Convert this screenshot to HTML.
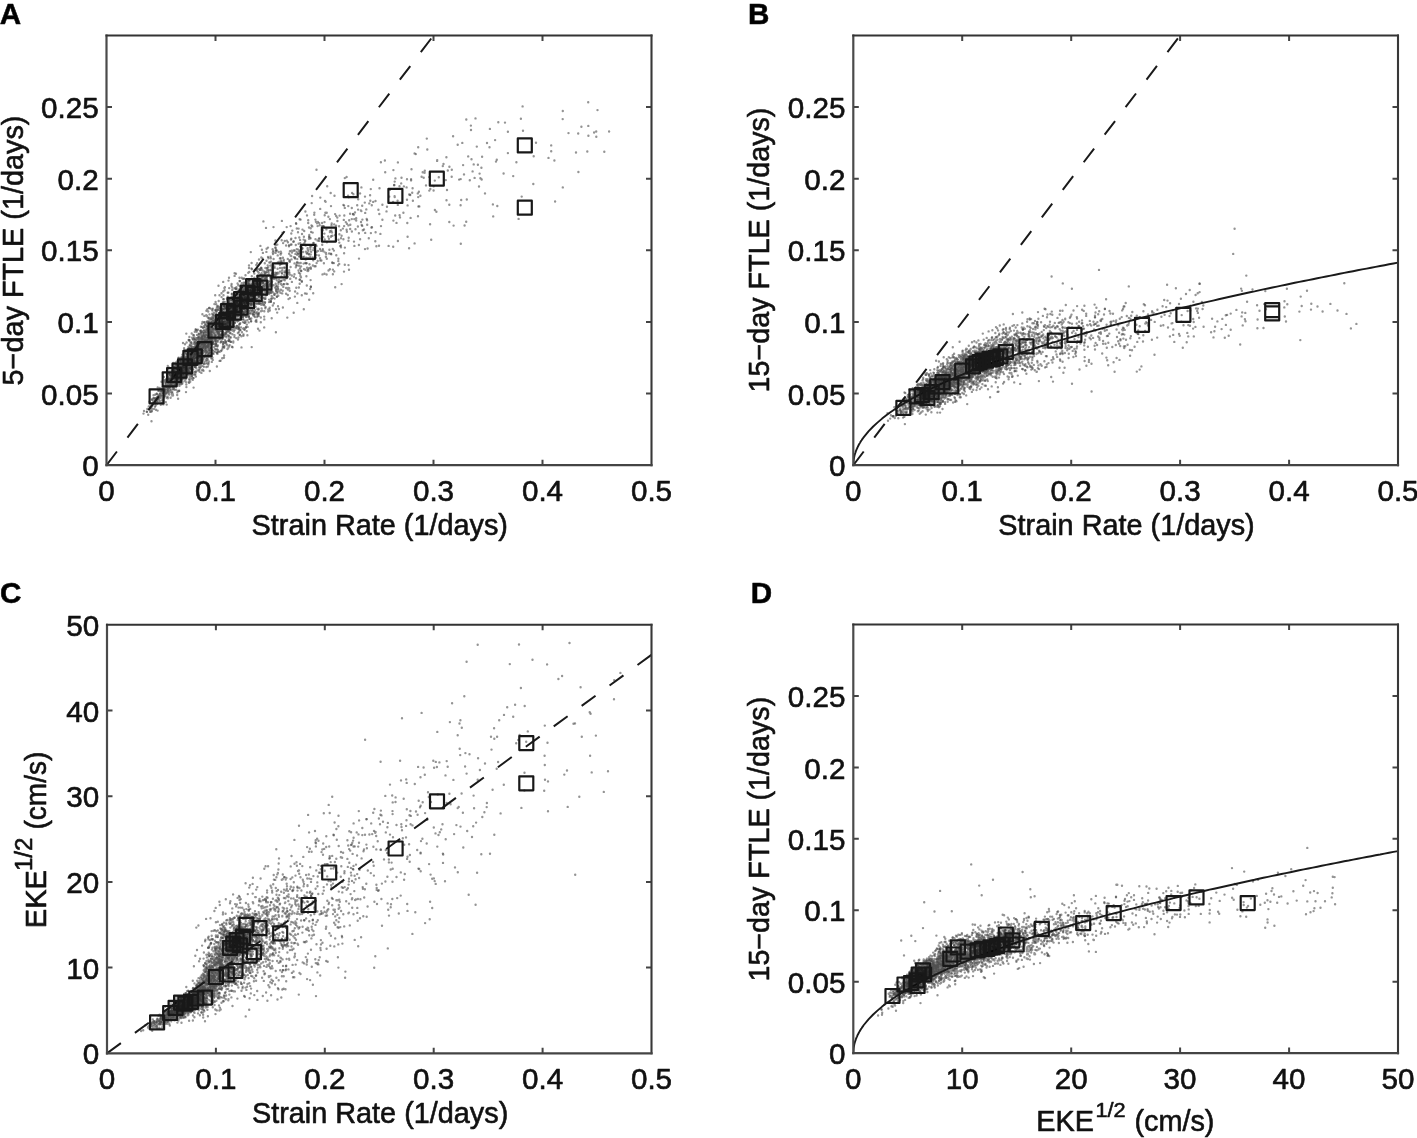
<!DOCTYPE html>
<html><head><meta charset="utf-8"><title>Figure</title>
<style>html,body{margin:0;padding:0;background:#fff;overflow:hidden;}svg{display:block;filter:blur(0.75px);}text{stroke:#111;stroke-width:0.6px;}</style>
</head><body>
<svg width="1417" height="1138" viewBox="0 0 1417 1138" font-family="'Liberation Sans', sans-serif" font-size="28.5" fill="#111">
<rect width="1417" height="1138" fill="#fff"/>
<g stroke-linejoin="round">
<clipPath id="cA"><rect x="106.5" y="35.5" width="545" height="429.7"/></clipPath>
<g clip-path="url(#cA)">
<path d="M172.3 392.1h0M204.3 315.9h0M173.6 368.4h0M161.5 395.5h0M189 359.9h0M211.1 330.8h0M236.4 303.1h0M203 351.3h0M207.7 337.6h0M210.4 351.2h0M245.6 322.2h0M177.3 369.9h0M244.4 294.6h0M223.1 323.2h0M271 261.6h0M179.8 360.9h0M215.6 329.8h0M223.9 327.1h0M238.3 290.9h0M168.4 390.7h0M210.8 327h0M216.9 366.5h0M241.5 347.4h0M173.1 371.7h0M213.6 316.4h0M206.9 315.8h0M187.4 366.1h0M190.6 361.5h0M194.5 351.6h0M272.8 252.5h0M209.4 320.6h0M257.8 279.5h0M201 353.2h0M227.2 323h0M207.8 366.6h0M163.4 386.2h0M220.9 341.8h0M310.3 257h0M228.6 324.9h0M247.7 308.5h0M187.6 366.4h0M224.8 316.8h0M214.6 327.8h0M161.1 389.4h0M291.5 244.4h0M169.8 389.1h0M262.9 298.2h0M229.3 307.1h0M269.7 307.6h0M212.3 309.4h0M221.8 323.2h0M238.8 305h0M186 368.1h0M181.8 364.8h0M210.8 324.1h0M216.2 315h0M262.9 252.9h0M253.3 282h0M229.1 308.9h0M220 335.3h0M239.2 315.1h0M159.7 387.9h0M178.5 374.1h0M207.6 346.9h0M221.8 305.6h0M241.4 306.5h0M183.4 371.4h0M189.8 355.4h0M209.5 350.7h0M224.1 306.1h0M191.6 362.6h0M177.6 372.2h0M194.9 347.1h0M215.3 341.3h0M186.6 342.5h0M266 227.9h0M186.6 362.5h0M204.4 332.5h0M320 248.9h0M216.1 335.1h0M249.6 303.6h0M354 241.6h0M187.1 362.1h0M256.5 303.9h0M234.5 319h0M233.6 311h0M354 214.6h0M162.6 388h0M181.4 377.4h0M200.4 331.1h0M268.8 286.7h0M279.3 261.6h0M240.4 310.5h0M235.2 308h0M159.3 395.6h0M241.2 290.6h0M182.1 376.3h0M187.8 366.9h0M167.6 388h0M209.8 351.6h0M220.6 324.4h0M180.4 373.6h0M191.8 374.7h0M275.9 309.2h0M166.3 382.4h0M199.4 346.8h0M186.6 356h0M227.6 334.8h0M165 391.5h0M229.9 313.8h0M248.2 290.3h0M242.5 313.6h0M185 357.7h0M315.6 266.2h0M229 317.2h0M230.3 312h0M176.4 376.4h0M227.8 304.6h0M285.8 271.7h0M187.5 361.5h0M226.5 315.7h0M244.4 322.6h0M222.4 323h0M168 382.9h0M243.9 286.8h0M255.4 279.7h0M181.9 367h0M240.9 303.6h0M195.4 345.3h0M170.5 384.4h0M236.4 293.9h0M234.6 318.3h0M329.9 219.1h0M239.6 303.8h0M197.3 357.3h0M191.8 344.1h0M155.9 409.8h0M241.2 316.3h0M198.2 344.8h0M168.3 379.5h0M268.6 292h0M176.8 361.6h0M231.4 316.2h0M212.8 359.9h0M270.8 301.9h0M252.8 293h0M284.9 276.6h0M190.3 355.1h0M222.2 328.8h0M180.8 382.3h0M268.9 274.7h0M229 277.7h0M261.7 273.3h0M209.8 319.8h0M216.3 323.4h0M167.5 376.2h0M217.7 341.7h0M181.8 377.9h0M163 400.3h0M234.6 273.3h0M204 322.4h0M251.6 293.5h0M281.1 236.1h0M270.5 256.6h0M187.3 363.2h0M226.4 323.7h0M212.5 328.5h0M328.2 236.4h0M199 370.2h0M255 317h0M219.6 307h0M209.6 350.7h0M201.5 332.1h0M207.2 340.7h0M203.3 359.4h0M262 301.4h0M222.1 319.1h0M248.6 299.6h0M157.1 398.4h0M210.9 329.3h0M207.2 326.2h0M255.9 300h0M174.2 373.9h0M249.3 293.1h0M215.3 340.2h0M310.6 280.1h0M344.1 226.1h0M236.4 287.2h0M236 300.1h0M186.9 372.5h0M175.9 380.1h0M198.9 354h0M216.8 333.6h0M298.5 270.5h0M251.9 292.2h0M172.2 377.6h0M269.2 294h0M219 323.3h0M245.1 291.7h0M188.1 358.6h0M235.7 312.7h0M225.7 307.8h0M200.6 367h0M180.9 381.3h0M271.3 298.4h0M294.8 258h0M269.5 292.2h0M178 374.1h0M212.6 328.3h0M241.7 283.2h0M162.9 401h0M264.5 272.4h0M208 339.6h0M191.5 357.2h0M199.5 367h0M146.9 411.6h0M229.4 327.7h0M236.6 288.7h0M203.5 340.2h0M183.3 370.9h0M153.5 395.2h0M245.4 288.9h0M194.7 340.3h0M212.1 357.7h0M261.7 302.2h0M251.3 318.5h0M299.9 279.6h0M214.5 328.7h0M210.7 335.2h0M241.1 327.4h0M257.6 290.9h0M211.3 331.9h0M239.4 300h0M185.8 373.4h0M233.7 328.7h0M289.4 261.1h0M150 407.9h0M211 338.9h0M192.9 357.6h0M171.1 379h0M201.9 337.4h0M257.9 283.9h0M203.3 334.7h0M187.1 368.9h0M191.9 358.9h0M244.1 294.7h0M173.6 378.3h0M234.2 312.8h0M185.4 365.5h0M261.1 278.2h0M227.7 296.7h0M211.3 340.4h0M299.9 255.5h0M224 313.8h0M275.7 283.8h0M161.5 381.8h0M208 334.9h0M261.5 287.8h0M199.5 349.2h0M204.2 347.5h0M209 338.8h0M200 352.5h0M203.8 346.5h0M195.8 364.6h0M297.1 254.8h0M206.5 338.8h0M315.6 257.4h0M308 271h0M201.5 339.9h0M203.9 357.5h0M236.2 338.1h0M223.2 328.2h0M266.4 285.8h0M243.9 302.6h0M210.8 319.5h0M229.6 307.1h0M236.5 297.8h0M266 272.3h0M232.8 310.4h0M198.4 352.8h0M208 321.4h0M411.5 169.3h0M194.9 354.8h0M242.2 308.4h0M236 328.1h0M240.9 316.2h0M189.3 360.3h0M225 312.1h0M225.2 305.4h0M231.1 312.1h0M275.2 247.6h0M185.9 364h0M206.9 339.2h0M257.2 299.2h0M258 284.3h0M237.2 294.5h0M250.4 310.4h0M208.3 330.7h0M264.7 274.1h0M210.9 347.8h0M218.8 351.9h0M225.8 334.1h0M201.5 358.5h0M298.2 253.9h0M150.7 405.9h0M219 335.6h0M194.8 355.9h0M231.6 284h0M203.3 351.2h0M211.3 334.4h0M194.5 337.6h0M229.4 304.4h0M214.1 347.2h0M176.8 384h0M209.9 339.9h0M212 318.4h0M225.6 315.5h0M196.1 347h0M278 306.2h0M215.8 329.2h0M176.2 379.2h0M189.2 363.1h0M232.8 307.5h0M173.8 387.8h0M252.1 288.1h0M240.8 303.2h0M250.8 252.1h0M148.2 414.7h0M152 399.8h0M195.2 366.8h0M210.3 335.3h0M272.2 284.9h0M221.6 297.1h0M205 335.7h0M242.8 289h0M205.7 343.6h0M220.4 336h0M275.9 250h0M223.5 336.5h0M281.3 261.9h0M218.4 336.7h0M286.7 227.1h0M211.1 318.8h0M194.3 359.1h0M289.4 272.4h0M245.9 288.1h0M205.3 339.8h0M233.6 317.6h0M188.2 360.9h0M212.9 353.3h0M261.1 303.1h0M155 406.8h0M289.9 251.2h0M249.6 292.7h0M268.5 258.2h0M257.5 315.8h0M200.4 360.5h0M251.5 268.4h0M203.3 343.9h0M208.5 344.3h0M225.8 341.4h0M256.3 320h0M365.2 232.9h0M184.1 366.7h0M191.3 358h0M184.5 376.4h0M209.8 342.6h0M173.4 388.8h0M178.4 378.3h0M277.3 244.6h0M359 258.6h0M156 398.2h0M219.1 333.2h0M239.8 305.1h0M228.6 331.5h0M272.6 249.2h0M247.6 326.9h0M248.3 293.7h0M219.1 329.7h0M218.7 334h0M181.3 371.8h0M241.7 277.8h0M282.2 293.4h0M232.6 327.9h0M247.5 279.1h0M417.8 193.4h0M247.1 287.7h0M233.9 303.2h0M209.4 307.9h0M306.7 293.8h0M183.6 358.6h0M204.8 335.6h0M185 362.6h0M256.5 283.5h0M190.2 381.7h0M266.3 275.9h0M192 347.9h0M272.3 297.3h0M184.2 373.4h0M186.8 362.4h0M196.6 359.2h0M184.5 378.3h0M243.2 289.5h0M211.3 357.6h0M197.1 343.7h0M189.6 358.5h0M155 394.8h0M273.9 303.2h0M205.3 351.2h0M188.7 364.2h0M161.4 390.9h0M326.4 229.4h0M224.6 321.4h0M283.7 261.4h0M216.7 308.3h0M251.1 320.9h0M259.2 303.7h0M221.6 321.6h0M249.5 280.5h0M179.9 376.2h0M228 330.3h0M246.7 297.4h0M207.8 322h0M220.7 310.5h0M173.8 370.2h0M167.8 366h0M296.7 252h0M223.5 318.4h0M182.4 379h0M226.8 331.8h0M202.9 354.2h0M195.1 355h0M184.4 372.1h0M208.2 322h0M181.1 377.8h0M179.8 359.6h0M195.1 373.4h0M271.8 284.8h0M195 351.7h0M208.7 341.6h0M195.4 373.9h0M407 199.7h0M218.8 323.5h0M244.6 322.9h0M305.4 211.5h0M152.2 406h0M237.4 307.3h0M189.2 382.7h0M180.2 367h0M202.1 337.6h0M239.8 302.4h0M276.6 273h0M189.4 371.6h0M202.1 335.6h0M301.2 271h0M209.3 334.1h0M168.9 379.3h0M243 316.9h0M196 350.8h0M296.2 223.8h0M187.4 361.1h0M300.2 243.3h0M336.2 216h0M224.2 347.8h0M201.2 353.4h0M261.9 281.8h0M201 341.8h0M202.4 337.5h0M233.8 314.8h0M224.2 306.3h0M221.5 334.6h0M229.3 340.1h0M187.3 364.1h0M147.3 408.9h0M229.2 288.1h0M163.9 390h0M219.4 326.9h0M159.2 398.7h0M252.9 301.8h0M210.3 333.6h0M216.8 324.5h0M277.7 255.4h0M227.5 304.9h0M208.1 334.1h0M264.3 319.4h0M212.5 357.8h0M251.2 295.5h0M216 344.1h0M187 373.7h0M219.4 313.6h0M215.2 320h0M223.1 345.5h0M227.5 324.8h0M197.7 356.5h0M201.7 353.2h0M154.1 408.9h0M249.4 299.8h0M216.8 324.5h0M260.7 278.5h0M228.2 320.8h0M175.1 384.4h0M206.1 333.8h0M208.5 346.7h0M194.8 337.6h0M195.2 349.7h0M320.3 197.6h0M174.5 372.4h0M270.7 290.6h0M229.1 321.7h0M183.1 363.9h0M167.1 387.9h0M228.2 325h0M228.4 311h0M238.6 315.2h0M181.8 369.6h0M294.7 250.5h0M247.5 307.1h0M240.5 317.7h0M203.4 347.7h0M216.8 319.5h0M229.3 341h0M270.2 284.2h0M206.3 338.9h0M234.6 329.9h0M228.5 280.6h0M191.8 349.2h0M191 354.3h0M224.7 313.3h0M176.4 383.3h0M191.2 360.1h0M232.2 287.5h0M196.8 345.3h0M227.7 292.7h0M235.9 288.9h0M227.5 321h0M197.5 344.5h0M214.9 325.4h0M183.8 353.5h0M208.8 361.4h0M190.7 356.6h0M203.3 351.7h0M207.7 339.2h0M194.4 347.4h0M159.9 394.2h0M187.4 355.2h0M270.8 286.1h0M208.5 333.5h0M193.6 387.6h0M212.6 341.5h0M238.7 326.4h0M273.5 252.4h0M232.1 310.6h0M258.3 272.3h0M226.1 315.6h0M282.1 273.5h0M208.4 356.8h0M189.5 350.3h0M206.8 316.3h0M217.9 306h0M201 352.4h0M225.8 306.5h0M200.6 358.1h0M277.8 262.4h0M230.5 305.8h0M232.2 312.8h0M217.3 352.5h0M158.5 401h0M184.7 358.1h0M186.3 384.5h0M194.4 365.6h0M348.5 265.1h0M211.7 328.8h0M264.8 273.9h0M215.7 345.7h0M252.3 293.8h0M175.3 380.9h0M239.9 310.6h0M193.2 354.1h0M303.2 252h0M328.5 270.5h0M201.7 343.7h0M165 389.1h0M195.7 353h0M201.6 338.6h0M206.2 340.3h0M236.4 303.6h0M223.9 334.8h0M174.7 385h0M196.4 352.6h0M231.7 296.9h0M228.3 340.8h0M239 331.8h0M258.4 284.7h0M218.8 323.5h0M183.5 366h0M229.6 317.4h0M263.8 286.9h0M261.3 280.2h0M169.4 385.3h0M222.5 315.2h0M224.8 342.7h0M180 377h0M201.9 349.8h0M202.1 359.5h0M173.7 389h0M207.4 329.7h0M243.7 282.8h0M209 326h0M172.7 377.1h0M168.9 367.7h0M199.4 348.9h0M257 312.2h0M196.2 344h0M206.2 315.2h0M168.2 389.5h0M262.1 296.9h0M192.4 349.5h0M308.4 270.4h0M202.3 353.7h0M204.8 346.5h0M223.1 338.6h0M210.5 327.2h0M230.5 304.6h0M196.1 345.3h0M246.9 292.1h0M236.7 299.9h0M205.3 324.9h0M190 345.8h0M226.1 313.9h0M189.2 340.1h0M266.9 288.2h0M222.6 323.1h0M229.7 329h0M259.3 303.7h0M233.3 342.6h0M313.5 243h0M215.2 310.1h0M213.7 322.5h0M208.4 328.6h0M211.3 318.6h0M223.4 347.4h0M176.8 376.2h0M202.2 351.9h0M162.9 392.9h0M228.6 335.4h0M171.1 383.8h0M181.5 368h0M153.3 398.3h0M271.7 318.3h0M194 372.3h0M287.9 242.3h0M182.7 358.9h0M213.9 324.9h0M251.2 291.3h0M190.5 364.9h0M207.8 346.9h0M258.9 301.9h0M261.3 287.4h0M220.2 308.3h0M332.2 262.5h0M179 373.9h0M239.9 335h0M165.8 402.1h0M293.7 312.7h0M177.1 365.2h0M206.8 321.8h0M228.8 308.5h0M168.3 380.7h0M204.4 344.8h0M243.7 290.6h0M235.3 304.1h0M234.7 319.7h0M196 353.1h0M171.2 384.3h0M221.1 309.7h0M218.7 301h0M255 284.2h0M236.1 292.2h0M157.8 400.9h0M260.3 287.6h0M265.2 278.3h0M198 358.1h0M224.4 346h0M255.6 293.6h0M207.4 309.2h0M188.7 352h0M233.3 341.4h0M272.8 297.7h0M217.2 319.2h0M224.3 312.7h0M191.3 345.8h0M205.3 348.3h0M201.9 340.9h0M237 310h0M226.5 313.1h0M232.2 325.2h0M205.1 338h0M171.7 376.3h0M211.7 344h0M207 340.8h0M181.9 376h0M237 326.2h0M208.4 364.6h0M232 315.5h0M306.1 263.4h0M240.3 293.3h0M264 279.4h0M231.7 306.2h0M203.9 350.7h0M182.3 367.1h0M178.9 367.7h0M220 317.7h0M194 356.6h0M216 333.3h0M281.5 276.4h0M201.9 341.2h0M193.9 342.2h0M171.1 392.2h0M286.1 293.8h0M253.8 287.5h0M208.5 339.2h0M195.8 329.9h0M172.5 386.7h0M311.5 225.5h0M192.2 350.3h0M228.8 299.5h0M213.5 322h0M177.8 368.9h0M225.4 307.4h0M222.5 326h0M217.1 346.3h0M219.6 337.9h0M207.8 359.2h0M215.7 344.5h0M309.5 264.3h0M186.4 387.1h0M231.4 328.8h0M162.4 387.3h0M252.4 310.2h0M229.7 345.1h0M199 349.1h0M242.7 306.5h0M241.7 304.4h0M265.1 302.2h0M207.2 346.3h0M242.4 299.3h0M208.9 341.3h0M206.6 341.4h0M192.5 347.3h0M270.6 262.4h0M220.1 314.4h0M220.8 314.5h0M201.9 344.2h0M203.9 366.8h0M207 353.6h0M263 276.8h0M151.1 411.8h0M185.1 363.3h0M238.9 328.1h0M258.8 272.7h0M213.2 317.9h0M193.9 355.4h0M345.8 222.1h0M186 392.1h0M241.4 336.3h0M291.3 238.6h0M172.8 377.3h0M195.2 353.4h0M239.7 297.8h0M214.7 334.5h0M301.9 281.8h0M312.1 196h0M240 309.2h0M152.3 408.6h0M208.7 353.7h0M240.5 302.7h0M232.6 328.9h0M185.1 353h0M203.3 338.7h0M249.9 292h0M235.1 308.3h0M223.8 336.5h0M199.1 367.2h0M185.5 369.9h0M242 332.2h0M239.2 328.9h0M235 305.9h0M170 386.8h0M204 341.2h0M243.1 319.6h0M172.7 383.5h0M188.6 370.5h0M227.5 307h0M219.4 318.5h0M255.3 290.1h0M224.4 323.9h0M244.8 305.1h0M189 364.2h0M218.8 330.7h0M213.7 351.3h0M260 281.9h0M276.9 296.6h0M249 265.4h0M232.8 319.9h0M169.7 390.1h0M227.2 305.1h0M154.9 402h0M169.7 389h0M178.6 370.6h0M151.4 411.7h0M218.6 327.6h0M211.5 340.8h0M257.2 276.2h0M240.2 323.3h0M215 325.4h0M336.3 255.3h0M301.1 247.4h0M191.3 352.8h0M221.3 315.4h0M266.5 276.7h0M310.7 254.4h0M240.5 330.1h0M224.6 290.3h0M195.7 340h0M209.6 356.6h0M184.6 361.7h0M182.2 383.8h0M205.1 356.7h0M202.6 354.3h0M191.5 376.3h0M253.8 314.6h0M211.7 322.9h0M176.7 380h0M179.7 371.5h0M200.5 365.9h0M191.1 354.7h0M189.8 367.7h0M180.8 357.7h0M272.8 305.5h0M220.8 325.9h0M239.1 289.4h0M179.3 368.3h0M209.3 323.7h0M239.3 312.5h0M259.5 269h0M271.2 270.3h0M189.8 361.8h0M204.2 340.5h0M200.5 347.8h0M192.2 367.3h0M233.8 313.2h0M238.1 294.4h0M167.3 390.3h0M166.1 388.8h0M190.8 359.4h0M221.8 321.9h0M268.5 270.3h0M196.7 331.8h0M180.5 376.1h0M183 364.2h0M196 349.2h0M245.5 297.7h0M264.2 327.4h0M254.7 269.9h0M177.7 361h0M189.4 351.4h0M244.4 329.5h0M207.5 341.2h0M217.8 316.4h0M222.3 316.3h0M178.3 369.5h0M218.3 323.7h0M231.8 294.3h0M178.9 384.2h0M234.4 337.1h0M276.5 291.4h0M222.7 318.4h0M199 356.2h0M280.6 281.6h0M246.9 316.5h0M230.3 307.7h0M204.3 341.7h0M261.5 297.5h0M193.5 338.8h0M191.6 371.4h0M213.1 321.1h0M320.3 260.4h0M338.3 261.1h0M231.9 300.3h0M222.8 302.6h0M207 357.9h0M210 341.2h0M190.3 355.9h0M249.2 312.6h0M168.7 380.4h0M236.1 310.4h0M248.9 317h0M244.2 287.7h0M222.8 326.9h0M211.7 337.2h0M206.2 334.8h0M198.8 337.2h0M191.2 342.2h0M189.6 354.3h0M193.1 339.2h0M209.9 342.1h0M171.2 379.9h0M238 290.9h0M207.8 337.9h0M223.8 314.4h0M205.9 339.1h0M235 312.2h0M253.2 289.2h0M219.5 295.2h0M217.7 323.6h0M252.4 298.7h0M232.3 319.4h0M205 348.9h0M218 326h0M186 370.1h0M243.5 308.7h0M184.2 371.2h0M172.5 371.4h0M196.7 352.3h0M217.3 331.5h0M171.2 381h0M169.1 373.9h0M238.5 337.4h0M198.3 345.5h0M211.3 322.1h0M215.8 329.6h0M175.6 362.8h0M175.5 372.3h0M191.8 376.4h0M214.4 304.1h0M212.7 322.9h0M196 358.2h0M165.8 393.8h0M189.9 374.8h0M183.6 358.7h0M178.5 370.2h0M204.2 357.3h0M169.3 374.2h0M158.7 390.4h0M233.9 312h0M206.7 360.4h0M193.1 374.4h0M231.1 313.5h0M195.5 349.7h0M201.7 348.2h0M225.3 333.5h0M260.1 269.9h0M174.1 373.4h0M298.9 272.7h0M186.6 360.2h0M257.9 313.8h0M221.2 311h0M212.6 339.1h0M206 353.5h0M157.8 400.2h0M203.1 357.1h0M228.2 309.5h0M210.1 333.7h0M196.6 354.5h0M194.3 361.2h0M223.2 304h0M172.5 386.2h0M228.6 326.5h0M195.4 344.2h0M222.5 325.5h0M234.5 288.4h0M188.8 360.2h0M305.1 241.4h0M225.2 316.7h0M239.9 303.4h0M221.5 315.2h0M190.2 348.3h0M240.6 291.6h0M158.6 396.9h0M159.5 397.1h0M166.1 385.5h0M213.6 343.8h0M202.8 343.5h0M186.8 360.2h0M254.2 298.7h0M186.3 359.1h0M176.6 365.7h0M195.3 352.2h0M215.8 333.2h0M294.5 263.4h0M284 267.6h0M289.1 270.3h0M239.6 281h0M197 357.8h0M188.7 364.2h0M271.7 296h0M213.5 317.5h0M223 322.5h0M223.2 299.3h0M191.1 353h0M466.2 221.8h0M505 122.6h0M370.9 233.1h0M266.9 280h0M554.4 160.5h0M259.4 293.5h0M272.1 281.6h0M287.9 276.7h0M267.1 294.7h0M326.7 212.7h0M437.1 160.9h0M316.5 254.9h0M395.4 178.4h0M293.3 241.8h0M397.9 241h0M310.2 289h0M259.2 278.1h0M403.4 212.8h0M588.2 102.3h0M346.9 231.7h0M330.9 253.8h0M248.5 290.2h0M284.3 272.1h0M503.6 173.5h0M281 264h0M365 249.1h0M309.1 254.6h0M380.4 233.9h0M308.3 251.1h0M267.1 284.4h0M507.9 153.1h0M272.3 285.6h0M296 278.2h0M376.4 246.2h0M251.8 276.2h0M324.5 222.1h0M324.5 273.8h0M533.3 184h0M588.4 135.8h0M282.7 290.7h0M239.3 328.5h0M331.3 230.7h0M344.3 215.5h0M289.7 290.7h0M489.9 128.9h0M319.7 225.2h0M279.9 258.4h0M323.3 237.1h0M276 289.2h0M410.6 217.9h0M551.2 145.4h0M309.1 236.8h0M360.9 210.5h0M290.6 226.1h0M269.2 288.3h0M275.9 332.3h0M297 265.4h0M464.6 225.5h0M263 286.2h0M317.5 240.5h0M298.6 243.8h0M337.4 221h0M261.2 274.2h0M261 268.6h0M310.7 267.4h0M475.5 118.4h0M447.8 170.5h0M305.7 259.6h0M513.2 176.1h0M320.1 258.3h0M311.7 203.1h0M332.4 235.7h0M384.9 160.5h0M316.5 169.7h0M399.6 215.2h0M308.3 257.9h0M252.2 304.4h0M445.8 180.1h0M597.5 110.1h0M496.8 159.7h0M397.9 162.4h0M251 305.3h0M353.1 213.9h0M431.2 239.7h0M481.7 179.5h0M426.8 138.6h0M268.6 284.4h0M299.7 256h0M259.7 303.4h0M267.7 282.7h0M379.3 214h0M426 185.4h0M442.8 166.1h0M477.9 164.7h0M323.4 226.2h0M353.4 194.2h0M325.4 212.8h0M438.8 177.2h0M578.4 172h0M396.5 222.9h0M262.8 286.9h0M267.4 286.4h0M460.6 205.3h0M317.9 221.9h0M317.6 226.1h0M411.1 179.3h0M489.5 147.2h0M350.2 229h0M361.4 187.4h0M307.5 270.9h0M322.2 233.6h0M487 143h0M349 269.8h0M340.8 230.2h0M317 223.3h0M334.2 271.4h0M326.8 258.8h0M311.1 232h0M401.2 183.4h0M262.9 282.6h0M336.1 225.7h0M264.8 299h0M298 232.3h0M386.5 211.4h0M299.7 251.7h0M459.1 179.6h0M322.9 249.2h0M474.6 177.9h0M397.6 200.8h0M479 186.5h0M482.1 156.7h0M240.9 306.1h0M536 142.8h0M257.7 283.3h0M254.1 312.4h0M343.4 204.9h0M279.1 279.7h0M481.4 167.7h0M449.3 204.7h0M315.9 221.7h0M407.6 205.4h0M285.4 270.6h0M246.3 301.7h0M372 227.2h0M278 288.5h0M341 238.3h0M516.4 162.2h0M314.4 212.6h0M385.2 172.2h0M245.2 320.8h0M361.4 211.1h0M476.8 146.6h0M316.5 245.9h0M369.3 203.4h0M437.2 160.1h0M296.8 249.1h0M256.3 280.7h0M268.6 272.7h0M249.8 313.1h0M245.3 298.9h0M449.4 166.8h0M252.3 303.4h0M248.5 298h0M282.5 232.6h0M348.4 225.4h0M362.4 219.6h0M284.1 284.2h0M394.1 185.2h0M307.7 270.4h0M329 238.7h0M278.4 283.8h0M419.3 206.4h0M268.8 284.9h0M337.3 217.5h0M433.6 190.5h0M346.9 223.8h0M331.7 223.4h0M327.2 186.3h0M344.8 264.7h0M507.9 131.7h0M495.1 140.1h0M335.1 235.1h0M339.1 226.2h0" fill="none" stroke="#404040" stroke-width="2.4" stroke-linecap="round" opacity="0.56"/>
<path d="M270.7 277.8h0M210.6 332.6h0M239.7 297.3h0M343.8 219.9h0M251.7 311.2h0M246.2 284.4h0M278.4 281.9h0M251.7 284h0M231 303.3h0M298.5 249.8h0M248.1 303.2h0M172.6 383.5h0M191.9 376h0M225.3 334.9h0M210 345.1h0M218.4 307.4h0M215.9 342.2h0M234.4 327.2h0M188 371.9h0M223.5 332.4h0M232 316.4h0M167.7 389.6h0M178.6 357.8h0M185 368.4h0M234.6 275.9h0M291.9 281.9h0M228.3 320.4h0M164.5 396.2h0M213.3 331.4h0M244.2 297.9h0M231.7 315.4h0M225.3 324h0M189.3 362h0M204.8 342.2h0M259.9 269.7h0M208.9 350.2h0M198.9 333.8h0M209.8 371h0M245.8 311.8h0M216.6 316.9h0M212.4 343.3h0M215.3 336.2h0M235.2 311.5h0M198.9 363.3h0M207.7 343.9h0M224.1 355.4h0M248.7 306.5h0M148.8 406.4h0M246.2 300.9h0M172.4 385h0M300.9 258.7h0M237.5 307.2h0M195.7 329.3h0M176.8 382.4h0M227.8 315.4h0M191.2 355.3h0M211.3 332.8h0M269.3 262.5h0M211.5 335.2h0M278.3 295.8h0M212.3 319.4h0M228.1 314.5h0M328.4 216.8h0M180.5 370.8h0M193.9 349.3h0M268 247.6h0M194.9 349.9h0M243.7 306.2h0M201.6 350h0M252 285h0M287.8 289.6h0M198.8 341.5h0M193.6 355.1h0M226.9 326.4h0M261 292.7h0M181.7 367.5h0M220.7 327.1h0M295.1 291.5h0M197.9 345.2h0M199.5 357.5h0M266.1 295.3h0M246.4 299.5h0M184.9 365.1h0M262.7 303.4h0M220.6 360.7h0M155.9 399.8h0M182 372h0M189.1 348.3h0M212.1 340.1h0M220.5 321.7h0M248.3 272.8h0M269.8 310.5h0M247.9 305.2h0M175.2 369h0M207.7 331.7h0M248.4 302.8h0M180.7 363.7h0M192.5 358h0M174.8 384.8h0M208.7 347.7h0M208.7 337.5h0M222.6 317.6h0M205.7 344h0M143.5 413.6h0M200.4 360.2h0M242.9 295.1h0M205.5 345.1h0M226 343.4h0M290.6 267h0M216 330.7h0M212.8 308.6h0M215.5 324.6h0M265.3 297.4h0M195.8 343.3h0M277.2 312.6h0M309.4 237.2h0M189.4 350h0M257.7 303.3h0M187.1 349.6h0M265.5 273h0M215.2 295.2h0M205.9 355.4h0M175 371.3h0M213.5 329h0M186.1 350.9h0M197.4 356.2h0M181.1 361.8h0M215.9 316.4h0M179 391h0M300 268.5h0M250 292.9h0M234.9 310.6h0M224.1 335h0M302 234h0M186.3 358.5h0M228.3 311.1h0M212.6 350.1h0M252.3 290.4h0M183.8 373.4h0M179.4 385.9h0M348.3 206.1h0M216 349.6h0M179.6 374.3h0M234 309.5h0M217.9 310h0M203.3 352.8h0M182.7 366.1h0M275.7 245.3h0M173 385.4h0M252.1 313.6h0M304.4 243.2h0M218.5 285.7h0M217.4 331.8h0M286.8 240.6h0M183 343h0M201.6 339h0M344.9 247.6h0M329.1 253.5h0M170.7 378.8h0M156.9 401.5h0M242.3 307.4h0M235.9 302.1h0M221.3 308.2h0M183.2 367.9h0M184 361.9h0M274.5 266.5h0M186.9 373h0M209.5 332.1h0M224 357.7h0M230.4 328.4h0M202.6 336.5h0M234.2 297.3h0M203.2 345h0M181.2 377.2h0M204.5 346.2h0M220.9 335.1h0M191.6 362.1h0M201.2 357.5h0M221.7 310.4h0M195.2 344.3h0M176.4 378.5h0M241.8 296h0M174.4 380.6h0M225.7 333.2h0M247.1 309.2h0M192.1 348.8h0M175.7 375.2h0M424.8 170.7h0M224.2 309.5h0M195.8 367h0M289 246.2h0M191.8 352.5h0M189.1 371.8h0M259.5 302.8h0M188.8 353h0M178.9 382.3h0M222 324.8h0M227.5 349h0M219.3 319h0M267.9 292.2h0M167.6 396.7h0M210.6 326.9h0M300.7 263h0M206.6 331.7h0M153.3 401.2h0M201.9 345.5h0M227.5 325.5h0M181.4 370.3h0M195.6 347.6h0M301.8 295.3h0M277.2 293.3h0M197.7 353.1h0M211.8 361.9h0M218.8 336.5h0M156.7 398.9h0M170.1 373.2h0M248.9 295.4h0M200.3 349.3h0M262.1 310.7h0M193.8 335.5h0M246.7 303.3h0M195.6 362h0M251.2 292.3h0M207.3 346.8h0M280 268h0M239.9 281.1h0M197.9 329.8h0M166.7 404.6h0M181.4 360.5h0M204.7 322.3h0M192.7 379.9h0M229.3 309.7h0M202 340.1h0M206.3 367h0M246.6 298.4h0M270.8 258.3h0M215.2 352h0M181.8 370.7h0M232.6 347.2h0M217.8 325.1h0M239.7 334.8h0M306.7 263.1h0M228.5 322.6h0M201.3 344.3h0M225.9 328.3h0M241.1 298h0M209.2 330h0M168.2 393.4h0M223.4 342.1h0M191.1 357.2h0M236.9 309.1h0M190.9 367.6h0M173.5 380h0M245 299.9h0M211.3 322.8h0M215.1 339h0M269.4 309.3h0M206.4 346.7h0M151.5 421.2h0M219.4 327.5h0M254.3 315.2h0M250.5 295.5h0M208.3 351.1h0M171.4 375.3h0M206.3 345h0M215.6 301.9h0M232.4 305.8h0M217.5 330h0M202.9 347.5h0M230.3 329.9h0M200.8 333.2h0M216.4 324.2h0M181.1 384.3h0M205.4 324h0M178.7 373.2h0M198.6 349.3h0M191.8 368.1h0M173.4 373.2h0M295.2 258.6h0M282.9 307.5h0M228.5 330.3h0M267.6 286.6h0M178.8 374.6h0M200.1 363.4h0M211.5 337.6h0M222.9 309.2h0M158.5 390.9h0M323.6 251.4h0M171.7 378.2h0M230.7 311.6h0M185.3 364.8h0M178.6 379.4h0M172.3 374.1h0M215.5 339.1h0M233.9 331.4h0M253.2 310.8h0M237 316.3h0M238.3 296.7h0M268.3 292.6h0M189.3 379h0M207.4 337.8h0M227.8 348.5h0M282 270.7h0M194.8 331.7h0M199.2 350.5h0M257.4 309h0M192.1 351.1h0M209 338.9h0M216.6 314.2h0M208.3 354.6h0M283.1 243.1h0M276.6 285.7h0M257.3 270.7h0M199.9 344.1h0M309 238.7h0M223 312.3h0M174.2 371.3h0M235.7 312.9h0M238 327.5h0M168.1 368.4h0M289.2 288.3h0M237.3 300.4h0M196.6 350h0M157.1 404.1h0M200.6 349.1h0M239.2 324.4h0M216.4 337.4h0M270.8 278.2h0M219.9 326h0M150.6 408.2h0M247.6 302.9h0M293.8 241.4h0M192.5 359.1h0M178.1 398.7h0M149.4 401.8h0M174.2 369h0M236.6 301.6h0M204.1 330.1h0M247.6 310h0M235.6 310.2h0M179.4 375.1h0M193.9 356.3h0M196.9 347.3h0M216.9 331.3h0M206 331.4h0M208.5 327.7h0M198.8 346.7h0M176.2 385.5h0M195.1 342.1h0M203.4 345.5h0M189.8 344.9h0M186 378.2h0M221.7 319.9h0M200.4 341.8h0M247.2 308.5h0M206 351h0M210.7 332.9h0M251.6 289.7h0M268.3 309.4h0M179.8 370.6h0M220.7 314.9h0M198.8 364.8h0M210.8 337.5h0M251.2 302.3h0M189.1 362.2h0M331.3 254.2h0M212.9 314.6h0M203.5 339h0M302.5 229.6h0M270.4 270h0M221.1 326.5h0M216.5 340.9h0M305.2 240.4h0M247.8 292.6h0M231 307.2h0M260.3 291.7h0M264.8 263.3h0M249.2 284.8h0M235.6 310.3h0M195.4 343.5h0M208.9 337.2h0M247.7 283.4h0M200.2 354.1h0M191.4 346.5h0M217.3 326.9h0M239.2 329.5h0M195.8 345.9h0M189.5 358.8h0M220.2 323.8h0M212.9 342.3h0M176.8 375.2h0M243.3 319.2h0M229.3 322.8h0M215 316.3h0M278.1 286.5h0M170.1 386.1h0M236 292.9h0M209.1 352.5h0M179.7 372.2h0M243.8 299.5h0M257.8 288.8h0M209.5 314.4h0M191.4 374.2h0M244.3 290.4h0M304 269.1h0M170.8 381.3h0M222.2 349.2h0M235.3 292.1h0M244.2 315.7h0M240.8 315.1h0M198 351.1h0M200.1 349.5h0M228.2 310.8h0M212.8 323.9h0M215.9 315.6h0M191.2 343h0M208.6 356.1h0M222.1 327h0M395.2 215.5h0M207.1 350.7h0M210.3 323.4h0M311.2 246.4h0M325.4 252.6h0M170.8 380.6h0M204.6 336.5h0M358.1 209.6h0M192.4 354.4h0M222.4 332.4h0M170.4 385.1h0M238 339.5h0M237.1 302.2h0M219.8 339.3h0M231.8 307.8h0M293.7 250.5h0M222.8 321.6h0M258.7 300.7h0M186.9 373.2h0M195.8 357.3h0M224 346.9h0M269.5 285.6h0M260.8 282.9h0M186.8 361.9h0M173.2 377.2h0M172.7 375h0M194.9 366.7h0M210.8 334.1h0M296 223.3h0M241.7 298.6h0M197.8 360.8h0M236 320.6h0M246.4 292.6h0M228.4 292.6h0M223.5 295.3h0M187.5 375.2h0M170.5 377.9h0M235.7 308.1h0M196.1 353.1h0M254.6 311.2h0M182.7 361.1h0M228.8 303h0M190.8 360.7h0M216.6 328.6h0M222.2 333.9h0M262.6 290.4h0M229.9 319.6h0M221.3 328h0M225.6 309.4h0M235.4 288.1h0M189.7 377.2h0M218 332.3h0M249.6 295.5h0M183.4 365.3h0M172 389.5h0M211.4 323.6h0M169.7 383.5h0M185.7 375.9h0M266.2 277.7h0M189.4 340h0M260.4 280.2h0M206.4 310.8h0M301.7 281h0M180.6 380.1h0M194.8 353h0M195.8 367.8h0M173.2 376.8h0M212.8 342.2h0M243.5 334.4h0M175.4 376.8h0M186.1 362.2h0M245.5 275.2h0M202.5 339.2h0M167 384.6h0M314.5 258.3h0M208.2 311.5h0M272.2 273.6h0M274 274.5h0M216.2 337.5h0M216.6 322.4h0M222.9 324.4h0M204 326.3h0M224.8 313.2h0M166.8 385.6h0M213.9 338h0M200.7 345.8h0M324.7 239.5h0M194.1 343.9h0M150.6 410.2h0M218.7 318.4h0M210.5 339h0M199.6 371.8h0M183.3 378.4h0M153.2 402.2h0M247.1 302.4h0M176.1 389.8h0M197.2 357.2h0M215.9 310h0M232.9 306.9h0M155.3 398.5h0M188.8 352.6h0M202.4 352.6h0M230.6 308.4h0M180.6 363.6h0M285.8 278.4h0M199.2 355h0M172.4 383.9h0M278.9 309h0M197 334.9h0M248.9 280.1h0M254.8 295.7h0M202.6 338.8h0M214.5 331.4h0M163.8 387.9h0M172 385.3h0M174.3 367.3h0M195 339.1h0M200.7 346.6h0M211 336.9h0M323.7 226.5h0M268.2 267.4h0M319 255.4h0M177.3 392.4h0M204 345.1h0M220.3 310.8h0M154.6 399.5h0M242.6 298.6h0M253 281.6h0M226.5 316h0M170.9 379.6h0M208.6 346.1h0M166.5 379.3h0M180.4 371.1h0M231 337.4h0M219.7 335.1h0M216.6 311h0M163.9 390.1h0M158.2 395.1h0M237.2 294h0M183.2 367.2h0M247.5 298.1h0M205.8 340.9h0M192.5 353.4h0M185.8 367.2h0M243.2 298.1h0M300.4 275.9h0M207.3 339.3h0M203.6 351.3h0M225.7 336.1h0M184.1 351.8h0M201.6 339.1h0M192.6 352h0M191 358.2h0M277 296.7h0M266.8 268.3h0M253.4 287h0M243.3 311.7h0M276 251h0M164.3 390.5h0M189.5 365.1h0M213.1 330.2h0M173 377h0M193.7 378.1h0M170.7 377.3h0M243.7 303h0M228.7 347.2h0M222.8 328.7h0M206.3 330.6h0M219.6 326.8h0M211.7 335.4h0M210.3 339.1h0M229.6 328.8h0M184.2 364.4h0M213.6 339.6h0M231.4 285.8h0M221.4 307h0M242.7 317.2h0M177.1 368.5h0M248.4 303.1h0M223.7 317.5h0M257.5 309.2h0M164.9 380.5h0M205 351.8h0M221.2 315.5h0M203.4 333.3h0M193.3 362h0M180.2 374.2h0M219 321.5h0M262.6 275.9h0M188.1 365.2h0M155 398.4h0M183.5 363.8h0M250.2 290.5h0M248.9 297.1h0M230.7 300.1h0M228.9 308.7h0M225.5 313.5h0M485 193.4h0M155.7 405.5h0M290.3 278.8h0M187.4 361h0M202.1 338.2h0M241.6 305.6h0M206 348.3h0M208.7 344.8h0M243.5 312.5h0M173.3 363h0M206 341h0M294.5 274.2h0M227.7 329.7h0M208.1 326.9h0M188.7 382.2h0M157.3 396.4h0M229 313.8h0M196.9 349.2h0M264.2 289.6h0M172 381h0M214.8 337.8h0M254 297.4h0M155.4 402.1h0M293.9 276.8h0M198.5 348.4h0M196.3 368.2h0M217.4 353.9h0M170.5 386.2h0M253.2 315.2h0M209 322.2h0M174.7 382.7h0M211 337.5h0M191.3 358.9h0M152 410.8h0M255 310.2h0M293.9 257.1h0M251.6 263h0M200.8 349.3h0M182.2 359.2h0M216.5 322.3h0M160.8 404.8h0M206.6 327.5h0M194 361.2h0M227.7 319.7h0M268.8 270.5h0M201 352.5h0M213 339.4h0M210.1 339.5h0M243.9 298.5h0M211.5 358.6h0M217.4 353.3h0M330 231.1h0M226.4 330.3h0M208.6 318.4h0M237 312.6h0M247.2 281.8h0M216.3 344.4h0M295.4 253.9h0M230.2 316.3h0M242.1 311.8h0M188.9 362.8h0M268.5 281.7h0M164.1 391.4h0M180.3 381.9h0M249.2 271.9h0M213.7 332.6h0M164.7 390.1h0M187.7 374.4h0M183.6 368.2h0M201.4 372.9h0M199 355h0M242.3 308.2h0M301.1 266.4h0M194.6 353.7h0M208.6 344.9h0M155.9 399.4h0M199 357h0M206.1 356.1h0M210.1 348h0M202.8 341.1h0M242.4 304.6h0M242.9 322.1h0M198 353.3h0M300.1 253.3h0M207.8 327.7h0M272.8 273h0M189.5 372.2h0M303 257.2h0M255.7 306.7h0M166.4 393h0M176.2 384.5h0M201.8 331h0M205.9 339.8h0M317.7 261h0M190.8 359.1h0M190.4 358.8h0M264.5 271.5h0M188.8 372h0M196 371.6h0M258.9 296.6h0M199.3 340.1h0M341 247.3h0M318.9 238.6h0M230.7 307.3h0M203.4 344.3h0M165.3 389.6h0M208.3 351h0M234.8 322.5h0M247.6 283.1h0M212.4 310.6h0M206.1 352.2h0M230.6 333.3h0M273 292.4h0M212.9 329.1h0M199.4 344.6h0M243.3 301.4h0M192.7 369.3h0M172 379.1h0M175.4 376.7h0M175 368.6h0M243.6 300.1h0M226.9 298.7h0M188.2 375h0M215.5 321.4h0M184.7 359.8h0M201.6 338.6h0M223.4 302.1h0M193.8 353h0M211.2 344.9h0M210.6 341.8h0M188.8 362.3h0M182.6 363.1h0M268.3 281.9h0M215.3 326.4h0M229.7 300.2h0M329.9 269.2h0M180.5 363.9h0M236.9 325.9h0M171.8 382.1h0M196.9 338.2h0M191 363.1h0M193.1 348.4h0M252.3 312.6h0M239.8 308.7h0M260.9 294h0M274.3 294.5h0M250.2 313.5h0M203.7 340.6h0M254.3 273.6h0M197.7 361.9h0M266.3 277.3h0M150 411.8h0M200.9 361.6h0M203.5 370.7h0M176.3 374.9h0M216.2 304.3h0M355.5 229.2h0M201.2 341.2h0M157.3 399.1h0M231.3 320.3h0M225.6 309.4h0M193.8 358.9h0M202.2 326.9h0M258.5 308.8h0M201.1 330.7h0M185.8 350.5h0M242.5 301.5h0M256.3 300.7h0M203.1 339.1h0M270.7 301.8h0M160.4 391.4h0M197.9 337.7h0M244.1 303h0M297.2 262.1h0M229 346.5h0M261.6 281.5h0M200.7 339.9h0M188.6 368.4h0M214.6 320.7h0M164.5 390.4h0M217 324h0M301 277.3h0M247.3 299.9h0M223 343.9h0M190.6 378.4h0M225.2 324.5h0M208.4 318h0M203.8 363.5h0M222.5 331.9h0M209.4 343.4h0M218.2 333.7h0M202.9 336.3h0M218 327.6h0M172.9 382.5h0M210.2 336h0M313.2 260.3h0M286.1 245.5h0M309.1 268.2h0M211 325.6h0M188.9 365.3h0M244.1 278.6h0M283.5 279.6h0M301.8 248.4h0M196.4 343.6h0M188.1 359.9h0M236.2 320h0M237.2 308.4h0M177.6 376.7h0M165.3 382.5h0M221 311.3h0M198.2 351h0M321.9 229.7h0M207.1 340.7h0M188.5 359.4h0M158 397.6h0M171.5 383.2h0M182.6 377.9h0M303.6 263.6h0M206.9 363.1h0M210.8 331.6h0M187.2 360.6h0M196.7 360.9h0M266.5 260.7h0M184.5 350h0M202.1 337.4h0M341.6 284.1h0M209.6 347.7h0M365 196.6h0M203.1 333h0M209 330.1h0M265.6 307h0M172.8 379h0M323 230.2h0M204.8 339.7h0M228.7 340.7h0M157.6 410.6h0M162.2 403.2h0M225 340.3h0M200.5 338.3h0M265.4 268h0M281.8 273h0M224.2 305.7h0M183.1 375h0M229.4 316.6h0M263.8 297.6h0M170 382h0M226.1 313.7h0M206.9 351.7h0M227.1 304.1h0M267.2 272h0M162.5 390.6h0M198 346.3h0M309.3 235h0M188.8 360.8h0M201.2 338.9h0M170.8 390h0M181.4 378.5h0M236.3 320.6h0M175.8 382.2h0M232.9 312.6h0M257.7 290.1h0M249.3 295.8h0M254.6 279.2h0M310.9 286.7h0M221.7 321h0M237.6 283.4h0M221.5 350.4h0M212.5 339.7h0M220.9 312.6h0M267.3 288.8h0M247.6 291h0M190.6 349.3h0M167.4 392.4h0M237.4 305.5h0M177.5 382.5h0M193.9 346.9h0M258.9 314h0M187.2 354.2h0M234.6 326.5h0M212.7 331.6h0M210.3 334.5h0M260.8 283.4h0M195.1 355.1h0M268.7 286.1h0M166.1 384.5h0M239.2 299.7h0M190.5 343.1h0M182.6 364.1h0M203.4 343.6h0M237.4 321.5h0M246 327h0M196.9 348h0M293.1 250.8h0M280.7 258.3h0M231 341.9h0M219 314.9h0M193 349.8h0M300.1 239.9h0M275.6 275.1h0M191 369.1h0M180.2 376.3h0M169.4 367.9h0M203.9 340.1h0M232.4 306.3h0M146.9 411.9h0M236 310.6h0M229.6 311.3h0M254.4 277.7h0M295.8 245h0M255.6 321.3h0M194.6 352.1h0M275.2 275.9h0M220.1 331.2h0M169.5 378.8h0M282.4 270.3h0M322.5 274.4h0M218 350.2h0M211.8 342.6h0M201.1 345.5h0M172.4 370.1h0M170.4 380.8h0M156.8 393.8h0M211.2 343.2h0M261 282.9h0M258.8 315.9h0M167.5 385.3h0M168.8 386.8h0M187.5 357.1h0M235.8 327.2h0M224.2 328.6h0M219.2 332.2h0M210.8 355.1h0M248.6 316.4h0M194.5 347.9h0M203.3 338.6h0M270.7 301.2h0M196 372.1h0M207.1 323.3h0M182.8 362.3h0M178.6 367.4h0M210.1 326.2h0M210.3 333h0M249.1 317.5h0M252.9 295.8h0M243.9 308.8h0M217.1 319.7h0M261.9 291.3h0M197.1 349.5h0M255.3 300.3h0M227.1 328.9h0M199.3 354.9h0M170.4 381.1h0M277.6 268.7h0M203.9 343.5h0M218.2 351h0M274.9 287.6h0M275.8 248.1h0M182.2 357.1h0M166.2 386.7h0M210.2 345.6h0M187.7 362.2h0M204 327.1h0M198.4 339.1h0M204.5 339.3h0M228.4 336.1h0M199.8 347.1h0M227.5 327.5h0M250.6 287.3h0M282.1 268h0M171.3 390.4h0M312.7 232.6h0M194.8 375h0M204.1 343.5h0M163.9 376.9h0M216.6 323.7h0M264.3 305.3h0M199.9 348.3h0M240.1 330h0M207.5 363.5h0M183.2 358.5h0M320.7 250.8h0M243.2 315.6h0M263 283.2h0M198.8 351.1h0M186.3 333.6h0M446.4 157.3h0M339.4 234.2h0M326.9 242.3h0M309.6 238.2h0M492.9 204.4h0M551.2 151.2h0M367.2 224.7h0M281 280.9h0M241 311.6h0M281.2 253.1h0M306.4 276.3h0M351.8 219.1h0M497.3 206h0M469.8 180.2h0M451.7 176.8h0M303.6 239.6h0M259 296.5h0M261.8 278.8h0M267 283.6h0M340.9 245.5h0M305.3 269.7h0M400 217.4h0M271.3 292.3h0M253.8 316.1h0M299.6 219.3h0M466.8 199.5h0M394.7 197h0M434.9 210h0M295.1 257.5h0M370.8 189.1h0M326.6 274.5h0M289.1 253.8h0M446.5 200.2h0M291.5 259.4h0M256.8 282.5h0M348.7 197.2h0M299.6 279.7h0M332 232.4h0M239.5 277.8h0M329.9 232.1h0M262.1 280.6h0M256.3 265h0M407.6 236.8h0M562.7 119.1h0M265.5 298.7h0M291.8 275.5h0M344.1 205.6h0M422.7 172.3h0M324.4 233.6h0M267.1 270h0M263.4 289.7h0M410.2 195h0M271 292.7h0M282.2 263.2h0M323.9 263.2h0M468.2 156.4h0M411.1 180.4h0M312.8 257.5h0M548.5 157.9h0M266.6 290.1h0M268 256.9h0M291 239.6h0M281.1 262.6h0M269.7 282.1h0M453.6 225.6h0M330.7 193h0M470.9 125.6h0M332.6 263h0M397.8 204.9h0M260.4 245.9h0M414.6 243.4h0M418 216.3h0M348.1 195.7h0M415.8 154.1h0M322.3 250.8h0M248.7 307.5h0M403.9 186.4h0M520.9 118.8h0M287.3 263.2h0M308.2 223h0M394.7 181.6h0M393.2 246.8h0M351.9 231.5h0M412.2 192.8h0M253.1 280.1h0M367.1 220.3h0M261 311.2h0M312.3 226.4h0M264.3 311.2h0M240.1 306.7h0M462.3 142.9h0M351.8 208h0M430.3 189h0M329.4 249.8h0M358.9 245h0M334.5 195.8h0M555.1 201.5h0M436.4 211.8h0M361.7 224.9h0M464 174.4h0M302.2 248.8h0M447 190h0M301.1 246.7h0M315.5 239.2h0M576 152.5h0M406.6 187.4h0M238.1 304.2h0M473.7 164.4h0M309.2 299.7h0M279.9 264.7h0M288.2 287.9h0M518.6 218.9h0M241.6 315.3h0M521.7 196.6h0M394.6 196.2h0M424.6 172.7h0M331 206.1h0M382.4 219.7h0M313.2 250.1h0M387 206.7h0M346.6 229.7h0M284.7 241h0M522.6 106.4h0M338.4 258.8h0M252.9 283.3h0M375.6 232.3h0M290.2 278.9h0M303.6 244.3h0M429.3 190.6h0M271.8 267.8h0M355.2 196.9h0M326.2 254.1h0M275.2 272.8h0M258.1 287.9h0M307.3 253.5h0M271.6 279.4h0M394.3 184.9h0M245.4 316h0M381 226.1h0M299 250.8h0M596.2 131.5h0M361 222h0M271.5 299h0M379 245.7h0M273 254.1h0M609.1 131.5h0M291.6 250.8h0M261.1 267.6h0M319 240.9h0M287.1 278.1h0M298.6 228.6h0M412.6 188.3h0M258 328.7h0M292 252.6h0M259.5 330.6h0M382.4 204.7h0M287.8 284.1h0M300.7 246.7h0M375.5 201h0M287.8 258.9h0M256.2 313.4h0M362.8 230.3h0M356.2 218.2h0M303.8 309.3h0M280.8 251.7h0M407 179.2h0M472.6 171.4h0M313.2 293.2h0M260.3 274.9h0M271.9 270.6h0M366.3 209.4h0M316 244.7h0M389.9 189.9h0M249.3 318.9h0M287.3 317.6h0M259.1 300h0M297.3 302.9h0M463.1 165.1h0M251.1 321.6h0M243.8 290.7h0M409.1 248.2h0M326 252.9h0M393.4 170.1h0" fill="none" stroke="#404040" stroke-width="2.4" stroke-linecap="round" opacity="0.56"/>
<path d="M185.9 357.2h0M189.5 350.7h0M227.3 345.2h0M255 289.3h0M197.6 370.5h0M176.2 379.5h0M274 279h0M168 391.2h0M174.1 378.4h0M366.7 219h0M183.6 369.8h0M234.9 311.1h0M176.8 367.7h0M208.7 336.7h0M210.9 342.4h0M275.4 240.5h0M230.3 330.1h0M234.7 306.5h0M224.8 301.9h0M176.1 386.3h0M199.3 348.9h0M186.3 361.5h0M239.8 303.4h0M180.1 364h0M180.8 378.8h0M202.4 343.4h0M205.5 363.6h0M247.6 303.1h0M180.9 370.8h0M255.6 282.8h0M251.1 294.9h0M211.1 319.3h0M183.4 368.1h0M160.7 396.1h0M203.8 348.1h0M246 292.6h0M306.7 253.2h0M247.4 335.3h0M281.6 280.6h0M192 361.4h0M264.9 302.9h0M223.1 328.5h0M179.4 366h0M178.8 379.1h0M204.5 336h0M192.9 378h0M188.6 340h0M191.5 349.3h0M219.9 327.5h0M173.8 389h0M157.6 397.4h0M254.1 304.3h0M215 338.3h0M185.6 379.6h0M212.4 316.5h0M190.1 365.9h0M210.4 308.6h0M271.2 265.5h0M224.4 287.9h0M224.5 315.3h0M276.8 273.4h0M244.6 312.2h0M208 343.9h0M250.5 290.2h0M221.9 310.5h0M221.5 293.3h0M155.4 400.5h0M231.6 322.7h0M289.6 260.1h0M228.7 321.5h0M176.6 368.9h0M189.9 351.5h0M255.9 295.1h0M168.8 380.8h0M177.4 371.5h0M224.8 324.5h0M185.2 381.2h0M200.5 352.7h0M178.1 374.8h0M300.6 250.3h0M238.9 328.1h0M234.5 335.3h0M220.2 311.1h0M184 368h0M179.5 363h0M223.3 334.7h0M214 312.8h0M244.6 322.8h0M201.2 354.2h0M232.4 330.6h0M194.7 358.1h0M169.4 387.8h0M254.9 294.9h0M204 363.9h0M319.4 238.5h0M196.2 357.6h0M217.9 345.5h0M264.1 276.3h0M196.3 347.3h0M172.9 394.3h0M227 344.8h0M221.6 334.9h0M194.9 349.2h0M171.8 382.2h0M191.3 350.5h0M167.8 385.8h0M177.5 378.5h0M190.4 359.8h0M231.9 320.8h0M213.1 341.9h0M192.7 366.3h0M188.6 369h0M238.9 327.7h0M189.5 380h0M237.3 300.5h0M189.5 341.1h0M202.4 339h0M229.1 301.9h0M310.7 228.3h0M184.2 361.3h0M233.9 323.7h0M210.9 337.2h0M189.8 349.7h0M333.9 250.6h0M190.5 359h0M168.3 384.1h0M182 379.9h0M170.9 378.6h0M177.3 380.1h0M202.7 369.8h0M200.2 367.8h0M221.7 310.6h0M205.3 348.8h0M256.3 298.9h0M184.3 364.7h0M248.9 283.2h0M179.9 383.6h0M188.5 363.9h0M228.5 304.5h0M191.1 368.8h0M214 322.1h0M186 362.7h0M200.7 349.2h0M210.6 341.7h0M164.2 394.2h0M191.6 373.5h0M216 343.6h0M200.9 334.6h0M280.5 254.3h0M262.5 258.4h0M178.2 375.8h0M229.7 318.9h0M187.4 358.2h0M178 375.1h0M262.2 269.7h0M208.9 338.1h0M287.8 295h0M177.7 367.7h0M221 350.9h0M230.4 313.3h0M200.2 346h0M178.2 376.9h0M243.4 301.1h0M210.3 341.9h0M223.4 343.2h0M277.6 291.7h0M423.7 177.7h0M184.4 372.3h0M263.4 221.4h0M204.7 361.6h0M215.9 317.9h0M162.8 395.6h0M179.2 390.8h0M191.7 333.5h0M194.4 357.4h0M225.7 321.4h0M185.6 367.3h0M165 390.3h0M189.6 353.7h0M199.5 357.4h0M212.6 335.5h0M165.6 392.2h0M204.7 348.9h0M165.3 381.2h0M198.2 337.8h0M265.6 283.6h0M202.2 356.5h0M164.7 385.5h0M199 346.5h0M202.9 361h0M179.8 382.9h0M199.3 353.5h0M205.1 341.3h0M203.4 350h0M221.8 341.4h0M186.1 382.1h0M235.2 314.3h0M229.7 298.7h0M184.7 380.8h0M279.1 282h0M289 245.2h0M214 314.9h0M295.8 267.2h0M224.9 287.2h0M253.1 295.3h0M211.5 327h0M174.1 366.5h0M172.1 393.2h0M214.3 328.8h0M220.9 314h0M208.6 363.1h0M224.3 329.3h0M270.6 291.9h0M221 327.5h0M226.1 326.4h0M197.3 351.9h0M247.3 320.3h0M267.2 284.8h0M156.1 400.7h0M212.7 317.4h0M255.4 293.6h0M280.9 289.7h0M210.7 332h0M212 342.2h0M279.3 291.1h0M230.4 312h0M192.2 353.3h0M204.5 327.4h0M193.8 339.3h0M215.5 320.5h0M178.5 358.2h0M163.8 397.4h0M198.8 334.2h0M254.1 305.5h0M200.4 350.1h0M212.2 313.7h0M378.4 209.8h0M296.8 262.9h0M244.8 296.4h0M266.5 287.2h0M212.3 336.8h0M179.9 373.2h0M192.6 366.9h0M203.8 357.2h0M247 302.6h0M266.7 284.4h0M220.4 337.9h0M309 227.5h0M243.8 313.5h0M195.3 371.6h0M252.2 292.5h0M174.4 389.7h0M242.1 311.3h0M254.4 312.4h0M228.9 338.4h0M185 344.2h0M217.4 323.8h0M229.1 318.2h0M190.4 353.2h0M213.6 324.5h0M238.9 297.9h0M161 397.7h0M273.3 251h0M220.3 351.5h0M210.1 325.4h0M273.5 227.1h0M210 348.7h0M216.3 318.9h0M223 309h0M217.3 330.2h0M206.8 342.3h0M217.6 346.2h0M162 393.4h0M276.4 274.4h0M332.9 269.6h0M189.7 365.8h0M229.1 323.4h0M201.6 353.9h0M253.7 285.6h0M201.5 350.9h0M180.4 372.8h0M222 339.1h0M228.1 331.1h0M206.8 359h0M163.5 390.7h0M243.8 295.6h0M176.6 364.4h0M344.8 207.9h0M202 347.3h0M217 352.7h0M157.7 387.5h0M335.1 214.1h0M238.5 315.5h0M220.7 334.6h0M190.8 357.2h0M226.7 323.2h0M205.2 340.8h0M195.1 360.9h0M160.1 401h0M192.7 356.7h0M236 273.8h0M188.4 358.7h0M152.5 404.9h0M266.1 279h0M249.1 311h0M185.9 357.2h0M233.5 309.1h0M204.2 336.4h0M183.9 368.4h0M195.4 347.6h0M193.2 366.4h0M243.9 328.3h0M172.3 382.2h0M205.6 337.3h0M296.2 265.2h0M185 365.8h0M278.5 273.4h0M175 379.3h0M314.5 266.3h0M188.3 370.5h0M192.9 360.5h0M223.5 342.1h0M160.7 395.7h0M271.6 282.7h0M238.6 320.7h0M234.5 301.8h0M156.7 393.9h0M237.4 302.5h0M185.8 352.9h0M245.4 303h0M261.3 257.5h0M224.5 316.2h0M234.5 302.3h0M267.4 275.2h0M163.2 397h0M269.1 299.6h0M254.1 283h0M239.3 304.4h0M236.4 310.3h0M197.7 341.9h0M226.4 337.3h0M167.6 379.2h0M213.9 333.4h0M182.4 382.6h0M234.7 307.2h0M232 303.7h0M206.1 329.4h0M185.3 357.1h0M266.3 293.3h0M219.5 334.2h0M259.2 284.3h0M284.8 267.8h0M199.8 335.1h0M289.9 298.1h0M187.6 353.4h0M206.6 325.9h0M235.2 316.7h0M453.1 136.2h0M193.4 334.9h0M271.5 277.9h0M211.5 338.7h0M231.9 346.7h0M195 363.3h0M218.7 320.1h0M217.4 338.9h0M209.3 332.7h0M165.6 383h0M215.4 314.1h0M234.9 322.9h0M208.3 341.3h0M164.2 394.2h0M254.5 286.5h0M205.7 331.9h0M183.8 357.4h0M266.2 279.1h0M191.3 348.7h0M217.7 322.5h0M270.8 300.9h0M223.8 326.6h0M204.3 342.7h0M244.9 282.6h0M211.9 328h0M248.5 314.2h0M192.6 362.7h0M226.5 321.8h0M220.6 330.9h0M209.7 334.9h0M214.9 325.6h0M166.6 397.7h0M238.6 305.6h0M217.1 326.8h0M186.6 364h0M245.6 315h0M226.4 318.9h0M268.1 288.9h0M254.3 301.4h0M233.3 312.8h0M204 336.5h0M239.7 311.1h0M202.5 357.1h0M252.7 296.1h0M215.2 349h0M201.1 336.8h0M254 292.7h0M232.2 311.8h0M198.4 356.5h0M237.9 333h0M167.3 392h0M158.5 398.7h0M217.2 349.3h0M215.9 310.9h0M186.3 377.4h0M238.3 285.3h0M174.7 373.4h0M257.5 291.3h0M247.7 299.7h0M256.5 321.8h0M210 333.3h0M224.1 318.9h0M195.9 376.5h0M364 229.5h0M192.1 337.8h0M168.1 388.2h0M289.9 261.8h0M208.9 336.1h0M209.2 353.9h0M172.6 368h0M399.5 186.3h0M191.9 354.1h0M190.7 369.1h0M263.5 294.4h0M148.9 409.3h0M214.3 329.2h0M204.6 347.3h0M222.6 314.6h0M299.7 283.8h0M211.7 338.2h0M190.9 360.1h0M222.9 324.3h0M339.3 242.6h0M225.3 329.6h0M202.8 345.9h0M207.3 352.2h0M219.6 338.5h0M186.3 363.9h0M168.7 391.5h0M237.4 320.2h0M198.7 346.8h0M223.9 318.9h0M331 236.8h0M192.7 360.4h0M259 259.5h0M155 403.9h0M183.2 370.7h0M209 337.1h0M258.5 289.9h0M191.3 360.7h0M200.1 355.6h0M228.3 322.5h0M191.1 359.7h0M167.8 398.3h0M202.4 365.9h0M284.3 275h0M216.5 326.1h0M243.4 335.8h0M205 345h0M197.4 354.1h0M237.4 328.8h0M172.1 379.5h0M200.7 362h0M206.6 360.5h0M206 359.4h0M230.7 341.7h0M246 317.1h0M222.7 319h0M280.6 254.6h0M180.2 371.3h0M271.9 273.2h0M208.2 354.9h0M393.4 220.6h0M207.3 341h0M196.8 363.1h0M199.8 342.8h0M288.5 299.1h0M298.9 287.5h0M208.1 342.4h0M196.5 340.1h0M308.9 253.8h0M190.8 357h0M202 323.6h0M273.7 285.3h0M284.8 280.3h0M194.1 352.1h0M173.4 373.6h0M243.7 284.6h0M228.7 327.2h0M221.9 323.4h0M182.5 382h0M229.8 327.5h0M212.5 337h0M225.4 325.2h0M276.9 250.4h0M203.8 332.2h0M180.6 361.3h0M268.2 311.5h0M163.3 404.4h0M263 304.8h0M229.5 319.2h0M245.2 310h0M209.4 354.6h0M232 313.9h0M254.2 298.6h0M212.3 325.6h0M207 340.6h0M267.7 265.5h0M199.5 353.1h0M314.2 214.7h0M216.9 329.4h0M219.8 314.4h0M287 265.3h0M220.6 342.6h0M269.6 284.1h0M281.9 220.9h0M225.5 322.4h0M203.4 343h0M299.3 237.5h0M175.6 364.2h0M305.3 262.9h0M209.3 333.4h0M189.9 352.5h0M268 287.2h0M183.7 360.7h0M190.2 350.9h0M250.1 319h0M212.7 331.1h0M203 328.1h0M190.2 357h0M180.7 382.6h0M257.2 317.1h0M302.4 248.2h0M239.9 286h0M188.4 346.9h0M252.5 299.1h0M255.8 302.7h0M218.2 331.7h0M204.5 344.8h0M245 305.9h0M218 317.2h0M183.3 360.1h0M197.9 344.6h0M230.5 314.5h0M167.6 391.3h0M233.9 326.6h0M269.6 280.8h0M189.4 356.3h0M283.8 259.8h0M222.7 314.3h0M202 346.5h0M207.3 345.9h0M274.6 298.6h0M177 364.7h0M200.2 354.3h0M223.3 312.2h0M180 368.7h0M219.9 318.8h0M236.4 314.3h0M242.5 291h0M312.9 265.5h0M189.7 363.4h0M159.4 396.2h0M229.4 341h0M243.1 328.6h0M250 303.6h0M169.5 383.2h0M226.1 341.9h0M192.5 364.2h0M208.1 328.7h0M192.7 339.3h0M227.5 329.3h0M287.4 273.1h0M200.4 330.6h0M180 380.6h0M262.1 270.3h0M231.3 313.6h0M194.7 352.8h0M215.6 345.5h0M191 353h0M195.3 366.9h0M191.1 354.3h0M185.8 361.4h0M243.8 278.6h0M251.7 347.1h0M164.3 395.4h0M247.5 313.1h0M227.4 326.3h0M186.6 362h0M210.8 323h0M199.6 368.7h0M208.7 317.7h0M195.6 361.9h0M189.9 354.1h0M200.9 332.5h0M192.4 378.4h0M214.3 335.9h0M214.2 318.6h0M316.6 263.1h0M229.3 331.6h0M163.5 387.4h0M179.6 359.8h0M212.4 331.9h0M251 287.5h0M223.2 291.4h0M204.6 342.7h0M180.3 373h0M300.6 219.6h0M173 395.4h0M186.4 370.1h0M182.3 361.9h0M174.4 383h0M216.7 320.4h0M276.1 290.7h0M213.6 344h0M183 366.7h0M182 371.7h0M237.6 301.2h0M212.4 334.3h0M198.6 357.2h0M261.6 308.4h0M257.2 263.3h0M176.9 376.5h0M175.7 382.7h0M298.1 253.5h0M276.5 289.4h0M259.4 276.6h0M181.4 358.3h0M164.1 388.4h0M228.4 328.2h0M215.4 339.5h0M213.3 336.7h0M208.8 322.7h0M185.8 371.8h0M201.1 344.7h0M187.7 362.5h0M264.7 289.3h0M231 323h0M264.4 285.2h0M191.4 368.7h0M246.7 331.1h0M169.2 392h0M266.9 278.1h0M198.7 346.6h0M204.1 330.9h0M199.7 359.9h0M165.5 386.5h0M202.3 347h0M185.4 360.7h0M190.8 365.5h0M242.8 278.9h0M256.3 270h0M185.8 370h0M205.9 334.8h0M219.2 309h0M232.4 334.3h0M215.2 337.3h0M211.9 330.1h0M231.3 306.8h0M182 357.5h0M175.8 382.1h0M186.3 365.3h0M216.5 321.1h0M200.9 326.8h0M211.2 336.1h0M223.5 308.9h0M150.6 406.9h0M275.6 252.9h0M308.2 220.2h0M202.5 322h0M229.3 308.6h0M170.1 375.3h0M192.1 355h0M159.8 393.6h0M213.5 353.9h0M243.8 312.7h0M233 296.1h0M291.3 233.5h0M208.6 335.7h0M182.4 354.8h0M313.5 243.3h0M179.3 376.2h0M209.1 307.9h0M201.5 355.1h0M171.2 383.7h0M177.9 372.3h0M216.3 312.3h0M208.7 344.8h0M248.7 322.4h0M261.4 288.2h0M210.7 343.8h0M263.8 304.6h0M172 394h0M165.2 395.5h0M201.5 337.4h0M225 325h0M156.2 399.6h0M189.4 336.9h0M165 393.5h0M252.5 300.4h0M295.5 238h0M185 363.8h0M221.8 308.8h0M280.4 292.7h0M227.5 328.9h0M220.3 324.9h0M194.9 354.6h0M225 307.9h0M317.9 250.9h0M192.1 350.6h0M209.5 350h0M205.1 340.5h0M230.5 313.2h0M228.8 316.8h0M229.3 338.9h0M236.5 303.3h0M226.3 323.3h0M172.7 375.3h0M200.6 337.5h0M222.7 322.7h0M213.9 320.3h0M183.8 367.7h0M186.1 354.1h0M236.7 306.8h0M201.4 348.9h0M245.6 306.9h0M281.8 285h0M206.3 350.2h0M173.2 387h0M260.2 290.8h0M205.2 354.7h0M242.5 316.2h0M208.2 345.7h0M184.1 348.3h0M162.1 400.2h0M170.6 397.8h0M225.3 315.2h0M163.9 394.4h0M212.4 335.4h0M175.6 382.2h0M191 355.4h0M193.2 369.5h0M352.1 192.9h0M193.2 357.2h0M199.5 349.5h0M274.6 268h0M212.9 320.6h0M249 268h0M190.7 363.1h0M248.7 315.9h0M241.4 297.4h0M211.3 343.2h0M228 320.1h0M286.1 288h0M217 306.4h0M194.4 357.7h0M182.4 369.3h0M277.5 273h0M162.6 389.4h0M371.4 227.5h0M216.7 328.4h0M217.4 331.2h0M307 215.4h0M210.4 327.7h0M217.2 323.7h0M228.4 330.6h0M233.5 304.3h0M218.5 335.6h0M209.5 355.2h0M283.3 286.9h0M255.4 281.4h0M286.7 283.8h0M316.7 251.7h0M325 200.9h0M256.3 280.8h0M178.8 371.5h0M338.5 239.8h0M201.9 370.2h0M208 336.3h0M163 398.1h0M281.7 240.2h0M177.6 372.5h0M264.6 278.2h0M221.1 342h0M208.6 336.7h0M188.2 361.9h0M236.1 313h0M212.1 337h0M181.8 381.1h0M208.5 339.3h0M215.2 335.3h0M198.7 336.2h0M161.5 391.7h0M211.5 340.8h0M264.2 316.6h0M176.4 384.5h0M258.2 285.4h0M222.7 347.1h0M225.8 333.2h0M191.8 355.5h0M200.2 345.5h0M226.1 312.5h0M179.5 379.3h0M258.5 280.8h0M310.9 268.7h0M222.2 358.3h0M200.9 345.7h0M210.6 332.6h0M207.3 321.6h0M181.2 375.8h0M217.9 340.3h0M180.2 366.8h0M236.3 311h0M206.8 325.9h0M198.6 340.5h0M165.5 379.8h0M193.1 337.7h0M310.4 249.2h0M197.9 358.6h0M188.4 363.2h0M354.4 245.9h0M270.2 265.6h0M264.3 274.6h0M175.9 373.6h0M169.3 394.5h0M260.5 289.4h0M216.2 320.4h0M300.4 246.4h0M210.2 332.3h0M196.7 330.3h0M189.8 352.4h0M182.8 370.2h0M247.2 311.7h0M144 411h0M203.7 334.6h0M154 398.2h0M211.5 322.1h0M244.6 329.6h0M160.9 398h0M185.9 367.8h0M189.8 359.1h0M282.9 257.7h0M245.5 288.1h0M172.2 373.5h0M201.9 360.7h0M207.8 348.5h0M177.2 395h0M219.6 360.9h0M212.8 342.3h0M219 313.8h0M177.9 390.9h0M224.7 307.1h0M188.6 349.5h0M183.1 370.3h0M188.9 361.7h0M212 329.8h0M198.1 339.4h0M151.9 399.4h0M190.3 368.4h0M195.1 366.9h0M272 291.3h0M196.1 362.3h0M205.2 348.1h0M177 374.1h0M354.3 219.1h0M252.9 314.1h0M202.6 357.7h0M291.2 256h0M262.6 270.6h0M203.3 336.2h0M167.3 374h0M198 358h0M184.2 355.5h0M261.4 279.3h0M195.4 348.9h0M254.1 298h0M187.1 362.4h0M209.5 339.6h0M189.6 354.6h0M202.4 314.2h0M307.6 248.2h0M183 366.7h0M260.8 322.3h0M198.9 338.9h0M230.1 329.2h0M182.9 373.5h0M180.7 375.9h0M195.4 350.3h0M229.3 336.8h0M206.7 336.2h0M177.8 381.2h0M281.2 260.6h0M226.4 312.8h0M261.2 304.8h0M200.2 338.5h0M221.5 330.9h0M201.7 346.5h0M197.4 338h0M207.7 328.9h0M196.8 347.6h0M220 327.1h0M190.2 362.9h0M210.6 334.8h0M283.5 284.1h0M223.2 281.9h0M245.6 307.5h0M249.4 299.4h0M215.4 340.8h0M168.1 377.8h0M174.6 374.5h0M214 321.2h0M208.2 339.7h0M266.4 251.9h0M210.5 353.2h0M208.6 341.2h0M171.1 384.2h0M185.9 360.8h0M210.9 318h0M208.8 345.6h0M222.2 320.8h0M224.4 322h0M236.5 313h0M176.3 376.6h0M172.2 395.6h0M289.8 274.5h0M203.4 331.8h0M262.3 277h0M189.9 366.7h0M187.7 373.5h0M298.7 263h0M203.1 358.9h0M211.1 330.2h0M229.9 333.1h0M244.7 306.8h0M229.9 337.4h0M184 375.7h0M443.5 164h0M200.4 334.1h0M233.4 319.6h0M202.2 345.3h0M256.7 284.8h0M237.8 314.5h0M228.5 327h0M175.7 373.2h0M238.7 313.8h0M191.7 355.6h0M261.9 249.8h0M223.8 299.1h0M236.2 289.2h0M276.2 278.8h0M178 376.7h0M197.4 352.5h0M236.1 309.1h0M201.6 343.5h0M225.2 322.8h0M207.8 342.6h0M181.1 372.3h0M226.5 332h0M221.3 325h0M175.8 366.8h0M199.3 348.8h0M306 251.8h0M195.6 342.5h0M222 311.7h0M214 336.8h0M209.6 329h0M218.4 333.1h0M232.3 289.9h0M244.8 322.4h0M190.5 353.3h0M198.2 348.4h0M257.5 268.9h0M212.6 329.5h0M254.8 288h0M262.9 289.3h0M177 368.2h0M276.7 286.9h0M206.3 346.7h0M174.9 383.2h0M227.2 310.5h0M226 313.3h0M177.3 376.7h0M306.8 285.5h0M217.6 310h0M338.1 265.3h0M202.5 359.3h0M198.9 361.8h0M224.4 306.6h0M249.9 287.4h0M304.1 256.7h0M233.6 316h0M248.6 281h0M232 293.8h0M332.9 274.3h0M294.9 296.6h0M498.3 122.3h0M348.7 237.7h0M418.2 197.1h0M281 283.9h0M451.8 169.7h0M325.9 256.8h0M274.9 293.8h0M252.1 292h0M418.4 206.4h0M370.1 195.2h0M242.7 306.9h0M334.2 224.4h0M341.6 235.8h0M562.8 111h0M460.7 179.1h0M290.5 255.5h0M358.2 199.2h0M533.7 156.2h0M401.5 177.7h0M461.2 200h0M357.2 205.2h0M360.1 239.3h0M331.5 225.3h0M310 247.3h0M466.3 119.5h0M245.1 305.1h0M262.4 275.3h0M365.2 212.9h0M300.1 273.8h0M332.8 248.9h0M260.4 263h0M299.6 256.8h0M362.2 225.9h0M412.9 200.8h0M277.9 272.7h0M360.1 193.4h0M479.6 173.6h0M319.2 223.1h0M296.8 228.5h0M430.1 224.2h0M388.6 245.9h0M371.8 205.3h0M245.9 327.8h0M246.8 324.6h0M258.4 303.6h0M278.3 289.4h0M320.2 208.9h0M581.4 126.8h0M307.1 267.8h0M460.8 243.7h0M418.9 191.7h0M305 293.4h0M290.7 244.7h0M274.6 275.2h0M380.9 162.2h0M277.1 274.1h0M362.2 205.8h0M297.4 293.4h0M261.5 268.2h0M265.3 308.2h0M434.8 180.6h0M306.3 257.6h0M258.8 296.6h0M243 312.8h0M307.9 269.5h0M325.6 201.8h0M248.1 299.7h0M315.4 219.6h0M267.3 268.1h0M349.2 220.3h0M240.5 313.3h0M348.5 240.7h0M307.8 249.4h0M304.2 231h0M299.1 265.8h0M429.2 177.1h0M414.6 153.4h0M239.8 324.1h0M340.2 246.1h0M409.2 194.5h0M427.3 149.5h0M407.3 223h0M496 161.6h0M604.3 151.8h0M301.1 270.7h0M321.4 260.5h0M258.9 312.6h0M353 214.3h0M260.8 317.5h0M480.4 178.3h0M587.3 151.5h0M342.9 228.6h0M254.9 282.8h0M285.2 272.5h0M333.9 263.1h0M263.3 301.7h0M286.8 277.9h0M289.1 274.2h0M364.8 202.6h0M251.3 304.1h0M331.1 236.3h0M343.4 239.3h0M393.1 201.9h0M271.2 292.5h0M280 271.6h0M339.2 263.9h0M368.8 238.3h0M356.2 220.5h0M278.6 252h0M270.7 277.1h0M370.3 200.8h0M276.2 286.5h0M339.6 215.6h0M270.5 277.6h0M409.9 194.6h0M305.7 245.5h0M596.3 136.8h0M375.3 241.2h0M389.3 196.6h0M303.9 236.7h0M523 130.8h0M324.7 215.2h0M373.2 179.7h0M355 212.4h0M421.6 176.8h0M274.5 294.9h0M297.3 259.1h0M257.8 314.4h0M256.1 293.6h0M594.1 132.5h0M578.2 133.5h0M493.2 216.4h0M266.6 248.7h0M322.2 244.7h0M420.4 195.8h0M288.5 272.7h0M276.8 280.2h0M254.1 279.2h0M358.9 233.2h0M449.3 222h0M568.5 133.1h0M258.6 309.5h0M269 302.1h0M258 294.6h0M269.5 292.8h0M289.7 260.8h0M265.4 291.8h0M310.6 238.3h0M471 130h0M292.3 230.6h0M357.9 226.5h0M588.3 125.9h0M346.6 177h0M310.9 286.7h0M344 271.6h0M433.7 186.2h0M272.7 277.7h0M296.3 287.8h0M373.2 201.9h0M418.2 147.3h0M322 226.2h0M471.5 159.2h0M350.3 224.7h0M307 252.9h0M251.9 269.2h0M311.1 251.7h0M344.1 253.3h0M379.5 188.2h0M344.8 178.1h0M259.9 303.8h0M299.2 256.4h0M300.3 253.8h0M457.7 144.7h0M273.6 259h0M350.1 213.8h0M322.1 223h0M367.6 248.5h0M335.2 287.3h0M562.8 187.4h0M313.7 247.9h0M266.6 291.8h0" fill="none" stroke="#404040" stroke-width="2.4" stroke-linecap="round" opacity="0.56"/>
<path d="M106.5 465.2L433.5 35.5" fill="none" stroke="#1a1a1a" stroke-width="2.0" stroke-dasharray="17.2 17.4"/>
<rect x="167.1" y="368" width="14" height="14" fill="#000" fill-opacity="0.28"/>
<rect x="172.5" y="363.7" width="14" height="14" fill="#000" fill-opacity="0.28"/>
<rect x="178" y="359.4" width="14" height="14" fill="#000" fill-opacity="0.28"/>
<rect x="187.8" y="349.3" width="14" height="14" fill="#000" fill-opacity="0.28"/>
<rect x="216.1" y="315" width="14" height="14" fill="#000" fill-opacity="0.28"/>
<rect x="219.4" y="312.8" width="14" height="14" fill="#000" fill-opacity="0.28"/>
<rect x="221" y="304.2" width="14" height="14" fill="#000" fill-opacity="0.28"/>
<rect x="227" y="305.7" width="14" height="14" fill="#000" fill-opacity="0.28"/>
<rect x="227.6" y="297.8" width="14" height="14" fill="#000" fill-opacity="0.28"/>
<rect x="233.6" y="300.6" width="14" height="14" fill="#000" fill-opacity="0.28"/>
<rect x="234.1" y="292" width="14" height="14" fill="#000" fill-opacity="0.28"/>
<rect x="240.1" y="294.2" width="14" height="14" fill="#000" fill-opacity="0.28"/>
<rect x="240.7" y="285.6" width="14" height="14" fill="#000" fill-opacity="0.28"/>
<rect x="247.7" y="287" width="14" height="14" fill="#000" fill-opacity="0.28"/>
<rect x="246.1" y="279.2" width="14" height="14" fill="#000" fill-opacity="0.28"/>
<rect x="253.2" y="280.6" width="14" height="14" fill="#000" fill-opacity="0.28"/>
<path d="M149.6 389.4h14v14h-14zM162.7 372.3h14v14h-14zM167.1 368h14v14h-14zM172.5 363.7h14v14h-14zM178 359.4h14v14h-14zM183.4 350.8h14v14h-14zM187.8 349.3h14v14h-14zM197.6 342.2h14v14h-14zM208.5 323.6h14v14h-14zM216.1 315h14v14h-14zM219.4 312.8h14v14h-14zM221 304.2h14v14h-14zM227 305.7h14v14h-14zM227.6 297.8h14v14h-14zM233.6 300.6h14v14h-14zM234.1 292h14v14h-14zM240.1 294.2h14v14h-14zM240.7 285.6h14v14h-14zM247.7 287h14v14h-14zM246.1 279.2h14v14h-14zM253.2 280.6h14v14h-14zM257.5 275.6h14v14h-14zM272.8 263.4h14v14h-14zM301.1 244.8h14v14h-14zM321.9 227.6h14v14h-14zM343.7 183.2h14v14h-14zM388.4 188.9h14v14h-14zM429.8 171.7h14v14h-14zM517.8 138.4h14v14h-14zM517.8 200.7h14v14h-14z" fill="none" stroke="#181818" stroke-width="2.2"/>
</g>
<path d="M215.5 465.2v-5.5M215.5 35.5v5.5M324.5 465.2v-5.5M324.5 35.5v5.5M433.5 465.2v-5.5M433.5 35.5v5.5M542.5 465.2v-5.5M542.5 35.5v5.5M106.5 393.6h5.5M651.5 393.6h-5.5M106.5 322h5.5M651.5 322h-5.5M106.5 250.3h5.5M651.5 250.3h-5.5M106.5 178.7h5.5M651.5 178.7h-5.5M106.5 107.1h5.5M651.5 107.1h-5.5" fill="none" stroke="#444" stroke-width="2.0"/>
<path d="M106.5 35.5V465.2" stroke="#4a4a4a" stroke-width="2.2" stroke-linecap="square"/>
<path d="M106.5 35.5H651.5" stroke="#333" stroke-width="2.0" stroke-linecap="square"/>
<path d="M651.5 35.5V465.2" stroke="#383838" stroke-width="2.1" stroke-linecap="square"/>
<path d="M106.5 465.2H651.5" stroke="#444" stroke-width="2.2" stroke-linecap="square"/>
<text transform="translate(106.5 501.1) scale(1.04 1.035)" text-anchor="middle">0</text>
<text transform="translate(215.5 501.1) scale(1.04 1.035)" text-anchor="middle">0.1</text>
<text transform="translate(324.5 501.1) scale(1.04 1.035)" text-anchor="middle">0.2</text>
<text transform="translate(433.5 501.1) scale(1.04 1.035)" text-anchor="middle">0.3</text>
<text transform="translate(542.5 501.1) scale(1.04 1.035)" text-anchor="middle">0.4</text>
<text transform="translate(651.5 501.1) scale(1.04 1.035)" text-anchor="middle">0.5</text>
<text transform="translate(98.7 476.3) scale(1.04 1.035)" text-anchor="end">0</text>
<text transform="translate(98.7 404.7) scale(1.04 1.035)" text-anchor="end">0.05</text>
<text transform="translate(98.7 333.1) scale(1.04 1.035)" text-anchor="end">0.1</text>
<text transform="translate(98.7 261.4) scale(1.04 1.035)" text-anchor="end">0.15</text>
<text transform="translate(98.7 189.8) scale(1.04 1.035)" text-anchor="end">0.2</text>
<text transform="translate(98.7 118.2) scale(1.04 1.035)" text-anchor="end">0.25</text>
<clipPath id="cB"><rect x="853.3" y="35.5" width="544.7" height="429.7"/></clipPath>
<g clip-path="url(#cB)">
<path d="M938.3 371.2h0M1011.7 368.1h0M970.1 351.9h0M917.7 400h0M928.9 387.5h0M1006.8 332.2h0M975.2 361.7h0M1008.4 348.8h0M979.9 349.5h0M942.3 380.9h0M924 389.1h0M963.2 371.7h0M983 362h0M974.7 371.5h0M954.2 372.9h0M921.4 401.7h0M1087.2 325h0M968 363.7h0M887.5 413.2h0M954.8 378.6h0M962.6 382.1h0M981.9 349.1h0M990.9 347.3h0M976.5 365h0M943.2 389.7h0M917.9 396.9h0M974.7 373.1h0M892.7 416.1h0M910.4 412.3h0M967.3 356h0M950.9 394h0M969.3 372.4h0M966.3 352.2h0M979.5 366.7h0M980.7 358.9h0M943.3 379.8h0M952 362.1h0M979.9 389.1h0M957.6 391.4h0M946.2 394.3h0M924.5 372.6h0M967.3 377.2h0M934.9 379.9h0M970 357.6h0M918.9 394h0M987.4 355.8h0M996.5 337.4h0M979.7 369.8h0M925.4 396.8h0M929.1 398h0M947.8 363.5h0M940.6 383.2h0M927.5 391.3h0M956.6 384.1h0M940.5 381.2h0M940.4 376.5h0M957.2 371.5h0M944.9 393.7h0M939.4 383.5h0M948.1 379.9h0M939.8 403.3h0M936.4 399.3h0M964.7 363.3h0M951.4 372.4h0M1009 332.4h0M1052.6 341.9h0M939.4 382.7h0M948.4 379.2h0M1004.1 351.4h0M979.3 371.6h0M1005.8 359.5h0M929.3 390.3h0M950.3 358.1h0M938.2 392.4h0M935.8 386.7h0M972.6 360.3h0M927.7 379.3h0M950.2 373.3h0M941.8 382.2h0M927.6 383.9h0M912.2 405h0M1001 371.5h0M937.9 366.9h0M959.8 375.7h0M1006.2 333.6h0M971.6 373.8h0M974.2 367.2h0M955.8 384h0M949.5 378.1h0M992.2 360h0M1061.3 334.1h0M950.5 379.6h0M944.7 396.3h0M1037.2 334.3h0M943.1 363.2h0M1095.5 312.5h0M937.7 394.3h0M944.6 393.1h0M999 357h0M959.6 375.5h0M1007.4 345.3h0M1019.1 360.2h0M967.9 363.5h0M945.7 380.3h0M946.3 372.8h0M966.3 370.4h0M949.7 395.1h0M967.9 362.5h0M899.6 409.8h0M959 377h0M955.2 367.8h0M962.7 350.6h0M983.7 350.1h0M915.8 395.7h0M940.2 379.1h0M967.5 361.4h0M947.1 364.1h0M977.7 353h0M1041.7 365.8h0M996.4 352.2h0M981.6 378.5h0M969.9 377.7h0M967.7 384.8h0M939.7 384.8h0M993.7 362.6h0M963.8 367.7h0M974.2 372.2h0M952.4 357.4h0M945.1 377.9h0M951.8 370.1h0M928.3 393.5h0M1006 329.8h0M908.9 395h0M947.5 399.2h0M992.4 330.3h0M946.5 376.6h0M961.5 378.3h0M966.8 369.2h0M968.8 363.8h0M961.5 372.1h0M978.7 353.3h0M991 363.5h0M963.7 381.5h0M1035.2 327.4h0M913.2 405.7h0M991.9 353.9h0M944.2 376h0M922.6 411.3h0M953.8 380.9h0M966.1 368.3h0M990.7 367.5h0M914.2 390.1h0M971 366.3h0M1068.3 337.3h0M968.1 365h0M1009.5 373h0M973.5 361.5h0M995.8 377.9h0M991.8 356.3h0M900.3 409.9h0M955.3 371.8h0M938.1 382.1h0M1022 351.1h0M962 376h0M1034.8 370.3h0M979.4 369.9h0M948.4 385.1h0M954.2 370.8h0M1049.4 338.6h0M948.3 381.6h0M983.6 352.6h0M941.6 393.2h0M982.8 333.6h0M984.7 357.2h0M973.1 367.4h0M947.6 379.4h0M1016.3 349.3h0M948 387.3h0M911.1 397.8h0M940.4 398.6h0M982.6 375.8h0M949.9 379.9h0M1019.7 347.9h0M973.8 364.8h0M1016.6 368.3h0M977.1 377.7h0M984.2 372.7h0M1007.8 334.7h0M924.7 392.1h0M982.5 370.7h0M1039.6 339.9h0M911.2 402.2h0M951.1 376.1h0M992.7 376.8h0M940.1 412.6h0M930.8 385.3h0M1013.3 360.5h0M971.1 387.2h0M978.6 351.4h0M938.8 400h0M930.3 399.8h0M936.5 397.4h0M1120.2 346h0M952.2 384.3h0M1130.4 318.8h0M992.3 359.6h0M935.8 384h0M893.2 416.2h0M971.2 364.7h0M1015.3 348h0M990.1 356.5h0M961.5 369.6h0M1018.1 336.7h0M1021.5 353.5h0M939.4 377.8h0M967.6 359.1h0M924.4 393.7h0M945.8 384h0M977.4 358h0M1007.1 346.3h0M1013.9 357.6h0M1004.7 353.1h0M1005.9 356.4h0M999.5 369h0M1037.4 348.3h0M1025.1 370.4h0M1036.7 323.9h0M951.9 375.6h0M1003.3 356.4h0M958 366.7h0M981.2 363.6h0M988.9 345.9h0M1016.7 359.7h0M904.5 397.9h0M1008.7 356.4h0M939.5 386h0M919.2 404.6h0M979.4 380.6h0M1083.1 326.1h0M951.1 374.6h0M1062.7 327.8h0M958.7 376.9h0M961.9 359.7h0M1003.7 337.9h0M957.7 387.4h0M958.8 362.6h0M919.4 392.9h0M950.7 378.9h0M989.2 356.8h0M990.1 363.7h0M918.4 388.9h0M948.5 385.8h0M937.2 375.3h0M1003 355.3h0M975.9 377h0M1004.3 348.2h0M983.3 367.2h0M1053.5 359h0M949.6 399.7h0M924.6 400.6h0M987.2 350.9h0M957.4 383.7h0M989.2 366h0M965.8 360.9h0M950.8 365.2h0M910.9 402.9h0M995.2 352.2h0M958.6 364.4h0M1009.2 363.7h0M988.6 352.8h0M1006.6 369.5h0M976.9 378.4h0M970.6 361.3h0M940.6 381.2h0M978.4 340.4h0M952 385.5h0M950.1 374.9h0M980.4 352.3h0M969.4 380.5h0M935.9 391.4h0M964 355.6h0M941.3 401.8h0M939.8 387.1h0M959 376.6h0M995 361.8h0M943.5 387.4h0M933.7 384.9h0M981.4 358.6h0M981.8 354.4h0M921.7 395.4h0M1009.5 338.7h0M971.9 377.5h0M932.6 391h0M932.9 392.9h0M957 373.8h0M989.1 364.7h0M1036.1 338.5h0M961.5 376.3h0M918.6 390.1h0M936.2 390.8h0M917.4 403.1h0M1030.2 365.6h0M964.9 391.4h0M930.9 386.6h0M925.7 395.4h0M948.7 377.1h0M998.3 349.1h0M981.6 366.5h0M976.5 362.7h0M969.2 379.4h0M963.2 385h0M929 395.6h0M948.9 389.9h0M983.1 377.8h0M962.6 364h0M946.8 388.6h0M971.8 366h0M940.2 381.1h0M955 398.3h0M967.2 372.5h0M988.1 361.1h0M1052.3 314.8h0M927.4 386h0M968.2 352.2h0M945.3 392.6h0M950.6 370.6h0M948.4 383.1h0M921.1 383.1h0M943.8 394.8h0M1016.5 340h0M904.9 400.7h0M940.4 381.5h0M917.2 405.4h0M923.2 377.6h0M917.7 401h0M897.3 414.3h0M948.6 372.8h0M1049.3 339.7h0M963.7 375.9h0M933.3 385.9h0M967.9 380.7h0M967.8 367.3h0M919.4 402.5h0M950.1 369.6h0M943.6 385.1h0M955.6 385.3h0M939.2 379.7h0M949.6 388.2h0M988.7 364.9h0M989.5 358.5h0M1008.4 339.4h0M947 387.3h0M914.8 405.7h0M930 388.3h0M999.5 370.4h0M903.1 417.6h0M980.5 355.5h0M1065.4 331.5h0M1079.1 321.7h0M996.6 361.8h0M955.1 373.6h0M1025.3 341.9h0M941.9 369.4h0M926.8 406.8h0M930.2 394.5h0M987.8 381.1h0M968.2 382h0M952.9 369.4h0M1003.5 366.6h0M907.7 395.3h0M924.6 401.1h0M901 413.3h0M942.8 400.7h0M965.2 372.8h0M952.2 375h0M942.4 395h0M967.9 360.9h0M985 377.2h0M997.9 387.2h0M932.8 401.6h0M957.8 361.7h0M970.8 356.3h0M989.7 354h0M957 370.3h0M951.1 374.9h0M946 375.4h0M982.6 365.6h0M1022.6 349.7h0M968.1 363.5h0M986.3 351.2h0M990.5 356.6h0M926.1 398.6h0M978.9 364.7h0M927.8 388.6h0M934.8 381.3h0M941.3 384.5h0M991.8 338h0M987.3 356.3h0M951.3 379.8h0M1014.2 362.9h0M984.2 356.7h0M975.1 355.9h0M981.2 379.3h0M983.2 363.1h0M975.2 374.4h0M967.9 382.4h0M955.5 390.1h0M933.4 391.6h0M918.8 410.6h0M952 374.9h0M915.8 397.8h0M1017.8 348.2h0M939 398.8h0M969.3 358.5h0M970.1 353.6h0M919.7 413.8h0M1002.1 354h0M929.5 389.7h0M977 379.1h0M985.4 343.3h0M927.1 398.1h0M947.9 392.3h0M947 390.1h0M976.5 378.9h0M1006.9 358.4h0M1000.3 367.5h0M953.2 373.3h0M963.6 368.3h0M935.6 385.3h0M975.2 372.3h0M1015.1 343.3h0M949.1 384.5h0M938.7 386.6h0M981.4 387.4h0M926.9 398.2h0M974.8 363.1h0M1076.6 348.4h0M945.5 377.4h0M1048.5 363.1h0M982.9 357.2h0M959 356.9h0M985.8 368.8h0M908.1 408.5h0M924.5 390h0M939.6 389h0M975.5 378.5h0M961.8 371.6h0M940.5 390.5h0M960 394.2h0M931.3 378.7h0M988.5 367.6h0M986.3 370.1h0M901.2 402h0M942.4 387.9h0M1065.2 319.2h0M989.5 359.3h0M1039.1 369.1h0M913.4 396.5h0M976.6 384.9h0M929.1 381h0M925.8 392.4h0M942 400.5h0M956.5 391.6h0M958.7 383.2h0M926.3 393h0M951.2 368.4h0M955.5 386.6h0M1007 352.4h0M1101 321.1h0M962.3 374h0M986.3 363.4h0M954.2 379.9h0M959.7 380.5h0M979.1 367.2h0M996.3 340.6h0M971.1 364.8h0M998.1 370.1h0M1015.9 359.2h0M988.4 372.6h0M943.8 389.3h0M930.3 387.5h0M938 378.2h0M960.6 373.8h0M954.8 375.2h0M945.8 390.8h0M990.1 397.3h0M1070.5 347.2h0M992.8 359.1h0M1006.6 365.6h0M1027 340.1h0M981.8 360.2h0M986.2 344h0M951.1 368.7h0M903.4 409h0M927.4 399h0M988.7 373.8h0M959.4 384.3h0M961.9 354.9h0M940.5 386.8h0M939.2 378.8h0M1005.2 337.1h0M959.6 385.6h0M942.5 409h0M955.4 358.8h0M934.6 378.4h0M921.4 398.3h0M957.3 365.5h0M985.5 346.2h0M964.5 374.5h0M997.7 366.4h0M972.9 347.6h0M1012.3 344.5h0M947.3 380h0M1012.9 314h0M972.7 360.2h0M1019.5 348.4h0M968.6 362.7h0M932.1 393.6h0M983.8 359.5h0M943.4 372h0M939.8 378.7h0M942.1 385.8h0M1009.2 357.3h0M908.6 396.5h0M945.5 371.4h0M944.1 392.3h0M926.7 380.8h0M920.7 405.8h0M957.1 387.8h0M966.2 358.6h0M997 355.9h0M925.4 394h0M984.7 364h0M981.6 374.7h0M923.9 383.8h0M946.6 378.2h0M980.8 370.5h0M924.2 389.5h0M976.6 380.5h0M1021.6 333.7h0M1050.8 346.2h0M975.8 369.3h0M972.7 361.8h0M999.9 369.3h0M1034.1 356.1h0M946.2 383.3h0M904.5 392.4h0M960.8 356.3h0M1077.1 318.6h0M928.9 374.8h0M970.5 365.4h0M995.4 357.2h0M931.4 412.2h0M1016.3 334.2h0M946.2 372.1h0M977.1 387.5h0M1000 354.2h0M1026.8 353.6h0M984.5 345.3h0M962.7 386.1h0M963.2 362.1h0M946.5 393.4h0M978.5 373.1h0M929.1 389.6h0M918.5 392.3h0M946.5 382.6h0M990.3 366.2h0M959.6 379.8h0M954.4 360.9h0M940 379.8h0M908.6 400.9h0M960.4 361.3h0M1066.8 342.3h0M999.8 325.5h0M959.6 341.8h0M988.5 369.5h0M988 340.7h0M919.2 395.3h0M969.4 381.6h0M954.2 383.8h0M1044.2 341.8h0M965.8 365.3h0M957.8 378.9h0M940.1 381.3h0M946.5 384.5h0M902.6 405.5h0M994.7 348.9h0M926.2 395h0M928.9 391.9h0M958.8 371.1h0M972.4 369.7h0M1029.6 336.4h0M976.5 347.8h0M932.8 395.4h0M905.9 412.6h0M966.2 371.2h0M1002.3 356.2h0M918.2 383.9h0M948.5 382.9h0M937.9 384.6h0M940.2 379.7h0M989.2 367h0M978 370.8h0M993 349.6h0M960.3 355.4h0M963.6 369.6h0M988 389.2h0M994.2 350h0M977.9 358.8h0M974.4 370.5h0M1018.9 355h0M951.8 378.8h0M997.1 371.9h0M986.7 337.9h0M922.9 406.5h0M945.4 391.8h0M935.7 390.1h0M972.6 376.6h0M962.1 378.6h0M1005.5 360.5h0M1039.9 340.1h0M981.5 367h0M1036.5 353.4h0M986.8 372.5h0M980.4 352.2h0M949.8 373.2h0M997.1 328.2h0M960.9 361.8h0M985.6 372.4h0M916.7 407.2h0M968.9 352.1h0M996.2 351.3h0M945.6 380.3h0M962.2 357.7h0M922.3 390.1h0M964.7 368.6h0M946.9 380.2h0M975.8 364.7h0M1039 337.1h0M948.1 378.7h0M1005.8 366.9h0M938.3 393.1h0M960.3 370.5h0M932.8 386.1h0M928.1 392.3h0M973.1 364.9h0M993.1 372.5h0M1055.7 327.4h0M933.6 397.6h0M961.8 375.1h0M970 356.7h0M930.4 387.1h0M984.9 353.6h0M949.2 384.3h0M942 397.4h0M900.8 412.9h0M961.2 384.1h0M1038.6 341.5h0M967.6 379.9h0M910.1 406.9h0M969.2 360.1h0M1065.7 346.2h0M933.1 405.5h0M948.6 392.3h0M924.1 393.6h0M928 393.7h0M940 406.3h0M992.6 345.6h0M1034.2 336.7h0M890.9 415.3h0M980.5 365.4h0M951.1 383.2h0M1026 347.6h0M969.6 387.1h0M927.8 382.4h0M977.7 363.4h0M935.9 388.7h0M943.3 366.9h0M929.6 389.5h0M925 392.7h0M1005.5 348.3h0M1056.8 337.5h0M931.4 382.3h0M1009.7 329h0M1011.2 356.5h0M915.9 399.4h0M930.3 396.4h0M941.1 398.2h0M970.1 358.8h0M971.7 377.9h0M963.8 366h0M944.6 372.7h0M951.2 374.8h0M983 370.6h0M940.5 401.4h0M903.6 414.3h0M942.4 383.1h0M939.6 382.6h0M948.5 373h0M996.2 341.2h0M1029.8 319.5h0M979.1 346.7h0M966.4 364.5h0M974.4 366.1h0M943 395.1h0M925.3 394.1h0M961.4 359.3h0M984.7 385.6h0M955 377.6h0M965.4 364.6h0M1094.8 324.1h0M949.8 379.9h0M934.7 406.9h0M978 354.6h0M1019.9 349.7h0M1023.8 365h0M978.2 365.9h0M1000.5 347.6h0M987 354h0M1017.4 341.6h0M925.5 402.5h0M1034.7 334.6h0M972.5 373.1h0M1015 368.4h0M973.1 356.1h0M960.8 381.1h0M968 369.7h0M956.9 378.2h0M930.6 395.3h0M1026.9 339.6h0M966.2 395.4h0M953.1 402.5h0M1037.5 362.5h0M1006.3 358.6h0M951.7 389.1h0M986.7 375.6h0M959.1 384.8h0M941.2 376.9h0M956.6 378.3h0M970.1 351.2h0M953.8 382.4h0M931.5 396.4h0M991.5 348.8h0M980.5 358.1h0M980.5 347.5h0M981.2 351.5h0M942.8 387.2h0M1025.7 339.9h0M951.9 389.6h0M932.7 387.2h0M961.4 365.1h0M976.4 357.1h0M923.9 397.8h0M1021.6 343.6h0M1009 368.3h0M925.6 390h0M975.5 370.9h0M1003.6 361.7h0M946.6 386.3h0M922.4 402.5h0M964.4 389.3h0M947.7 384.8h0M942.1 378.4h0M1019.2 350.1h0M971.3 375.8h0M955.1 375.8h0M928.2 397.1h0M963.7 381.3h0M928.6 389.2h0M916.4 392.3h0M963 375.3h0M953.2 374.3h0M1003.6 347.6h0M945.9 381h0M970.3 361.8h0M923.6 399h0M972 342.3h0M952.3 361.5h0M967.7 374.7h0M930.4 385.6h0M1019.3 341.8h0M935.2 382.1h0M974.1 381.1h0M998.6 348.8h0M949.6 377.5h0M928.6 395.1h0M1057.2 356.9h0M965.6 366.3h0M953.3 385.9h0M934.8 390.9h0M975.1 373.4h0M1000.5 352.3h0M927.9 394h0M970.4 354.2h0M995.9 367.3h0M927.7 399.9h0M963.1 367.8h0M923.4 382.6h0M1017.8 346.4h0M934.3 382.5h0M959.3 365.1h0M901.5 412.3h0M1032.1 336h0M981.5 361.8h0M939.9 386.1h0M967.4 374.1h0M1013.2 339.1h0M950.8 369h0M1009.8 337.8h0M955 401.9h0M926.3 395.7h0M942.7 391.5h0M931.1 383.6h0M924.4 393h0M1005.1 333.8h0M940.6 365.9h0M978 368.4h0M929.4 381.5h0M998.2 358.2h0M934.7 381.5h0M1072.7 350.9h0M1010 351.6h0M939.8 404.7h0M927.1 383.9h0M921.5 404.3h0M999.1 335h0M1011.8 349.7h0M919.8 388.2h0M997.9 349.9h0M971.3 378.8h0M949.6 384.7h0M945.1 403.9h0M930.5 377h0M948.5 385.6h0M918.7 392.8h0M977.9 378.4h0M1010 363.3h0M928.2 393.1h0M922.2 405.9h0M974.8 358.9h0M949.3 392.5h0M1015.7 345.1h0M945.6 366.5h0M938.2 372.8h0M944.9 384.2h0M1017.3 336.2h0M949.5 374.3h0M908.5 399.9h0M922.3 390.4h0M965 361.5h0M971.7 362.2h0M1065.2 318.7h0M937.3 393.5h0M956 384.7h0M962.8 382.6h0M903.9 400.1h0M929.6 404.1h0M932.3 386.7h0M939.1 393.1h0M1045.2 348.2h0M938.2 372.7h0M945.1 387.7h0M1023.3 333.5h0M1012.5 349.1h0M1081.9 329.7h0M993.3 371h0M974.8 365.2h0M1004.9 357.6h0M973.8 382.4h0M954.7 372.2h0M946 385.1h0M929.1 389h0M969.5 356.4h0M937.8 387.2h0M925.8 389.3h0M998.5 347.1h0M991.3 363.2h0M951.1 363h0M950.1 387h0M923.2 393.7h0M975.9 362.8h0M974.7 362.9h0M939.4 385.3h0M934.1 379.9h0M988.9 356h0M931.5 387.9h0M920.5 402.6h0M1028.8 363.7h0M1010.8 331h0M897 410.7h0M934.1 388.8h0M986.3 352.1h0M917.6 402.8h0M964.5 355.4h0M894.8 418h0M950.9 372.4h0M963.9 358.8h0M1017.2 331h0M955.5 379.9h0M989.4 363.9h0M965.2 369.3h0M983.2 355.9h0M970.6 377.4h0M1000.3 356.9h0M995.7 372.8h0M990.9 347.6h0M942.4 377.4h0M938.6 406.4h0M1051.8 311.6h0M939.5 385.4h0M1007.5 365.3h0M949.8 372h0M996.6 374.1h0M956.1 383h0M934.8 391.9h0M954.2 365.3h0M958.2 371.8h0M1032.3 356.8h0M941.3 386.6h0M935.1 388.7h0M931 396.6h0M986 345h0M938 401.9h0M1022.9 364.3h0M984.7 370.2h0M944.3 385.3h0M965.5 379.6h0M944.9 381.5h0M1064.9 353h0M996.9 356.2h0M973 365.8h0M971.1 352.9h0M933.9 392.9h0M968.3 377.5h0M929.6 386.5h0M975.8 355h0M1013.5 338.3h0M1002 357.1h0M982 370.2h0M1077 329.9h0M990 342.7h0M955.4 373.7h0M947.2 380.2h0M930.7 385.1h0M1018.3 332.7h0M967.6 369h0M1020.4 359.1h0M940.5 393.9h0M1026.8 352h0M911.7 402.2h0M944.2 397.1h0M950.5 370.2h0M1005 347.4h0M947.3 378.3h0M961 379.9h0M926.9 373.3h0M944.2 370.8h0M958.8 373h0M998.2 360.2h0M925.6 391.1h0M979.6 376.6h0M1095 317h0M981.2 348.4h0M919.4 408.4h0M1045.1 367.4h0M998.1 330.4h0M975.1 353.1h0M978.7 369.9h0M978.3 348.6h0M983.5 369.6h0M935 398.5h0M1051.5 338.4h0M905.5 407.4h0M966.9 355.3h0M994.4 339.2h0M978.8 370.1h0M1003.8 332.8h0M968 370.5h0M957.8 376.2h0M904 404.6h0M932.4 388.2h0M989.4 357.1h0M996.4 376.1h0M942.8 387h0M1010.7 358.7h0M979.8 372.6h0M934 381h0M979.7 372.2h0M1012.1 376.9h0M960.9 367.6h0M1013.1 349.9h0M940.4 378.8h0M931.7 394.1h0M973 365.8h0M961.4 374h0M952.8 355.2h0M982.7 372h0M957.6 390.7h0M952.6 361.6h0M984.5 347.4h0M1055.7 351.4h0M1138.2 330.5h0M1024.9 333.9h0M1083.9 334h0M1043.8 330.1h0M1016.7 341.8h0M1060.1 354.1h0M1054.5 344.8h0M1112.3 347h0M1025.5 334.2h0M1047.4 326.2h0M1015.3 350.5h0M1130.1 355.7h0M1161.4 316.8h0M997.1 352.2h0M1036.7 347.9h0M1016.4 371.1h0M991.1 370.3h0M992.1 367.6h0M1032 335.1h0M1053 381.6h0M1167.1 284.7h0M1174.3 341.9h0M1115.9 322h0M1070.7 316.4h0M1027.4 326.2h0M1227.1 314.9h0M1023.4 339.2h0M1012.4 349.3h0M1284.5 301.2h0M1116.2 320.4h0M1241.1 288.6h0M1068.6 358h0M1087.7 325.3h0M1078.5 337h0M1179 304h0M1241.9 290.7h0M1173.2 334.9h0M1059.5 367.7h0M1147.3 323.3h0M1145.1 331h0M1037.7 324.9h0M1246.3 275.6h0M1014 330.6h0M1082.1 309.7h0M1037.3 322h0M1203.3 305.5h0M1197.9 312.9h0M1043.6 342.9h0M1242.7 325.4h0M1005.6 363.6h0M1039.6 351.4h0M1059.6 322.4h0M1100.7 332.3h0M1143 341.5h0M1128.9 317.9h0M1026.2 350.2h0M1098.2 314.2h0M1244.9 319.2h0M1039.5 333.5h0M1124.2 348.1h0M1043.2 334.5h0M1019.7 351.4h0M1020.4 356.9h0M996 327.1h0M1095 315.8h0M1120.4 339.2h0M1234.6 228.7h0M1035 320.9h0M1070.8 347.2h0M984.9 363.4h0M1065.5 348h0M989.8 368.8h0M1022.4 335.3h0M1080.7 341.3h0M1028 359.3h0M1073.6 331h0M1024.9 353h0M1099.2 311.2h0M1264.2 304.1h0M1005.6 354.2h0M1022.9 329.4h0M1061.7 324.6h0M1097.1 345h0M1213.5 337.4h0M1051.5 360.1h0M1045.2 336.8h0M1022.9 369.3h0M1006.2 357.9h0M995.1 358.1h0M1212.1 318.8h0M1123.9 346.4h0M1118.2 341.3h0M1075.3 353.8h0M1259.5 310.8h0M1119.8 318.7h0M1004.4 343.5h0M1051.7 336.6h0M1004.4 337.7h0M1139.4 317.5h0M1284.8 316.5h0M1009.5 343.2h0M1029.9 342.6h0M1068.4 322.3h0M1129.9 349.9h0M1054.8 347.9h0M1080 341.3h0M1048.9 339h0M1183.5 325.3h0M1031.6 366.8h0M1011.1 365.6h0M1151.9 339.8h0M1179 334h0M1015 363.3h0M1027 354.2h0M1265.3 291.1h0M1022 353.5h0M1041.1 337.1h0M1036.5 354.1h0M1075.4 351.1h0M1086.2 315.9h0M1012.8 362.4h0M1199.6 283.9h0M1000.2 363.7h0M1247.1 301.8h0M1076.9 343.1h0M1245.5 321.3h0M1193.1 328.6h0M1032.4 347.8h0M1128.8 286.4h0M1121.8 334.5h0M1077.1 306.1h0M1038.5 347.5h0M1087.9 346.8h0M1123 327.7h0M1099 269.9h0M1108.2 365.3h0M1068.6 345.5h0M1121.7 317.1h0M1032.2 351.8h0M1044.6 308.8h0M1115.8 345h0M1036.7 339.4h0M1214.4 331.2h0M1193.4 301.7h0M1065.5 343.7h0M1009.4 339.1h0M1143.3 335.2h0M1221.6 329.1h0M1098.1 336.5h0M1356.4 323.9h0M1021.6 353.8h0M1110.9 324.6h0M1010.9 362.3h0M1038.4 365.4h0M1119.1 332.8h0M1123.1 308.8h0M1119.5 359.9h0M1032.5 352.2h0M1217.4 321.4h0M1084.4 305.8h0M1187.6 311h0M1097.2 325.9h0M990.3 373.7h0M1167.5 300.6h0M1086 332.7h0M1001.1 360.4h0M1077 346.4h0M1179.7 335.7h0M1025.5 345.1h0M1078.5 325.9h0M1148 325.5h0M1014.3 350h0M1084.7 357.1h0M1076 356.1h0M1080.5 343.6h0M1136.8 315.6h0M1145 305.3h0M1073.5 310.5h0M1136.6 333.1h0" fill="none" stroke="#404040" stroke-width="2.4" stroke-linecap="round" opacity="0.56"/>
<path d="M937 389.8h0M1013.8 368.1h0M1027.5 359.8h0M915.9 387.3h0M938.7 377.4h0M926.8 402.8h0M922.6 404h0M969.4 372.3h0M957.8 371.5h0M994.9 362.9h0M992.5 368h0M932.8 387.1h0M965.7 374.8h0M927 405h0M951.4 386.6h0M950.4 390.2h0M966.3 373h0M959.5 369.1h0M963.4 373h0M927.4 394.6h0M919 394.9h0M989.3 363h0M1016.9 359.9h0M963.9 354.3h0M1017.4 325.1h0M980 362h0M928.6 392.7h0M1041.2 353.8h0M905.3 393.1h0M935.5 393.4h0M951.5 390.1h0M926.5 396.4h0M928.5 402.4h0M927.7 392.5h0M1022.3 312.5h0M964 381.5h0M918.3 400.6h0M1019.1 361.4h0M1062.5 327.1h0M941 385h0M995.3 355.4h0M982.5 368.9h0M973.8 363.1h0M945.2 367.8h0M979 359.9h0M1071.5 314.6h0M921.3 385.1h0M951 379.3h0M951.1 400h0M929.6 395.1h0M928.2 386h0M935.3 378.8h0M917.6 394.3h0M1013.7 347.3h0M1002.7 350.6h0M933.2 383.3h0M932.6 382.4h0M997.4 355.4h0M1011.1 349.7h0M991.8 366.1h0M930.8 401.4h0M925.8 389.7h0M1005.3 348.4h0M938.6 374.6h0M932.4 392.3h0M908.7 394.5h0M1049.8 331h0M984.4 344.7h0M942.6 386.2h0M938.8 385.4h0M976.8 365.9h0M940.7 375.3h0M955.5 369.2h0M1058.7 322.9h0M976.8 361.6h0M961.2 379.9h0M907.7 397.3h0M1038.5 334.3h0M969.3 356.7h0M957.2 368.7h0M987.8 359.3h0M917.1 388.8h0M942 383.4h0M979.9 350.9h0M930.2 370.1h0M979.8 352.5h0M932.6 385h0M968 359.5h0M967 360.1h0M985.1 380.7h0M961.4 363.2h0M980.6 344h0M985.4 351.7h0M990.4 356.3h0M991.7 386.4h0M958.4 374.3h0M984 352.6h0M931.7 399.4h0M922 389.1h0M911.9 410h0M964.3 382.8h0M962.3 393h0M966.6 371h0M1011.8 336.6h0M982.2 371.2h0M1018.5 363.1h0M986.5 373.6h0M969.3 388.2h0M943.6 385.5h0M976.4 357.8h0M963.8 380.1h0M994.3 360.1h0M954.3 382.4h0M956.2 377.3h0M950.7 371.7h0M962.8 368.2h0M989.5 355.6h0M964.2 371.9h0M1108 335.9h0M925.2 387.9h0M950.5 381.3h0M919.9 391.9h0M997.7 351.5h0M927.7 407.4h0M986.1 356.5h0M964.7 358.9h0M938 391.9h0M968 372.5h0M960.6 364.9h0M930.7 387.9h0M947.8 366.3h0M956.5 358.5h0M972.3 354.9h0M947.5 381.6h0M957.9 359.6h0M969.7 356.4h0M944 392.7h0M925.5 374.8h0M943.7 380.8h0M939.5 402.7h0M940.1 390.5h0M914.2 403.5h0M895.9 415.7h0M931.8 387.3h0M955.6 400.3h0M968.2 359.3h0M950.6 370h0M983.2 354.6h0M963.9 383.5h0M933.9 387h0M963.5 368.9h0M959.3 378h0M967.8 377.4h0M982.6 368h0M980 363.3h0M945.7 373.3h0M958.6 382.8h0M949.1 381.9h0M920.7 398.2h0M962.7 352.8h0M1015 356.4h0M953 384.3h0M1030 330.3h0M909.2 394.6h0M917 385h0M915.2 400.8h0M969.3 350.4h0M932.6 386.5h0M934 373.2h0M951 375.3h0M961 385h0M981.5 366.6h0M1022.9 355.1h0M915.4 404.3h0M1027.5 367.3h0M1033.6 342.7h0M977.4 368.7h0M947.4 380.5h0M965.6 360.2h0M932.6 387.3h0M996.7 378.2h0M956.5 378.9h0M959.2 370.5h0M988.5 359.8h0M946.1 396.4h0M1041.4 335.8h0M995.5 362.8h0M940.6 390.5h0M939.5 378.8h0M962.6 368.7h0M971.6 383.5h0M964.5 361.8h0M1004.5 358.6h0M950.7 389.3h0M1024.6 356.1h0M947.9 372.2h0M942.6 386.4h0M976.5 355.4h0M972.6 383h0M970.6 353.6h0M1095 349.5h0M1000.5 359.8h0M964.3 357.5h0M1013.8 350.1h0M937.9 381h0M926.4 404.4h0M913.7 394.5h0M921.8 406.4h0M955 375.4h0M966.5 378.6h0M936.4 401.7h0M1032.3 359.9h0M945 378.2h0M933.9 384.1h0M941.1 391.2h0M936.8 395.6h0M956 378.3h0M917.4 392.5h0M1004.4 357.7h0M1050.4 314h0M935.5 392.9h0M930 392.1h0M935.4 386.7h0M1057.8 326.8h0M930.1 391.3h0M993.5 358.3h0M982.3 347.8h0M898.1 405.9h0M960 376.8h0M1027.3 339.1h0M932.1 375.7h0M1014.2 365.1h0M930 384.9h0M974.5 365.4h0M968.7 360.4h0M967.8 379.1h0M976.1 362.7h0M930.5 399.5h0M984.7 371h0M958.8 379.7h0M987.8 366.6h0M962.5 351.5h0M963 378h0M995 362.5h0M926.7 398.9h0M970.4 359.2h0M921.4 398.7h0M919.6 397.7h0M951.6 368.2h0M934 392.2h0M1075.6 333.5h0M989.2 340h0M956.3 374.5h0M919 405h0M947.6 382.8h0M975.8 363.8h0M934.8 386h0M950.1 383.8h0M947.8 385.5h0M1016.4 333.3h0M982.8 365.3h0M1032.4 323.3h0M976.1 364.1h0M935.8 394.6h0M946.5 374.1h0M994.6 342.1h0M952.2 394.9h0M972.8 374.7h0M937.7 389.9h0M999.4 368h0M1014.9 338.8h0M924 407.6h0M996.8 354h0M971.6 382.2h0M928.3 392.5h0M1020.6 344.2h0M968 372h0M927.3 400.7h0M920.5 389.3h0M1032.4 332.5h0M1006.7 345.1h0M927.4 380.8h0M989.2 373.9h0M924 392.9h0M978.1 363h0M978.4 371.4h0M987.7 370.7h0M953.4 357.1h0M966.6 370.7h0M1004.4 356.8h0M919.3 403.7h0M978 379.3h0M987.5 368.2h0M924.7 392.3h0M912.2 406.9h0M935.5 386.9h0M1010.5 359.2h0M956.6 381.3h0M905.6 409.3h0M988.3 369.3h0M920.7 393.5h0M1040.5 364.3h0M1032.6 368.7h0M1027.4 357.5h0M1043.2 347.9h0M987.9 366.9h0M973.5 354.6h0M975.7 356.5h0M922.8 393.4h0M959.7 397.3h0M984.2 360.9h0M1014.9 335.2h0M951.2 372.4h0M940.2 385.3h0M966.5 361.6h0M1000.8 357.8h0M969.9 372.1h0M979.6 361h0M1019.1 355.3h0M958.8 362.4h0M977.4 369h0M922.4 395.4h0M918.3 390.1h0M973.8 362.3h0M920.8 398.9h0M917.3 402.4h0M925.8 414.6h0M1060.3 360.7h0M1039.1 350.8h0M966.9 371.2h0M970.9 359.2h0M1069.9 317.7h0M955.4 376.1h0M968.5 367.9h0M976.6 361.8h0M978 370h0M913.9 391.2h0M989.8 359h0M934.1 384.4h0M970.3 376.8h0M993.2 345.5h0M971.2 375.9h0M1008 352.1h0M1018 348.2h0M937.7 382.9h0M939.8 389.7h0M1017.3 355.2h0M962.4 367.7h0M941.3 375.8h0M936.8 402h0M994.4 346.9h0M1017.9 340.4h0M954.8 387.2h0M1050 321.8h0M980.6 349.6h0M988.2 345.2h0M1003.1 361.8h0M999.6 374.5h0M961.5 368.2h0M933.5 392.1h0M926.2 391h0M926.4 386.3h0M996 347.9h0M954.1 353.7h0M912.5 411.4h0M997.8 357h0M918.8 402.2h0M938.2 382.8h0M942.6 372.3h0M926.5 395h0M929.5 381.3h0M935.8 388.9h0M930.7 389.8h0M928.8 390.4h0M957.9 388.6h0M929.1 400.2h0M951.8 363.3h0M911.3 401.2h0M1028.8 352.1h0M1021.9 362.4h0M940.1 377.4h0M934.6 394.1h0M959.7 390.3h0M922.7 393.1h0M981.7 376.6h0M969.4 375.4h0M955.6 373.2h0M960.6 389.1h0M911.9 405.9h0M954.4 369.1h0M1012.2 345.1h0M937.3 388h0M990.4 360.1h0M915.7 391.2h0M977.1 361.3h0M946.2 381.2h0M978.5 374.5h0M911.2 398.3h0M1029.6 326.7h0M938.4 380.6h0M972.2 375.5h0M906.2 399.3h0M959.8 379.6h0M980.1 381h0M926.6 393.6h0M941.8 384.7h0M911.8 397.9h0M933.7 396.8h0M904.4 411.7h0M1005.9 334.1h0M965.4 357.1h0M972.9 366.5h0M961.9 365.6h0M971.6 357.5h0M996.1 362h0M993.4 346.8h0M1050.3 327.4h0M970.5 377.5h0M993 365.5h0M962.7 372.5h0M1046.3 338h0M938.7 376.2h0M908.6 405.2h0M951.9 380.8h0M997.3 371.6h0M898.5 406.6h0M936.4 385.8h0M912.9 396.5h0M990.1 356.5h0M944.9 381.8h0M1007.6 339h0M1027.1 321.7h0M929.7 397.8h0M997.2 366h0M932.9 387.5h0M956.7 379.6h0M1016.9 335.5h0M919.4 390.2h0M965.5 375.8h0M903.2 400.8h0M934.7 390.2h0M937.9 405h0M941.1 380h0M924.9 407.3h0M962.8 370h0M961.6 362.5h0M991.6 373.1h0M921.9 398.8h0M937.2 372.9h0M980.3 358.1h0M935.8 383.7h0M930.8 387.9h0M955.5 361h0M965 375.3h0M941.1 370.9h0M963.6 377.9h0M982.2 365.7h0M909.2 397.3h0M988.5 375.3h0M917.7 400h0M954.1 372.1h0M970.5 378.3h0M971 364h0M1028.1 349.6h0M1024.1 339.4h0M932.5 380.5h0M932.2 380.9h0M945.9 378.2h0M970.2 364.1h0M956.5 390.8h0M968.3 368.1h0M1044.6 346.8h0M937.3 370.2h0M993.7 359.3h0M932.1 381h0M1008.7 352.5h0M925.6 374.9h0M947.1 392.1h0M936.6 378.2h0M979.8 350.2h0M935.3 385.3h0M951.8 394.5h0M1004.1 382h0M935.5 382.3h0M909.9 401h0M976.6 378.1h0M911.6 400.5h0M950.8 384h0M979.5 371.5h0M933.4 394h0M913 408.8h0M974 370.1h0M987.8 346.4h0M923.6 390.1h0M980.7 370.4h0M911.1 400.4h0M969.6 378.6h0M973.2 384.6h0M1025.6 342.4h0M985.9 385.7h0M946.9 389.6h0M976.7 369.8h0M971 359.8h0M952.1 379.6h0M930.9 406.1h0M923.2 379.1h0M994.2 363.7h0M961.5 362.1h0M967.7 357.4h0M950.5 370.1h0M966.6 377.6h0M931.5 380.3h0M902.7 410.4h0M1028.6 336.1h0M923.2 396.5h0M938.7 386.6h0M1108.3 342.7h0M1018.6 343.3h0M935.9 382.2h0M1033.8 353.9h0M935.2 391.8h0M961.1 371.8h0M945.9 388.6h0M959 390.6h0M971.8 370.4h0M970.6 376.4h0M1013 342.5h0M977.9 376.4h0M977 353.3h0M969.1 363.8h0M964 374.4h0M951 378.7h0M1055.2 328.4h0M953.2 362h0M978.3 360.1h0M1006.4 365.8h0M953.5 390.4h0M900.7 412.3h0M1031.1 319.1h0M1063.5 333.5h0M963.6 356.4h0M1008.1 341.4h0M1000.3 372.5h0M910.8 406.6h0M1102.5 328.8h0M932.8 383h0M1000.3 351.1h0M914.5 410h0M972 354.6h0M1015.7 327.5h0M980.6 348.1h0M961.9 385.5h0M929.3 385.7h0M962.3 386.6h0M973.5 383.9h0M947.5 362.3h0M915 396h0M983.2 380.2h0M929.6 409.6h0M971.9 363.4h0M979.8 356.8h0M957.3 375.6h0M974.1 370.8h0M925.9 383.6h0M1048.4 339.5h0M992 364.6h0M964.9 366.3h0M942.8 380.6h0M1008 361.5h0M939.3 376.6h0M983.5 375.4h0M933.8 375h0M972.3 362.7h0M925.3 389.7h0M1113.6 320.9h0M981.4 370.4h0M995 364.5h0M985.9 354h0M967.6 359.6h0M988.6 331.4h0M950 388.4h0M918.8 402.8h0M980.7 356.9h0M988.8 355.9h0M1004.9 344.2h0M1062.2 335.7h0M957.8 384.6h0M911.7 406h0M957.1 360.5h0M964.5 361.4h0M970.6 386.6h0M1020.6 352.5h0M956.4 357.9h0M1053 357.2h0M1008.7 352.2h0M959.6 376.8h0M943.2 368.1h0M1014.8 362.1h0M977.6 375.8h0M938.9 393.8h0M934.9 381.7h0M990.2 364.9h0M946.9 384.7h0M926.2 401.6h0M1041.8 342.1h0M962.9 380.6h0M929.6 394.9h0M906.1 407.8h0M991 348.7h0M989.6 359.2h0M930.3 387.3h0M959.8 369.3h0M965.6 369.4h0M926.4 408.5h0M923.6 402.6h0M957.5 377h0M937.2 380h0M953.1 382.3h0M930.2 387h0M989.9 364h0M957.7 380.9h0M966.2 348.6h0M1002.1 367.5h0M904.7 398.5h0M928.7 374.4h0M987.1 352.2h0M1025 357.5h0M970.6 364.4h0M953.2 385h0M933.5 384.8h0M1032.4 358.1h0M921.5 391.4h0M942.6 388.4h0M959.7 394.4h0M916.1 394.9h0M962.3 367.4h0M952.6 366.5h0M956.9 369h0M929.1 388.2h0M1081.8 323.5h0M945.7 380.6h0M924.7 391.5h0M948.2 369h0M960.9 381.4h0M1062.5 310.8h0M984.7 374.2h0M936.6 385.2h0M956.7 386.6h0M948.4 382h0M1012.2 350.7h0M965.8 370.7h0M911.2 390.5h0M905.6 405.7h0M1007.4 351.5h0M1000.8 364h0M987.2 379.4h0M952.3 374.3h0M1009.3 347.7h0M939.1 379.5h0M931.8 375.8h0M974.8 351.9h0M1023.1 342.8h0M922.6 385.5h0M918.1 391.2h0M965.8 362.7h0M973.4 365h0M984.6 348.1h0M959.3 374.8h0M1009.6 345h0M975.1 374.7h0M964.1 366.7h0M1032.2 342.5h0M927.6 409.4h0M909.3 389.5h0M1006.2 342.6h0M912.7 388.2h0M919.8 387.9h0M970.1 380h0M916.1 403.5h0M921.4 395.9h0M967.2 365.7h0M918.3 393.5h0M997.5 336.5h0M965.4 360.6h0M906.6 402.1h0M950.7 370.9h0M986.3 350.6h0M916.8 393.7h0M938.7 385.9h0M937.3 387.5h0M942.8 401.9h0M1020.2 383.9h0M1014.2 349.6h0M1024.3 337h0M993.6 351.4h0M982 359.7h0M1006.2 351.3h0M950.2 394.6h0M942.7 390.2h0M906.7 411.7h0M928.3 380.9h0M965 366.5h0M942 377.6h0M936.3 384.3h0M1046.4 343.3h0M981.6 351.7h0M987.5 353.6h0M970.6 379.9h0M953.7 381.8h0M931.3 400h0M1084.6 361h0M948.7 375.4h0M992.1 337.2h0M950.5 370.7h0M1001.3 357.8h0M950.6 364.5h0M1014.8 363.6h0M957.2 384.3h0M953.5 370.6h0M901.2 404.2h0M1025.1 365.7h0M915.4 395h0M958.6 364.4h0M960.1 366.6h0M931 382.9h0M979.3 370.5h0M1058.4 339.8h0M970.2 366.7h0M1020.5 356.9h0M970.7 348.9h0M955.7 392.9h0M935.7 381.8h0M926.4 394.4h0M1010.6 353h0M976 366.7h0M967.5 359.9h0M998.5 347.7h0M1038.4 318.7h0M960.5 370.5h0M978.9 359.1h0M945.7 383h0M953 384.5h0M998.1 366.9h0M939.9 386.7h0M915 404.3h0M981.2 363.2h0M937.7 377.2h0M902.9 412.3h0M970.9 357.5h0M975.9 352.2h0M920.4 392.9h0M959.1 374.4h0M940.5 371.1h0M939 391.7h0M963.8 378.5h0M997.3 373.3h0M983.3 352h0M942.2 381.9h0M963.2 374.5h0M998.5 370.9h0M953 373.3h0M950 375.5h0M936.1 360.8h0M958.3 375h0M939.7 388.2h0M936.1 376.9h0M953.9 376.2h0M989.1 355.3h0M970.2 379.6h0M952.3 383h0M944.2 385.7h0M972 376.8h0M986.7 364.6h0M971.9 391.9h0M966.8 371h0M970.4 381.1h0M966.4 377.1h0M936.2 393.7h0M904.4 416.8h0M1027.9 349.9h0M965.7 364h0M1013 341.7h0M947 369.7h0M931 389.4h0M964.5 354h0M945.6 384.4h0M990.8 365.8h0M950.1 383.5h0M930.1 384.7h0M940.7 383.1h0M937.7 389.8h0M1024.8 328.7h0M978.6 367.5h0M970.5 357.4h0M959.7 380.6h0M998.7 357.9h0M929.1 383.9h0M914.6 401.7h0M1004.6 352.6h0M1029.7 318.5h0M946.3 390.7h0M938.5 373.1h0M949.3 378.2h0M940.1 384.4h0M964.8 387.7h0M958.7 366.9h0M1035.7 347.1h0M970.2 366.1h0M999.1 357.8h0M945.3 381.8h0M911.3 402.1h0M944.2 378.3h0M961.2 368.6h0M978.5 367.7h0M968.6 368.3h0M927.9 393.5h0M957.5 395.1h0M1010.8 338.4h0M925 397h0M1028.2 333.9h0M974.1 346.4h0M1038.3 344h0M956 387.3h0M904.7 409h0M963.1 375.3h0M966.7 366.3h0M936 388.4h0M943.6 389.2h0M928.1 396.4h0M981.5 360.7h0M904.9 401.6h0M984 375.7h0M993.5 362.8h0M1046.2 328.1h0M958.5 369.1h0M912.6 391h0M935.9 381.1h0M1053.4 325.7h0M911.5 397.6h0M959.1 368.6h0M996.7 372.9h0M995.5 356.1h0M950.6 384.6h0M934.3 392.1h0M955 394.1h0M943.4 365.9h0M933.2 381.7h0M965.3 364h0M974.3 364.5h0M971.6 377.4h0M1020.2 351.5h0M910.4 410h0M963.2 370.5h0M995.7 382.2h0M1004 351h0M939 380.4h0M979.4 372.9h0M938.2 391.4h0M1044.3 326.9h0M954 380.7h0M921.2 392.8h0M935.2 381.2h0M940.7 391.8h0M925.9 386.8h0M954.8 360.4h0M945.3 382.8h0M965.9 363.9h0M973.1 374.2h0M973.8 356.2h0M913.8 402.7h0M1003.6 329.1h0M941.9 378.9h0M968.5 364.1h0M947.4 389h0M1024.9 351.9h0M964.2 360.3h0M955 368.4h0M975.8 368.6h0M983.9 351.4h0M958.5 362.4h0M1030.9 344.3h0M909.6 407.1h0M954.3 386.2h0M937.8 389.8h0M1019.1 337.1h0M960.9 374.7h0M978 377.3h0M931.1 387.1h0M948.3 386.6h0M968.1 363.8h0M1018.3 346.2h0M960.8 369.8h0M983.3 360.1h0M995.8 362.6h0M971.2 376.3h0M938.9 382.7h0M982.4 384.1h0M952.8 347.3h0M961.5 370.3h0M1015.8 335.1h0M994.8 356.9h0M998.3 373.2h0M985.4 370.4h0M1007.8 344.1h0M941.5 384h0M935.4 384.9h0M927.1 392.9h0M927.2 386.9h0M917.7 386.1h0M971 364.7h0M938.6 383.8h0M922.4 388.8h0M991 358.6h0M1031 343.1h0M950.1 384.4h0M972.5 372.9h0M995.1 363.2h0M892.8 416.4h0M946.3 397.3h0M994.4 362.2h0M995.3 361h0M1046.8 356.3h0M936.7 392.7h0M978.2 359h0M930.9 389.1h0M947.1 383.2h0M1172.8 310.2h0M1029.4 337.9h0M1062.6 354h0M919.8 384h0M991.6 351.4h0M935.1 386.8h0M1007 358.3h0M949.2 367.1h0M969.7 371.7h0M955.9 376h0M983.7 339.6h0M946.7 385.6h0M923.4 390.6h0M974.5 364h0M959.7 373.8h0M1012.8 344h0M961.8 378.7h0M969.1 371.1h0M1106.8 330h0M1006.3 345.9h0M968.5 352.7h0M918.5 392.3h0M990.6 369.4h0M965.8 354.3h0M966.2 368.8h0M940.8 403.9h0M934.4 375.6h0M974.8 370.2h0M916.5 400.4h0M960.4 369h0M974.6 365.4h0M1016 358.4h0M964.4 360.7h0M929.6 401.5h0M958.7 355.1h0M962.4 380.1h0M964.5 384.4h0M966.8 348.9h0M955.4 379.6h0M950.3 379.9h0M942 391.2h0M920.6 406.7h0M1023 346.8h0M924.4 391.1h0M1003.1 372.2h0M1022.1 368.9h0M954.2 382.6h0M938.9 407.3h0M972 357.6h0M934.3 369.3h0M945.9 391.6h0M948.8 385.2h0M940.9 363.9h0M934.9 389.2h0M981.1 363h0M939.7 382.6h0M940 394h0M1022.9 329.8h0M999.3 333.8h0M1084 328.6h0M920.2 401.1h0M973.2 382.1h0M900.6 411.2h0M984.9 363h0M963.5 358.7h0M956.7 382.3h0M950.3 369.6h0M978.2 355.4h0M927.2 387h0M937.2 397.2h0M934.7 380.7h0M963.2 355.2h0M939.8 390.9h0M1012.2 357.9h0M1091.3 335.5h0M1012.5 352.2h0M1116.6 329.5h0M1065.8 305h0M1266 309.3h0M1020.4 332.8h0M1190.7 305.8h0M1005.1 341.8h0M1171.6 323.4h0M1062.6 323.1h0M1189.7 290h0M1045 344.4h0M1123.4 338.6h0M1151.1 319.9h0M1027.7 338.9h0M1156.2 314.1h0M1169.9 336.4h0M1099.5 339.7h0M1072 323.7h0M1091.2 325.6h0M1054.9 328h0M1173.3 329.4h0M1106.8 347.7h0M1096.4 307.7h0M1199.6 283.5h0M1017.5 358.6h0M1095 317.4h0M998.6 360.3h0M1085 333h0M1106.1 299.2h0M996.4 362h0M1014.8 340.6h0M1065.3 341h0M1193.7 322h0M1163.3 325.3h0M987.6 355.8h0M1028.1 362.2h0M1154.5 354.7h0M1222.3 318.9h0M1168 327.5h0M1020.5 358.5h0M1076.7 323.5h0M1000 352.2h0M1131.2 315.8h0M1284.3 307.4h0M1059.9 343.1h0M1001.1 369.2h0M1136.4 324.7h0M1202.6 309h0M1085.7 335.7h0M1346.5 313.9h0M1038.7 340.7h0M1043.4 338.2h0M1152.3 312.4h0M1153.6 312.9h0M1119.1 343.8h0M1164.2 300h0M1051.3 332.9h0M1113 313.8h0M1059.2 334.3h0M1013.4 340.7h0M1005.5 342.4h0M1094.6 345.8h0M1026.5 340h0M1032.9 345.3h0M1180.9 298.8h0M1021.3 346.7h0M1107.2 360.3h0M1203.6 326.8h0M1064.3 335.7h0M997.6 391.9h0M1139.7 326.2h0M1063.6 321.8h0M1059.4 346.8h0M1002.4 357.7h0M997.5 367.6h0M1236.4 309.9h0M1018.3 362.1h0M1172.4 323.1h0M1122.9 333.9h0M1170.1 303.3h0M1039.4 338.1h0M1062.1 346h0M1162.6 306.2h0M1196.1 308.4h0M1106.4 357.6h0M1107.8 335.8h0M1197.2 310.9h0M1110.4 313.5h0M1138 333.9h0M1104.9 309.1h0M1002.3 363.4h0M1037.6 337.7h0M1072 327.7h0M1049.7 324.6h0M1008.9 364.8h0M1039.6 341h0M1154.7 321.9h0M1069.9 323.1h0M1157.2 337.6h0M1002.3 338.7h0M1014.5 371.2h0M1118.2 325.3h0M1067.6 348.2h0M1048.5 326.7h0M1193.2 319h0M1068.9 327.5h0M1157.4 309.7h0M1046.5 366.9h0M1182.8 347.7h0M1016 357.4h0M1110.5 322h0M1122.8 330.2h0M1037.2 322.2h0M1106.6 324.8h0M1007.3 356h0M1139.7 369.6h0M1091.5 363.8h0M1242.2 312.4h0M1187.3 332.9h0M996.6 369.8h0M1089.8 320.9h0M1023.7 327.6h0M1098.7 325.6h0M988.3 371.2h0M1082 320.4h0M1176.2 307.9h0M1030.2 332h0M1022.3 361.6h0M1063.4 372.8h0M1311.3 303.8h0M1077.6 341h0M1101 319.8h0M1036.4 342.7h0M1127.6 344.7h0M1036.7 348.5h0M1122.2 329.6h0M1089.6 337.8h0M1337.5 310.5h0M1104.4 328.5h0M1181.3 321.6h0M1049.1 335.1h0M1103.1 343.8h0M1022.3 323.4h0M1299.4 311.6h0M1067.2 350.3h0M1047.5 314.5h0M1120.5 340.3h0M1344.3 283.3h0M1072 383.7h0M1045.5 309.2h0M1257.1 305.2h0M995.6 348.7h0M1010.9 368.3h0M1116.6 358h0M1197.9 308.6h0M1245.3 312.9h0M1035.4 329.4h0M1241.6 316.4h0M996.5 347.1h0M1166.2 307.1h0M1143.8 304.2h0M994.9 365h0M1094.6 304.6h0M1042.2 343.1h0M1186 294h0M1069.3 348.9h0M1322.6 311.5h0M1010.3 348.7h0M1030.3 366.7h0M1084.3 342.9h0M1124.4 306.4h0M1100.4 320.4h0M1211.1 332.3h0M1095.6 342.9h0M1016.6 357.3h0M1018.5 338.1h0M1029 331.4h0M1000.1 339h0M1055 336.1h0" fill="none" stroke="#404040" stroke-width="2.4" stroke-linecap="round" opacity="0.56"/>
<path d="M1093.5 321.8h0M983.2 359.8h0M958.3 380h0M1104.8 330.8h0M955 368.9h0M952.8 374.4h0M962.9 369.9h0M963.7 377.8h0M945.1 382.4h0M914.2 397.3h0M1012.8 351.5h0M914.5 402h0M971.7 376.6h0M934.2 382.6h0M913.4 407h0M1020 363h0M946.1 372.9h0M930.6 401h0M937.1 406.8h0M945.7 376.2h0M934.8 390.9h0M910.2 398.4h0M974.8 362.6h0M974.1 359.6h0M958.3 379.3h0M996.9 349.4h0M983.8 365.8h0M980.8 367.7h0M1090.1 324.2h0M971.2 386.2h0M970.1 362.4h0M969.7 381.5h0M999 358.3h0M1047.6 343.3h0M935.4 377.1h0M940.7 370.4h0M1066 327.9h0M1045 325.2h0M901.1 401.1h0M957.2 359h0M1059.7 314.5h0M903.5 403.1h0M936.8 375.2h0M972.3 356.7h0M1025.4 344.8h0M956 362.8h0M1000.6 340.9h0M1010.1 354.2h0M971.7 357.4h0M1002.9 360.9h0M943.8 367h0M972.9 356.2h0M961.3 388.2h0M921.1 412.5h0M972.4 373h0M986.2 346.5h0M943.7 378.7h0M897.6 412.7h0M912.4 393.7h0M920 390.3h0M963.3 358.2h0M960.2 383.4h0M944.1 372.6h0M1007.3 363.3h0M903.8 400.6h0M910.8 398h0M1004.2 353.2h0M951 372.1h0M1030.7 327.9h0M911.2 409.5h0M927.8 387.7h0M945 398.1h0M956.1 369.6h0M947 386.9h0M929.9 384.7h0M999 369.4h0M1006.3 344.2h0M985.2 380.4h0M922.9 391.7h0M961.3 374.7h0M976.9 351.8h0M979.7 382.3h0M1001.5 350.5h0M994.3 363.4h0M929.7 388.2h0M936.1 391.2h0M950 366.8h0M986.9 352.2h0M935.4 384.6h0M945 402.3h0M955 383.7h0M971.5 356.5h0M1013 351.9h0M956.9 382.6h0M1029 357.8h0M934.8 384.5h0M997.8 364.7h0M914.5 390.9h0M990 355.4h0M929.6 388.3h0M955.9 381.8h0M967.4 366.7h0M1011.4 348.7h0M1036 333.2h0M928.3 387.2h0M1003.7 348.7h0M983.2 350.6h0M1063.7 332.3h0M1000.7 369h0M974.7 347h0M938.9 379.5h0M1006.5 368.3h0M949.7 378.8h0M933.1 388.7h0M964.9 367.4h0M928.6 396.3h0M958.4 368.8h0M1031.8 362.7h0M950.5 368.8h0M992.7 363.7h0M1031.3 369.6h0M1033.6 354.1h0M942.9 379.9h0M931.3 384.7h0M917.9 389.5h0M939 380.2h0M1003.4 332.2h0M888 420.8h0M939.6 398.7h0M992.9 354.9h0M1020.3 351.2h0M921.8 397.5h0M964.8 371.9h0M1060.7 330.6h0M950.6 367.6h0M949.3 385.4h0M987.4 371h0M1125.2 346.2h0M923.7 407h0M1037.8 326.3h0M912.3 402.7h0M977.4 355.6h0M950.3 389.3h0M903.4 399.2h0M969 361.9h0M930.1 390h0M952.9 382.1h0M1004.2 351.4h0M922.5 380.4h0M931.7 397h0M943.4 394.7h0M1035.6 326.8h0M1012.5 325.9h0M1003.9 342.6h0M978.4 385.8h0M973.7 372.1h0M942.1 381.4h0M918.1 385.5h0M994.6 359h0M1052.8 338h0M949.2 374.5h0M1004 374.1h0M1001.1 362.3h0M938.3 387.2h0M981.7 362.3h0M975.3 360.6h0M958 370.2h0M908.5 407.6h0M952.1 382.6h0M937.2 393.2h0M944.9 378.7h0M932.7 391.7h0M1009 340h0M992.9 348.1h0M944.4 398.5h0M937.5 400.4h0M901.3 405.9h0M923.2 395.3h0M930.7 373.4h0M953.9 386.1h0M983.3 369.5h0M986 360h0M923.8 394.3h0M946.5 386.9h0M962.5 369.3h0M926.3 397.9h0M958.1 375.2h0M926.6 398.2h0M928.7 393.7h0M919.9 394.9h0M915.3 395.2h0M1026.1 351.7h0M1042.9 315.9h0M922.9 401.6h0M963.1 357.2h0M954.9 379.1h0M1060 359.4h0M927.6 393.1h0M992.9 359h0M917.6 397.5h0M946 371.5h0M955.3 377.5h0M991.4 340.1h0M963.1 365.7h0M979.9 377.3h0M943.3 385.2h0M973.2 389.8h0M925.6 389.7h0M1006.6 342.7h0M929.9 393.9h0M948.9 382.8h0M1122.2 310.4h0M1002.5 356.7h0M967.5 365.6h0M965.5 365.2h0M962.9 371.1h0M967.6 360.7h0M936.6 384.1h0M1003.7 362.8h0M946.7 374.6h0M1050.2 332.6h0M990.7 352.9h0M974.9 361.7h0M943 384h0M934.9 393.5h0M936.9 390.9h0M969.2 374.1h0M962.1 368.9h0M992.3 370h0M893.4 416.1h0M969.5 364.5h0M996.2 366.9h0M966.8 373.6h0M914.6 392.3h0M951.1 381.4h0M940.7 399.8h0M933.2 386.5h0M923.9 404.2h0M1015.2 362.4h0M959.8 368.8h0M963.8 387.6h0M1006.8 365.6h0M1024.3 359.3h0M1064.6 367.8h0M915.3 403.1h0M1003.9 354.5h0M953.1 392.7h0M954.1 368.7h0M1090.8 339.2h0M952 385.9h0M949.7 390.3h0M947.7 360.4h0M1002.7 336.9h0M913.3 399.8h0M942.9 364.4h0M941.5 377.6h0M941.4 392.9h0M980.6 376.3h0M925.2 401.3h0M1079.3 326.6h0M941.3 393.6h0M1114.6 371.7h0M1010 370.1h0M932.4 389.7h0M900.6 411.2h0M1002.4 333.6h0M938.1 390.3h0M943.8 385.5h0M900.9 403.2h0M954 365.2h0M897.5 407.4h0M989.5 348.6h0M951.3 385.2h0M1102.3 319h0M959.7 363.3h0M966 371.8h0M937.7 400.4h0M945.4 372.1h0M921.3 392h0M998.1 353.3h0M999.5 341.8h0M1018.1 352h0M916.7 403h0M990.1 358.8h0M996.3 347.5h0M987.1 349.3h0M973.1 360.1h0M960.1 364.7h0M985.9 371.2h0M935.9 389.6h0M940.9 369.9h0M946 373.3h0M1008.4 347.7h0M941.3 387.6h0M929.3 385.4h0M934.8 406.1h0M1046 345.5h0M947.2 390.4h0M958.6 377h0M1005.2 342.2h0M970.7 377.4h0M939.3 382.5h0M937.5 393h0M938.8 378.1h0M947.9 368.4h0M1038.3 353.1h0M981.4 367.9h0M914.3 405.6h0M939.1 388.2h0M979 367.8h0M1061.4 348.4h0M1062.7 330.8h0M960 378.4h0M950.9 380.1h0M1034 332.8h0M999 377.6h0M937.3 405.8h0M974.3 384.1h0M970.2 367.8h0M1014.1 325.1h0M925.4 397.6h0M981 357.8h0M890.2 418.6h0M949 379.3h0M959 375.6h0M943.9 381.9h0M1008.5 350.9h0M1010.8 339.7h0M1010 354.7h0M929.4 391.2h0M955.8 378h0M980 359.5h0M981 380.3h0M948.4 395.9h0M988.5 353.4h0M941.1 393.5h0M929.5 388.7h0M954.6 382.5h0M956.1 374h0M926.2 387h0M949.3 382.2h0M942.5 385.3h0M963.9 390h0M934.3 383.1h0M928.8 397.5h0M1026.7 366.5h0M932.5 391.8h0M933.1 380.8h0M939.2 383.6h0M986.6 371.8h0M1027.5 319.2h0M943.3 397.1h0M1062.3 350.9h0M919.6 394.6h0M945.6 378.8h0M987 360.4h0M934.8 392.3h0M936 386.8h0M979.1 365.1h0M932.7 376.6h0M953.6 385.8h0M963.9 394h0M925.4 394.4h0M1064.8 327.7h0M928.8 382.6h0M956.7 378.5h0M973.7 374.5h0M1001 342.1h0M966.6 366.7h0M1016.4 344.2h0M1006.3 352.3h0M987.7 360.3h0M926.3 401.8h0M968.8 345.8h0M1005.7 348h0M957.8 383h0M912.2 396.5h0M906.8 399.6h0M948.8 357.2h0M920.5 405.3h0M982.7 354.9h0M1007.6 376.5h0M949.4 374h0M951.6 366.1h0M952.7 385.2h0M1001.1 347.7h0M945.3 390.7h0M924.2 399.1h0M942.6 392.2h0M948.9 390.7h0M930.4 397.6h0M926.1 380.2h0M956.5 401.3h0M954.1 387.5h0M922.5 388.1h0M1003.7 324.4h0M967.4 386.7h0M997.7 355.2h0M998.5 391.6h0M1140 317.3h0M942.2 368.8h0M1023.6 342h0M1025.4 364.1h0M944.8 383.6h0M927.8 411h0M922.4 390.3h0M1038 312.1h0M1036.6 371.9h0M961.4 377.7h0M959.1 384.5h0M952.3 373.8h0M932.2 401.2h0M947.1 369.1h0M926.1 379.6h0M925.5 391h0M984 360.6h0M957.6 387.9h0M940 371.6h0M966 366.2h0M972.6 382.5h0M939.9 380.8h0M953.1 386.3h0M1037.3 360.9h0M960.8 397.3h0M973.2 364.6h0M997.8 353.4h0M929.1 398.6h0M973.1 366.6h0M912 403.3h0M924.7 392.5h0M930.5 393.2h0M962.7 372.8h0M934.3 385.2h0M945.7 384.5h0M909.9 394.8h0M1003.1 383.6h0M943.4 370.5h0M904 401.9h0M914.1 404.4h0M947.8 381.2h0M938.1 391.8h0M1002.9 347.8h0M1034.8 340.6h0M955 381.2h0M995.4 370.7h0M941.3 398.3h0M927.9 386.4h0M954.1 387.2h0M922.6 396h0M936.8 396.4h0M931.7 390.1h0M1003.7 345.6h0M938.2 386.3h0M904.9 424.1h0M1091.6 391.5h0M913.3 402.8h0M1008.6 379.3h0M943 373.6h0M1010 361.6h0M986 345.7h0M1062.6 361.8h0M966.1 384.4h0M976.1 350.6h0M996.6 343.2h0M962 366.3h0M988.8 358.1h0M930.9 400.1h0M943.7 357.3h0M983.7 366.5h0M927.8 410.4h0M931.9 393.9h0M968.5 351.3h0M939 392.4h0M965.3 365h0M944.3 372.7h0M942.3 384.9h0M1006 354.3h0M971.2 371.2h0M944.8 371.9h0M997 347.5h0M984.3 365.1h0M992.5 350.3h0M962.4 375.5h0M902.8 407h0M991.8 358h0M1008.4 357.7h0M954.2 357.5h0M954.9 377.9h0M919.3 402.5h0M967.4 369.5h0M1042.5 335.9h0M991.8 356.8h0M985.3 359.1h0M999.2 369.7h0M952.9 374.1h0M963.6 389.2h0M967.9 364.4h0M977.9 362.9h0M959.5 380.1h0M917.7 390.2h0M960.7 372.1h0M937.5 389.6h0M937.7 381.2h0M944.7 382h0M942.4 379.5h0M1109.3 333.6h0M967.2 404.1h0M998.6 344.6h0M922.3 402.5h0M956.5 367.8h0M957 370.7h0M906.4 412.7h0M951.6 373.1h0M926.1 379.2h0M970.4 364.8h0M1029.1 334.1h0M940 403.7h0M997.6 339.6h0M966.2 359h0M986.4 362.7h0M919.7 402.3h0M978.4 352.1h0M1019.4 352.7h0M989 355h0M997.3 362.1h0M1012.3 351.5h0M958.6 376.8h0M991.2 345.3h0M983.3 359.4h0M1000.3 360.9h0M913 409h0M1016.5 363h0M983.3 361.7h0M1021.3 356.5h0M959.5 361.9h0M993 343.5h0M921.7 405.9h0M924 396.8h0M929.6 384h0M1014.5 334.4h0M947.7 379.9h0M984.2 355.6h0M936.8 393.9h0M1036 340.9h0M936.3 395.1h0M922 384.4h0M957.7 370.1h0M971.6 377.1h0M1002.8 329.7h0M964.6 360.4h0M956.8 391.2h0M950.5 379.4h0M1004.3 352.8h0M959.2 376h0M1035.2 345.5h0M1015.6 360.9h0M950 395.8h0M964.7 364.9h0M929.8 390.8h0M1051.1 332.4h0M1046.8 364.4h0M968.9 361.8h0M998.3 350.8h0M963.7 382.4h0M939.8 384.1h0M979.3 349.1h0M925.2 391.8h0M916.4 395.1h0M934.6 382.3h0M997.1 364.1h0M968.2 365.3h0M954.4 397.3h0M949.6 395.7h0M1015 370.9h0M1088.9 361.9h0M949.6 379.7h0M922.6 397.8h0M943.9 379.4h0M969.3 376.9h0M1032.4 367.6h0M967.1 361.6h0M917.6 400h0M994.8 376.7h0M957.4 373.9h0M914 394.5h0M959.9 365.5h0M938.7 395.9h0M968.8 374h0M972.2 365.6h0M1032.4 352.4h0M955.3 383.7h0M941.7 386.5h0M946.4 379.1h0M983.8 361.4h0M1051.2 347.3h0M967.6 356.6h0M977.7 368.9h0M927 389.4h0M1006 327.9h0M1033.8 364.9h0M943.9 381.4h0M1005.5 368.7h0M979.1 357.3h0M940.7 403h0M950.4 386.7h0M975.9 371.7h0M894.3 407.2h0M973.2 367.4h0M929.1 398.7h0M990.4 350.8h0M943.9 376.8h0M1006.7 339.7h0M1050.3 337.7h0M1022.1 358.8h0M947.2 378.9h0M961.6 373.3h0M989 356.9h0M934.9 385.9h0M922.4 395.1h0M949.4 390.4h0M988.5 368.9h0M966.8 358.7h0M911 396.9h0M929.9 396.5h0M1020.4 352.8h0M974.3 341.2h0M919.9 385.3h0M1009.6 345h0M922.1 394.7h0M969.8 365.6h0M974.5 350.8h0M972.5 365.8h0M1020.7 358.4h0M962.8 360.1h0M1062.5 319.9h0M971.2 358.8h0M934.6 378.6h0M1008.7 361h0M991 373.4h0M970.5 376.3h0M1021.3 353.6h0M900.7 414.6h0M969 364h0M960.6 358.6h0M1085.1 339.8h0M990 354.3h0M974 347.4h0M953.8 367h0M905.6 408.6h0M976.5 390.1h0M966 380.2h0M1061.5 352.4h0M1045.2 340.1h0M959.6 366.9h0M951.5 382.9h0M960.5 378.6h0M981 363.5h0M976.2 370.7h0M1057.2 345.4h0M957.8 389h0M949.6 382.6h0M911.4 407.4h0M1033.9 323.3h0M953.4 375.2h0M994 362.7h0M976.9 361.5h0M941.9 378.4h0M948.7 389.2h0M953.5 367.3h0M946.6 391h0M953.3 377.6h0M1037.9 368.2h0M949.8 363.1h0M1010.4 340.3h0M942.9 386.4h0M898.3 418.2h0M920.8 400h0M993.3 366.2h0M954.2 378.7h0M941.8 380.6h0M903.3 405.4h0M962.1 367.5h0M972.5 373h0M951.7 367.7h0M919.7 392.4h0M940.6 394.1h0M977.8 359.3h0M1072.1 332.7h0M963.9 370.9h0M990 364.2h0M1010.2 352.5h0M965.2 364.2h0M947.4 378.1h0M947.7 378.7h0M1004.8 368.4h0M1012.9 357.3h0M949.9 381.4h0M993.1 340.1h0M962.7 374.8h0M1011.4 372.9h0M958.4 371.2h0M1059.6 329.1h0M947 390.2h0M940.6 394.5h0M987.7 343h0M896.2 406.6h0M975.9 384.3h0M939.8 387.9h0M919.1 399h0M990.6 352.8h0M1128.4 324.8h0M992.5 353.6h0M944.9 381.4h0M1045.9 356.1h0M926.1 374.8h0M923.5 386.8h0M920.3 397.2h0M958.4 372.3h0M942.6 386.9h0M1012.6 376.3h0M928.1 397.8h0M1063.5 332.6h0M955 392h0M993.8 361.7h0M1057.1 326.1h0M977.8 383.2h0M983.3 369.1h0M955.3 367.6h0M934.5 389.2h0M1004.5 342.8h0M1105.5 343.7h0M985.4 372.2h0M947.8 378.4h0M991.7 349.1h0M942.9 401.3h0M978.8 373.5h0M969.2 374.7h0M976.5 342.5h0M1042.6 351.9h0M938.9 361.5h0M937.4 412.6h0M925.1 389.8h0M935 389.6h0M975.7 359.6h0M900.4 408.4h0M960.5 358.3h0M897.9 411.2h0M968.1 358.7h0M922.8 394.5h0M925.1 404.5h0M964.6 376.4h0M979 344.2h0M945.9 369h0M957.4 375.2h0M993.6 365.3h0M956.4 371.3h0M907.1 400.4h0M1004.4 351.6h0M913.7 401.1h0M930.2 388.8h0M922.8 387.9h0M978.1 373.3h0M1016.8 344h0M926.3 404h0M1019.1 357.3h0M946 394.9h0M920 405.3h0M974.2 361.2h0M942.7 379.5h0M989.8 360.1h0M935.1 392.9h0M960.8 356.8h0M995.3 333h0M956.8 365.2h0M1086.7 333.6h0M941.3 394.6h0M1026.6 345.5h0M969.4 370.2h0M1048.9 335.2h0M1011.2 354.9h0M933.4 372.6h0M943.6 389.1h0M940.8 392.3h0M952.3 385.8h0M955.6 363.1h0M948.3 399.1h0M956 376h0M1037.5 327.9h0M1257.4 328.3h0M929.8 384.2h0M935 389.7h0M971.2 360.6h0M939.5 374.5h0M925.2 392.8h0M957.7 373.3h0M937.5 367.9h0M923.5 401.3h0M945.8 380.7h0M932.4 393.1h0M990.3 362.7h0M945.7 378.4h0M1064.7 342.8h0M990.4 371.8h0M931.3 382.5h0M1016.3 361.4h0M949.8 382.1h0M967.5 365.1h0M981.4 380.5h0M934.7 380.7h0M983.9 362.1h0M961.1 382.2h0M954.2 378.6h0M925.4 398.3h0M947.8 375.6h0M936.2 391.1h0M957.6 381.4h0M965.5 355.1h0M980 357.7h0M950.7 385.7h0M951.2 371.1h0M939.6 391.8h0M952.1 382.3h0M924.1 397.9h0M939.5 382.5h0M967.6 357.4h0M949.9 374h0M905.1 405.3h0M977.7 376.7h0M1001 350.9h0M928 395.1h0M960.4 379.4h0M1003.3 357.6h0M1001.4 369.2h0M934.1 385.4h0M1037.4 324.1h0M941.7 378.8h0M952.9 364.5h0M1036.8 371.7h0M979.8 362.7h0M963.1 362.7h0M994.3 344.3h0M941.9 384.9h0M963.7 366.5h0M951.3 382.9h0M1033.1 329h0M962.8 370.7h0M979.1 345h0M947.4 385.2h0M994.9 343.8h0M929.8 397.7h0M924.1 389.8h0M990.8 353.1h0M955 376.1h0M946.4 383.9h0M951.4 376.7h0M938.1 401.9h0M958.9 374.6h0M917 394.6h0M911.5 404.1h0M948.9 379h0M979 353.1h0M953.3 369.1h0M950 386.2h0M988.5 367.9h0M912.4 414h0M1012 344.2h0M929.9 377.9h0M972.9 351.3h0M964.7 356.3h0M939.4 382.6h0M1002 345.8h0M938.8 379.9h0M981.5 369.6h0M1062.8 283.4h0M990.3 359.5h0M960.2 370.5h0M958.6 380.2h0M957.3 362.4h0M967.6 363.3h0M1022.7 339h0M914.8 394.2h0M984 367.6h0M976.7 383.9h0M946.8 359.2h0M935.7 379.6h0M924.4 404.6h0M942.1 395.3h0M1025.4 370.2h0M966.3 364.8h0M960.9 372.5h0M901.5 402.3h0M966 383.7h0M942 372.7h0M932.7 385.2h0M967.2 367.8h0M931.6 408h0M945.4 371.6h0M986.8 375.7h0M1003.6 347.8h0M1012.5 355h0M984.1 352.7h0M968.4 359.9h0M935.1 392.9h0M910.2 397.2h0M938.2 375.9h0M972.4 373.6h0M1051.6 276.5h0M950.7 366.7h0M1012.2 344.2h0M960.6 365.3h0M1056.9 343.1h0M970.3 389.1h0M1004.1 346.9h0M999.8 355.3h0M940.3 381.5h0M948.8 374.5h0M1000.1 361.6h0M943.3 377.7h0M936 386.4h0M1023.3 333.5h0M907.4 403.3h0M1005.1 351.1h0M953.6 379.8h0M972.2 365h0M907.4 409.3h0M974.9 352.2h0M948.7 369.6h0M965.7 350.1h0M1000.7 348.3h0M1026.3 353.3h0M1008.9 377.1h0M948.1 388h0M964.7 357h0M960.8 377.9h0M931.3 389.5h0M982.8 368.3h0M971 369.3h0M963.7 384.1h0M943.1 388.4h0M973.2 360.1h0M951.1 391h0M1047 317.2h0M984.4 371.5h0M1014 338.4h0M955.5 370.4h0M980.2 378.1h0M918 408h0M973.3 376.8h0M950.3 365.6h0M943.4 381.1h0M1099.1 333h0M922.4 386.3h0M912.6 397.4h0M926.1 397.5h0M1018.6 352h0M932.7 396.5h0M943 389.7h0M1111.4 321.7h0M971.8 380.4h0M929.1 376.1h0M950.7 381.3h0M998.1 360.2h0M982.8 356.4h0M1007.6 340.2h0M1029.2 332.2h0M917.8 411.3h0M1015.8 350.6h0M947.7 401.8h0M900.2 410.3h0M954.6 387.8h0M976.1 382.3h0M939.3 370.2h0M944.3 386.2h0M941.3 385.5h0M940.1 383.4h0M963.5 377.2h0M922.6 407.7h0M1051.2 377h0M926 394.8h0M963.2 373.1h0M999.5 357.3h0M936.1 386.9h0M940.8 396.3h0M910.7 400.9h0M1037.7 334.5h0M993.4 347.8h0M962.8 370.4h0M1005.2 348.5h0M960.5 363.8h0M935.6 384.8h0M1022 341.9h0M922.5 395.8h0M942.8 376h0M960.8 371.8h0M946.3 378.6h0M991.9 347.1h0M945 390.6h0M1029.1 347.2h0M972.8 374.9h0M929.4 389.7h0M1113.6 362.3h0M1071.9 288.7h0M1067.7 334.8h0M1006.1 361h0M1188.3 336.4h0M1190.3 310.4h0M1152.1 311.1h0M1132 350.2h0M1086.9 332.3h0M1024.8 355.6h0M987.1 350.4h0M1071.8 346.9h0M1228.7 335.8h0M1233.2 253.9h0M1124.3 334.6h0M1252.5 289.5h0M1018.4 352h0M1145.3 323.5h0M1126.8 316h0M1028.8 335.6h0M1025.9 358.3h0M1170.7 313.2h0M1128.9 322.7h0M1132.3 312h0M1224.8 337.7h0M991.5 354.6h0M1300.7 296.6h0M1089 360h0M1181.7 315.1h0M1076.8 317.1h0M1076 352.3h0M1049.2 339.1h0M1082.3 323.1h0M1025.4 343h0M1057.5 317.9h0M1093.1 337.9h0M1330.4 303.9h0M1046.2 347.3h0M1020.1 365.8h0M1186.7 342.2h0M1286.9 288.8h0M1003.6 343.6h0M1317.5 306.5h0M1010.4 362.2h0M1199.6 292.1h0M1047 340.1h0M1010.3 362.8h0M1030 356.8h0M1103.1 340.9h0M1056.5 354.5h0M1240.2 344.5h0M1084.4 349.8h0M1195.6 295h0M1007.3 353.6h0M1215.1 326.8h0M1311 309.6h0M1160.8 325.7h0M1125.7 303h0M1052.1 327h0M1022.7 329h0M1188.3 325.1h0M1048.2 335.6h0M1350.9 328.4h0M1102.2 353.5h0M987.8 368.7h0M1287.3 304.2h0M1043.9 325.9h0M999.7 345.9h0M1011.6 374.2h0M1100.9 333.7h0M1286 321.5h0M1061.1 322h0M1123.7 306.5h0M1086.2 313.8h0M1052.5 362.5h0M1006.1 337.2h0M1060.8 344.2h0M1099.4 337.7h0M1009.9 327.6h0M1002 339.9h0M1084.7 342.1h0M1169.5 316.1h0M1086.4 365.7h0M1083.7 310.9h0M1148 314.4h0M995.8 337.3h0M1093.9 324.7h0M1024.9 349.1h0M1123.9 328.4h0M1074.4 348.9h0M1017.8 375.6h0M1048.1 334.4h0M1079.5 369.5h0M1014.2 382.4h0M1095.9 323.8h0M1084.2 345.4h0M1021.7 327.5h0M1013.2 352.3h0M1130.9 336.1h0M1006.9 343.1h0M1104.9 308.7h0M1057.1 348.5h0M1066.9 332.5h0M1134.6 346.7h0M1143.4 311.3h0M1109.5 311h0M1016.3 340.9h0M1104 314.5h0M1074.5 339.3h0M1010.5 344.5h0M1007.7 352.2h0M1175.9 288.3h0M1038.9 381.1h0M1045.5 345h0M1257.6 319.5h0M1126 339.7h0M1016.3 345.8h0M1136.8 371.6h0M1197.7 293.3h0M1042.2 345.6h0M1138.3 334h0M1006.5 336.3h0M1041.7 331.9h0M1054.8 322.9h0M1106.9 336.1h0M1094 329.4h0M1083.3 328.9h0M1010.7 351.5h0M1230.7 313.6h0M1139.3 338.1h0M991.1 375.2h0M1137.3 341.9h0M1124.7 329.9h0M1014.8 348.1h0M1032.3 342.4h0M1127.2 325.5h0M1055.7 336.8h0M1015.4 364.8h0M1044.4 361.2h0M1023.6 346.7h0M1225.8 315.3h0M1007.6 365.2h0M1060.5 353.2h0M1007.1 368.8h0M1073.4 357h0M1011.9 348.3h0M1000.7 363h0M1199.1 317.7h0M1001.6 357h0M1146.2 322.1h0M1079 326.1h0M1060.1 310.8h0M1300.3 340.1h0M1110.9 324.1h0M1190 325.8h0M1041.1 322.2h0M1095.4 330.5h0M1230.7 329.7h0M1068.8 353.8h0M1307 290.7h0M1225.9 324.9h0M1141.4 366.4h0M1195.4 326.9h0M1016.8 350.5h0M1008.4 350.9h0M1026.4 373.7h0M1301.7 306h0M987.8 369.3h0M1201.9 301.9h0M1062.5 352.9h0M1097.4 322.1h0M1193.8 336.4h0M1164.6 314.8h0M1039.9 352h0M1130.3 338.3h0M1263.5 328h0M1060.9 343.3h0M1117 337h0M1003.8 344.6h0" fill="none" stroke="#404040" stroke-width="2.4" stroke-linecap="round" opacity="0.56"/>
<path d="M853.3 465.2L1180.1 35.5" fill="none" stroke="#1a1a1a" stroke-width="2.0" stroke-dasharray="17.2 17.4"/>
<polyline points="853.3 465.2 853.7 459.9 854.1 457.7 854.4 456 854.8 454.6 855.2 453.3 855.6 452.2 855.9 451.1 856.3 450.2 856.7 449.2 857.1 448.4 857.4 447.6 857.8 446.8 858.2 446 858.6 445.3 858.9 444.6 859.3 443.9 859.7 443.3 860.1 442.6 860.4 442 860.8 441.4 861.2 440.8 861.6 440.2 861.9 439.7 862.3 439.1 862.7 438.6 863.1 438.1 863.4 437.6 863.8 437.1 864.2 436.6 868.7 431.2 873.2 426.5 877.7 422.4 882.1 418.6 886.6 415.1 891.1 411.8 895.6 408.8 900.1 405.8 904.6 403.1 909.1 400.4 913.5 397.8 918 395.4 922.5 393 927 390.7 931.5 388.5 936 386.3 940.5 384.2 944.9 382.1 949.4 380.1 953.9 378.1 958.4 376.2 962.9 374.3 967.4 372.5 971.9 370.7 976.3 368.9 980.8 367.2 985.3 365.5 989.8 363.8 994.3 362.1 998.8 360.5 1003.3 358.9 1007.7 357.3 1012.2 355.8 1016.7 354.3 1021.2 352.7 1025.7 351.2 1030.2 349.8 1034.7 348.3 1039.1 346.9 1043.6 345.5 1048.1 344.1 1052.6 342.7 1057.1 341.3 1061.6 339.9 1066.1 338.6 1070.5 337.3 1075 336 1079.5 334.7 1084 333.4 1088.5 332.1 1093 330.8 1097.5 329.6 1101.9 328.3 1106.4 327.1 1110.9 325.9 1115.4 324.7 1119.9 323.5 1124.4 322.3 1128.9 321.1 1133.3 320 1137.8 318.8 1142.3 317.7 1146.8 316.5 1151.3 315.4 1155.8 314.3 1160.3 313.1 1164.7 312 1169.2 310.9 1173.7 309.8 1178.2 308.8 1182.7 307.7 1187.2 306.6 1191.7 305.6 1196.1 304.5 1200.6 303.4 1205.1 302.4 1209.6 301.4 1214.1 300.3 1218.6 299.3 1223.1 298.3 1227.5 297.3 1232 296.3 1236.5 295.3 1241 294.3 1245.5 293.3 1250 292.3 1254.5 291.4 1258.9 290.4 1263.4 289.4 1267.9 288.5 1272.4 287.5 1276.9 286.6 1281.4 285.6 1285.9 284.7 1290.3 283.8 1294.8 282.8 1299.3 281.9 1303.8 281 1308.3 280.1 1312.8 279.2 1317.3 278.3 1321.7 277.4 1326.2 276.5 1330.7 275.6 1335.2 274.7 1339.7 273.8 1344.2 272.9 1348.7 272 1353.1 271.2 1357.6 270.3 1362.1 269.4 1366.6 268.6 1371.1 267.7 1375.6 266.9 1380.1 266 1384.5 265.2 1389 264.3 1393.5 263.5 1398 262.6" fill="none" stroke="#1a1a1a" stroke-width="1.9"/>
<rect x="914.9" y="388" width="14" height="14" fill="#000" fill-opacity="0.28"/>
<rect x="920.4" y="390.9" width="14" height="14" fill="#000" fill-opacity="0.28"/>
<rect x="924.7" y="385.2" width="14" height="14" fill="#000" fill-opacity="0.28"/>
<rect x="935.6" y="375.1" width="14" height="14" fill="#000" fill-opacity="0.28"/>
<rect x="966.1" y="359.4" width="14" height="14" fill="#000" fill-opacity="0.28"/>
<rect x="969.4" y="356.5" width="14" height="14" fill="#000" fill-opacity="0.28"/>
<rect x="972.7" y="355.1" width="14" height="14" fill="#000" fill-opacity="0.28"/>
<rect x="975.9" y="353.6" width="14" height="14" fill="#000" fill-opacity="0.28"/>
<rect x="979.2" y="353.6" width="14" height="14" fill="#000" fill-opacity="0.28"/>
<rect x="982.5" y="352.2" width="14" height="14" fill="#000" fill-opacity="0.28"/>
<rect x="985.7" y="352.2" width="14" height="14" fill="#000" fill-opacity="0.28"/>
<rect x="989" y="350.8" width="14" height="14" fill="#000" fill-opacity="0.28"/>
<rect x="993.4" y="349.3" width="14" height="14" fill="#000" fill-opacity="0.28"/>
<path d="M896.4 400.9h14v14h-14zM909.5 389.4h14v14h-14zM914.9 388h14v14h-14zM920.4 390.9h14v14h-14zM924.7 385.2h14v14h-14zM930.2 379.4h14v14h-14zM935.6 375.1h14v14h-14zM944.3 379.4h14v14h-14zM955.2 363.7h14v14h-14zM966.1 359.4h14v14h-14zM969.4 356.5h14v14h-14zM972.7 355.1h14v14h-14zM975.9 353.6h14v14h-14zM979.2 353.6h14v14h-14zM982.5 352.2h14v14h-14zM985.7 352.2h14v14h-14zM989 350.8h14v14h-14zM993.4 349.3h14v14h-14zM998.8 345h14v14h-14zM1019.5 339.3h14v14h-14zM1047.8 333.6h14v14h-14zM1067.4 327.9h14v14h-14zM1135 317.8h14v14h-14zM1176.4 307.8h14v14h-14zM1265.2 303.2h14v14h-14zM1265.2 306.4h14v14h-14z" fill="none" stroke="#181818" stroke-width="2.2"/>
</g>
<path d="M962.2 465.2v-5.5M962.2 35.5v5.5M1071.2 465.2v-5.5M1071.2 35.5v5.5M1180.1 465.2v-5.5M1180.1 35.5v5.5M1289.1 465.2v-5.5M1289.1 35.5v5.5M853.3 393.6h5.5M1398 393.6h-5.5M853.3 322h5.5M1398 322h-5.5M853.3 250.3h5.5M1398 250.3h-5.5M853.3 178.7h5.5M1398 178.7h-5.5M853.3 107.1h5.5M1398 107.1h-5.5" fill="none" stroke="#444" stroke-width="2.0"/>
<path d="M853.3 35.5V465.2" stroke="#4a4a4a" stroke-width="2.2" stroke-linecap="square"/>
<path d="M853.3 35.5H1398" stroke="#333" stroke-width="2.0" stroke-linecap="square"/>
<path d="M1398 35.5V465.2" stroke="#383838" stroke-width="2.1" stroke-linecap="square"/>
<path d="M853.3 465.2H1398" stroke="#444" stroke-width="2.2" stroke-linecap="square"/>
<text transform="translate(853.3 501.1) scale(1.04 1.035)" text-anchor="middle">0</text>
<text transform="translate(962.2 501.1) scale(1.04 1.035)" text-anchor="middle">0.1</text>
<text transform="translate(1071.2 501.1) scale(1.04 1.035)" text-anchor="middle">0.2</text>
<text transform="translate(1180.1 501.1) scale(1.04 1.035)" text-anchor="middle">0.3</text>
<text transform="translate(1289.1 501.1) scale(1.04 1.035)" text-anchor="middle">0.4</text>
<text transform="translate(1398 501.1) scale(1.04 1.035)" text-anchor="middle">0.5</text>
<text transform="translate(845.5 476.3) scale(1.04 1.035)" text-anchor="end">0</text>
<text transform="translate(845.5 404.7) scale(1.04 1.035)" text-anchor="end">0.05</text>
<text transform="translate(845.5 333.1) scale(1.04 1.035)" text-anchor="end">0.1</text>
<text transform="translate(845.5 261.4) scale(1.04 1.035)" text-anchor="end">0.15</text>
<text transform="translate(845.5 189.8) scale(1.04 1.035)" text-anchor="end">0.2</text>
<text transform="translate(845.5 118.2) scale(1.04 1.035)" text-anchor="end">0.25</text>
<clipPath id="cC"><rect x="107" y="624.8" width="544.5" height="428.5"/></clipPath>
<g clip-path="url(#cC)">
<path d="M212.1 980.5h0M247.7 925.9h0M182.8 1006.5h0M292.1 950h0M207 997.9h0M183.9 1007.9h0M266.3 956.4h0M250 922.6h0M242.6 941.1h0M275.4 910.7h0M273.6 943.4h0M219.6 971.9h0M199.8 999.3h0M209.9 995.9h0M158.4 1015.7h0M181 998.6h0M194.6 997.8h0M216.3 962.4h0M187.9 1005.8h0M188.8 1003.8h0M212.5 976.7h0M194.8 1005.7h0M223.4 976h0M183.2 1013.8h0M255.5 937.3h0M188.8 1007.2h0M284.6 877.1h0M183.9 1014.7h0M262.5 905.9h0M179 1003.1h0M369.4 834.5h0M163.9 1026h0M252.6 883.9h0M185.4 1008.5h0M232 926.3h0M217.2 978h0M223.1 934.7h0M225 981h0M197.9 991.3h0M176.9 1007.2h0M224 927.7h0M273.9 879.6h0M215.5 973.6h0M173.3 1017.2h0M232.6 934.4h0M183 1011.9h0M276.5 894.7h0M169.5 1019.2h0M189.7 1006.9h0M256 931.5h0M223.7 1001.3h0M204.7 988h0M209.4 981.1h0M204.3 977h0M232.7 921.5h0M231.3 948.9h0M233.5 991.3h0M217.3 964.6h0M249.3 922.8h0M175.6 1014.5h0M212.9 979.9h0M247.5 953.8h0M167.4 1011.6h0M195.8 990.3h0M214.4 974.7h0M163.9 1021.6h0M168.4 1012.2h0M213.4 985.6h0M224.2 996.3h0M261.1 940.1h0M234 940.5h0M293.8 882.3h0M213.4 980.3h0M254.7 966.6h0M296.3 923.2h0M233.5 937.7h0M254.1 935.5h0M226.8 961h0M259.9 957.3h0M247.3 970.5h0M217.1 974.9h0M221.9 957.3h0M280.1 903.6h0M202.7 1002.6h0M177.9 1012.4h0M217.2 970.9h0M239.1 964h0M209.6 979.3h0M176.5 1011.3h0M241.7 943.3h0M208.8 978.3h0M295.5 875.6h0M266.8 931.7h0M274.4 934.9h0M226.2 944.2h0M240.3 937.9h0M174.4 1010.6h0M314.6 909.4h0M200.4 985.5h0M191.8 1001.5h0M285.1 945.2h0M209.9 984.4h0M158.7 1020.7h0M191.4 1004.6h0M212.9 980.1h0M273.7 904.8h0M186.5 1009.1h0M174.6 1014.4h0M246.3 925.1h0M229.1 978.4h0M245.1 942.9h0M174.4 1014.5h0M222.2 987.9h0M272.3 918.8h0M215.1 990.1h0M284.2 908.5h0M207.1 975.1h0M172.8 1017.1h0M218.9 970.9h0M248.8 910.7h0M200.9 984h0M243.4 965h0M197.9 1008.4h0M236.4 984.3h0M205.9 993.2h0M259.4 927.6h0M275.5 928.2h0M216.1 973.6h0M170.6 1013.9h0M196 994.8h0M195.5 1009h0M219 965.6h0M307.1 901.5h0M225.5 968.6h0M233.1 972.2h0M312.3 935.5h0M208 973.9h0M194.3 1005.3h0M304.2 963.4h0M182.6 1008.5h0M248.6 968.3h0M210.7 966.9h0M244.7 938.4h0M173.5 1012h0M184.8 999.5h0M195 998.4h0M252.9 954.3h0M266.3 952.5h0M211.4 979.9h0M268.6 918.9h0M204.4 997.3h0M211.6 989.5h0M201.8 975h0M226.9 947.7h0M169.1 1017.3h0M277.7 927.6h0M208.2 989.3h0M240.2 965.9h0M230.4 937.5h0M183.5 1004.5h0M264.1 965.9h0M201.8 999.1h0M349 912.6h0M187 991.1h0M214.1 970.4h0M185.7 995.3h0M259.4 938.8h0M199.2 1008.3h0M167 1013.9h0M211.1 987.4h0M232.3 908.4h0M244.9 996.8h0M215 973.9h0M171 1014.9h0M205.1 980.8h0M188.9 1003.3h0M230.2 948h0M245.2 977.4h0M187.6 1004.2h0M229.9 950.1h0M187.8 1004.8h0M193.2 999.8h0M156.6 1026.4h0M214.5 985.9h0M207.4 990.3h0M237.4 934.3h0M268.8 965.9h0M199.3 994.8h0M206.9 974.2h0M193.2 990.9h0M203.1 1014.8h0M214.5 987.5h0M159.2 1023.9h0M177.1 1009.5h0M208.5 983.2h0M166.7 1015.9h0M166.3 1017h0M218.5 982.6h0M233 945.8h0M188.1 990.8h0M205.8 998.1h0M211.6 966.1h0M321.5 852.1h0M266.5 942h0M177.2 1015.2h0M252.6 929.1h0M212.7 978.1h0M203.1 987.6h0M236.9 964.7h0M242.1 942.8h0M261.7 932.5h0M260.1 921h0M209.8 965.2h0M267.2 911.8h0M233.2 958.6h0M180.5 1000.1h0M187.5 1000.2h0M247.6 926.6h0M330.7 881.3h0M208.4 962.6h0M258.1 933.1h0M190 996.9h0M214.5 1005h0M217.2 986.6h0M188.2 1008.5h0M246.4 989.9h0M200.2 978.4h0M209.5 993.7h0M205.8 1004h0M193 1000.3h0M261 949.9h0M228.7 986.1h0M184.6 1010.2h0M242.7 955.6h0M222.1 937.9h0M267.5 958h0M206.3 1001.2h0M291.9 972.9h0M227.3 983.1h0M285.3 902.4h0M268 959.3h0M292 905.5h0M194.8 1002.3h0M238.9 927.6h0M214.1 972.2h0M205.2 1003h0M170.8 1016.3h0M366.4 844.6h0M195.7 1004h0M198.7 987h0M256.5 937.1h0M185.8 1001.4h0M191.2 1000.8h0M217.4 970.4h0M168 1018h0M297 919.1h0M226.4 942.7h0M182.5 1006.5h0M221.4 956.8h0M291.5 856h0M249.8 925.1h0M261.7 941h0M252.1 916.6h0M194 994.5h0M266.5 966.9h0M247.4 946.3h0M162.9 1016.6h0M254.3 962.5h0M201.6 992.8h0M277.9 873h0M226.1 964.8h0M201.8 993.8h0M220.9 973.5h0M170.7 1015.6h0M274.1 943.2h0M182.9 1005.5h0M204.9 976.7h0M291.7 949.7h0M188.6 1001.4h0M269.8 909.4h0M311.4 896.7h0M242.9 942.7h0M210.3 978.8h0M229.3 970.9h0M202.4 980.8h0M228.3 1000.3h0M218.6 961.1h0M180.5 1008.6h0M209.6 970h0M274.7 942.5h0M275.3 950.2h0M204.8 987.4h0M193.9 1000.2h0M210.7 988.3h0M197.9 982.8h0M284 889.6h0M252.2 939.6h0M178.4 1011.7h0M196.6 990.4h0M166.3 1022.3h0M163.1 1026.6h0M199.5 980.9h0M213.5 986.3h0M245.2 934.9h0M271.5 979.8h0M215.9 986.1h0M233.6 956.1h0M160.6 1018.5h0M182.4 1008.9h0M177.2 1011h0M224.9 993h0M251 920.7h0M210.7 990.8h0M231.7 939.2h0M217.8 974.6h0M247 939.6h0M202.9 973.8h0M209.7 986.4h0M354.6 875.8h0M225.9 955.6h0M217.3 989.4h0M161.9 1021.8h0M297.5 943.6h0M214.9 1001.8h0M240.6 949.4h0M245.5 965.8h0M188.8 1000.8h0M228.8 952.8h0M237.4 985.1h0M202.7 998.5h0M204 991.5h0M165.3 1006.8h0M157.3 1020.5h0M187.4 1007.1h0M231.4 979.5h0M276.4 977.8h0M289 918.2h0M233.2 918.4h0M231 953.5h0M205.1 989.1h0M204.7 988.8h0M235.2 979.8h0M189.2 1003.2h0M259.2 948.4h0M210 983.4h0M320.4 948h0M251.2 967.2h0M219.2 955.8h0M166.6 1013.4h0M231.9 985.6h0M225.6 983.2h0M185.2 1006h0M192.2 1004.2h0M238.1 952.9h0M192.2 992.6h0M256.4 942.1h0M236.7 939.8h0M167 1017.3h0M225 945.1h0M243.5 949h0M237.7 934.5h0M195.4 995.5h0M199.5 997.6h0M185 997.6h0M225.5 986.5h0M299 870.4h0M218.9 968.6h0M187.1 1005.1h0M209.4 980.3h0M204.1 987.8h0M238.1 953.2h0M323.8 813.3h0M182.7 1000.6h0M207.9 1016.2h0M279 858.4h0M233.9 941.7h0M200.1 978.6h0M222.2 967.8h0M190.1 1002.4h0M216.4 983.1h0M170.4 1015.3h0M188.9 1006.4h0M219.9 1007.6h0M248.9 944.9h0M211 981.8h0M312.9 984.8h0M265.3 942.4h0M232.7 944.7h0M243.9 909.7h0M245.6 883.2h0M187.4 1001.5h0M226.6 948.9h0M274.5 910h0M213.7 972.8h0M219.2 988.2h0M220.6 941h0M249.7 958.9h0M230.4 901.2h0M253.9 981.2h0M222 972.2h0M200.5 989.8h0M213.6 981.1h0M236.1 932.3h0M183.7 1005.9h0M230.1 962.8h0M190 1006.6h0M177.5 1012.4h0M200.7 981.8h0M238.1 949h0M194 988.6h0M181.5 1007.5h0M165.7 1018.7h0M231.2 953.2h0M237.1 927.2h0M298.1 944.7h0M267.6 897.8h0M218.7 968.4h0M270.8 968.6h0M180.9 1002.2h0M171.9 1019.8h0M187.5 1006.1h0M219.2 932.6h0M221.3 937.4h0M202.8 999.6h0M203.6 982.6h0M277.1 907.4h0M155 1021.7h0M190.7 998.4h0M209.8 975.3h0M180.1 1016.6h0M260.4 967.3h0M243.3 953.7h0M223.9 945.2h0M228.7 958h0M216.5 980.9h0M201.6 1007.3h0M238.5 946.1h0M258.8 945.8h0M220.8 945.6h0M259 950.5h0M270.6 885.8h0M181.5 1012.2h0M245.3 962.9h0M204.2 994h0M214.7 963.3h0M272 983.3h0M354 882.6h0M273.5 940.7h0M204.6 975h0M178.3 1007.5h0M227.8 980.9h0M156 1022.4h0M215.4 978.7h0M184.6 1003.5h0M205 976.6h0M192.4 997.7h0M216.7 959.5h0M205.3 971.9h0M257.2 940.1h0M169.8 1025.6h0M304.4 895.5h0M173.7 1010.7h0M213.6 978.8h0M272.4 955.3h0M217.8 954.5h0M200.5 996.1h0M227.3 951.1h0M251.8 920.2h0M212.5 947.7h0M223.1 931.6h0M160.6 1018.6h0M213.6 970.4h0M211.4 970.9h0M274 930.1h0M222.1 997.6h0M192.1 1003.4h0M215.7 958.3h0M242.1 945.9h0M215.3 1009.5h0M178.1 1013h0M228 966h0M254 959.3h0M248.5 969.7h0M223.9 944.2h0M246.9 946.9h0M183.1 1005.2h0M182.7 1012h0M177.6 1015.7h0M243 945.4h0M177.5 1016.1h0M192.7 993.4h0M171 1011.5h0M214 980.3h0M214.8 964.1h0M200.6 1008.4h0M230 979.4h0M176.5 1007.1h0M366.4 819.3h0M201 995.2h0M180.6 1006.1h0M233.4 974.5h0M194.1 994.1h0M214.3 971.1h0M176.7 1006.6h0M206.3 981.2h0M182.3 1015.8h0M272.3 933.3h0M228.1 957.3h0M175.4 1012.7h0M225 961.3h0M241.3 959.8h0M212.6 990.4h0M174.2 1014.1h0M240.7 950.1h0M197.1 990.3h0M188.7 1008.7h0M196.8 989.3h0M217.4 957.4h0M170.3 1018.7h0M293.6 887.5h0M221.7 978.5h0M162.7 1021.8h0M190.8 1003.5h0M247.5 914.5h0M214.4 991.3h0M208 961.6h0M330.7 862.1h0M189.5 994.6h0M222 968.4h0M183.7 1014.5h0M236.7 948.2h0M204.3 989.9h0M169.6 1016h0M180.5 1000.4h0M251.5 932.2h0M166.7 1021h0M286.8 937.3h0M165.5 1017h0M213.9 964.9h0M282.8 874.5h0M158.7 1024.4h0M251.2 975.9h0M186.3 1004.8h0M162.2 1027.1h0M192.2 999.5h0M231.1 964.3h0M308.8 874.5h0M207 979.7h0M171.7 1010.9h0M211.6 991.8h0M204 1010.1h0M200.6 1008.6h0M182.8 1004.7h0M185.8 1004.3h0M227.4 931.9h0M234.5 971.5h0M211.1 967.5h0M192.2 999.6h0M221.2 956.6h0M191.6 1002h0M253.1 961.6h0M253.8 917.8h0M247.4 959.1h0M176.5 1011.6h0M303.9 942h0M229.6 963.8h0M175.5 1011.6h0M260.6 878.5h0M226.1 995.5h0M149.9 1026.7h0M149.9 1022.7h0M165.2 1016.8h0M272 925.9h0M193.4 993.5h0M191.4 1001.9h0M156.8 1020.2h0M253.7 941.2h0M166 1015h0M186.1 1006.2h0M236.9 960h0M152.6 1022.8h0M213.6 978.2h0M227.2 968.4h0M286.1 969.4h0M197.2 991.8h0M153.6 1023h0M235.6 947.9h0M212.6 971.7h0M298.3 904.4h0M257 927.4h0M210.3 984.5h0M163.8 1021.3h0M197.3 995.8h0M266 910.9h0M189.4 1002.5h0M182.4 1012.5h0M215.2 976.3h0M243.6 961.1h0M231.4 972.5h0M231.1 934.4h0M187.3 1009.7h0M291 886.8h0M219.6 942.4h0M211.3 983.7h0M182.1 1001.2h0M232.5 1006h0M195.6 1000.9h0M432.2 878.7h0M184 995.3h0M186 1001.8h0M318.7 960.1h0M250.6 924.3h0M212.1 959.3h0M179.2 1013.6h0M237.5 956.7h0M278.4 869.5h0M272.4 947.4h0M180.8 1007.6h0M180.8 1004.7h0M194.6 996.1h0M232.8 952.9h0M230.5 969.5h0M380.7 849.9h0M193.3 996.9h0M219.3 964.7h0M189.7 1005.9h0M216.2 968.7h0M177.8 1011.5h0M207.6 1006.9h0M186.4 1005.2h0M262.8 954.3h0M292.4 890.6h0M213 999.7h0M205.9 977.4h0M201.1 978.3h0M157.3 1018.7h0M196.2 998.9h0M182.9 1004.2h0M198.1 996.3h0M274.5 906h0M185.4 998h0M270.9 902.1h0M238.5 929.6h0M155.9 1021.5h0M207.3 980.4h0M245.6 952.9h0M172.3 1012.7h0M202.7 990.3h0M176.9 1004.2h0M171.9 1014h0M202.5 980.8h0M209.4 990.1h0M181.8 1007h0M194 1008.2h0M212.3 986.4h0M224.2 974.6h0M347.4 858.9h0M286.6 959h0M211.9 975.9h0M193.5 1001.7h0M214.1 960.6h0M160.3 1021.8h0M212.9 1002.8h0M211.5 1003.6h0M241.3 983.8h0M213.3 985.6h0M201.7 978.6h0M207.3 968.1h0M193.9 1009.6h0M212.7 977.3h0M304.2 912.3h0M213.8 980.3h0M173.6 1012.3h0M209.8 974.6h0M235.8 945.8h0M182.7 1003.9h0M224.4 949.1h0M200 1004.6h0M337.2 872.6h0M223.9 966.8h0M174 1010.6h0M246.2 957.9h0M228.6 958.7h0M200.5 988h0M212.3 982.4h0M229.4 931.3h0M168 1020.5h0M263.1 962.2h0M219.1 992.9h0M237.5 970.7h0M342.1 857.8h0M249.4 933h0M229.7 945.7h0M201.9 1009.2h0M241.6 975.9h0M227.3 920h0M190.8 999.1h0M191.7 1005.6h0M169.3 1017.1h0M205.5 980.5h0M215.3 947.5h0M198.1 987.5h0M312.9 923.6h0M238.2 967.7h0M297.1 896.9h0M200.2 992h0M223.8 941.4h0M226.6 977.4h0M168.3 1017.9h0M205.4 981.4h0M207.1 978h0M204 976.2h0M190.9 1000.9h0M191 991.7h0M171.7 1008h0M228.1 966.4h0M186.3 1006.8h0M218.1 964.3h0M215.3 962.3h0M223.3 969.8h0M235.7 936.7h0M165.1 1020.9h0M214.4 965.1h0M211.9 988.5h0M202.5 988.1h0M198.6 1010.2h0M163.8 1019.7h0M186.8 999.5h0M222.1 963.9h0M189.3 1003.8h0M270.3 954.5h0M288.6 897h0M220.1 960.6h0M284.9 903.1h0M193.4 1001.5h0M225.1 986h0M200.6 980.5h0M278.1 912h0M189.1 1009.2h0M157.3 1028.5h0M354.7 939.9h0M197.2 985.6h0M194.3 999.9h0M257.8 940h0M197 1007.2h0M223.7 935.1h0M259.1 954.6h0M206.5 961h0M174.1 1008.1h0M286.5 911.9h0M220.8 967.3h0M256.8 915.1h0M296.9 865.8h0M165.8 1023.7h0M192.8 980.7h0M168.6 1019.6h0M279.7 925.3h0M183 996.7h0M282 925.9h0M233.9 949.7h0M224.1 926.2h0M160.1 1021.6h0M259.9 919h0M167.2 1018.4h0M174.5 1012.6h0M179.8 1013.4h0M220.3 985.6h0M242.4 935.5h0M178.3 1006.2h0M290.7 886.7h0M190.7 1012.2h0M200.2 983.9h0M213.3 980.8h0M277.7 925.7h0M252 939h0M209.1 982.9h0M210.2 992h0M218.2 998.4h0M284 945.4h0M217.6 975.1h0M180.2 1000.9h0M198.5 1002.6h0M250.2 919.9h0M210.4 964.7h0M256.9 960.7h0M189.7 1008.8h0M218.8 978.4h0M203.7 965.8h0M206 997.5h0M183.9 1011.8h0M224.4 966h0M207.6 984.4h0M206.9 968h0M296.5 862.3h0M203.9 975.5h0M200.9 1005h0M233.8 958.5h0M227.9 985.3h0M191.8 1008.6h0M274.1 924h0M199.1 1000.1h0M187.9 1003.4h0M317.8 920.3h0M261.3 935.1h0M234 962.9h0M231.7 933.3h0M221.6 988.3h0M240.4 966.7h0M225.4 950.4h0M159.2 1024.4h0M212.7 965.9h0M518.3 739.9h0M219.4 998.4h0M215.8 987.6h0M274.9 943.4h0M193 1015.4h0M204.7 987h0M261.7 943.1h0M246.9 945.7h0M232.7 966.9h0M211.2 960.8h0M230.1 962.7h0M255.7 962.8h0M186 1001.9h0M257.2 918.1h0M228.5 999.1h0M235.7 927.9h0M227.5 975.2h0M180.9 1012.6h0M250.7 922h0M329.7 856.2h0M191.4 999.3h0M277.3 874.4h0M200.9 980.4h0M170.6 1011.2h0M317.4 972.4h0M166.9 1022h0M234.3 935.1h0M170.9 1017h0M191.1 1005.6h0M191.6 998.9h0M233.8 924.4h0M223.3 965.5h0M179.2 1009.7h0M210.7 964.6h0M172.3 1016.5h0M250.9 961.5h0M173 1015.9h0M244.9 965.4h0M219 996.2h0M219.5 959.1h0M229.3 982.7h0M169.5 1019.1h0M191.6 1003.1h0M201.5 993.2h0M206.6 983.6h0M231.1 990.8h0M188.8 999.6h0M230.7 964h0M160.8 1016.3h0M201.8 990.4h0M204.8 976.1h0M228.4 931.1h0M168.6 1013.6h0M211.3 983.5h0M184.2 1011.8h0M168.8 1015.3h0M330.9 935.8h0M171.2 1013h0M246.7 957.5h0M178.4 1020.6h0M285.8 913.7h0M266.7 957.3h0M202.6 987.1h0M228 973.8h0M160 1023.9h0M202.9 978.6h0M212.2 1000.4h0M181.1 1010.2h0M235.6 983.7h0M225.6 964.6h0M259.6 928.1h0M344.4 873.2h0M183.2 1010h0M254.7 913.8h0M286.7 883.8h0M166.5 1012.6h0M200.8 999.8h0M201.6 1002.3h0M210.8 990.5h0M221.5 988.4h0M251.8 920.5h0M204.2 982.1h0M272.5 916.4h0M226.7 947.2h0M197.8 988.8h0M269.7 937.3h0M214.2 973.9h0M226.6 973.1h0M241 922.7h0M208.3 982.8h0M228.9 974.3h0M227.7 947h0M225.5 955.3h0M243.3 938.8h0M232.4 971.9h0M184.7 1003h0M190.4 999.6h0M188.2 1005.2h0M220.7 968.8h0M177.6 1010h0M240.4 907.6h0M263.1 949.1h0M191.7 1002.7h0M179.3 1007.1h0M230.2 949.7h0M185.7 996.8h0M168.6 1015.7h0M219.9 947.1h0M245.1 943.5h0M205.8 1004.8h0M247.8 894.1h0M184.1 1010h0M235 945.6h0M267.9 902.3h0M179.6 1009.2h0M264.8 910.8h0M194 1001.6h0M230.9 966h0M240.2 920.5h0M207.5 992.8h0M239.3 935.2h0M232.5 965.1h0M197.7 994.1h0M215.1 986.2h0M171 1016.7h0M255.6 945.5h0M141.1 1031h0M217.5 982h0M221.3 972h0M180.2 1007.4h0M197.3 997h0M220.7 988.9h0M283 965.9h0M235.4 979.6h0M202.9 982.2h0M188.6 1001.2h0M265.8 900.2h0M195.6 1007.4h0M195 994.6h0M261.4 948h0M226.3 934.6h0M205.2 982.9h0M299.3 898h0M202.9 998.6h0M165.5 1014.1h0M280.4 962h0M352 880.9h0M194.3 1004.6h0M243.7 952.3h0M269 933.7h0M281.8 945.3h0M243.8 959.9h0M197.3 984.2h0M176.6 1012.4h0M252.8 941h0M248.1 939.6h0M185.6 994.9h0M196.4 996.8h0M252.9 951.4h0M314.3 908.1h0M197.2 1002.2h0M185.1 1001.7h0M220.7 985.1h0M184.9 1006.5h0M225.5 943h0M163.5 1019.1h0M207.4 1009.8h0M275.5 900.5h0M213.3 970.5h0M216.2 974.3h0M235 946h0M226.8 974.4h0M199 992.8h0M240.5 930.3h0M172 1015h0M215.7 972h0M218.4 969.1h0M190.9 1001.7h0M259.7 959h0M215.4 971.7h0M214.5 962.1h0M261.2 963.4h0M186.3 1000.4h0M176.5 1018.4h0M171.4 1012.1h0M227.8 979.5h0M203.3 991.4h0M222 960.6h0M203 1000.1h0M380.9 810.6h0M341 852h0M406.2 779.4h0M327.2 876.4h0M344.7 887.1h0M311.7 926.7h0M349 878.8h0M248.8 930.8h0M387.2 853h0M311.8 966.8h0M433.9 878.4h0M362.9 888.8h0M467.2 831h0M404.8 874h0M324.6 911.7h0M327.2 910.7h0M390.7 907.2h0M251.1 954.4h0M547.1 664.4h0M486.9 803h0M338.5 815.8h0M283.9 892.7h0M399.3 841.1h0M327 884.4h0M277.1 961h0M391 904.2h0M262.2 925.9h0M496.7 768.8h0M406.8 809.3h0M477.7 644.8h0M355.6 879.2h0M367.8 870.5h0M452.1 703.2h0M420.7 805.7h0M390 784.6h0M377 904h0M364 849.5h0M306.7 964.5h0M509.8 664.1h0M279.1 924.5h0M447.7 766.8h0M500.6 813.4h0M353.1 840.6h0M268.4 985.3h0M327.7 961.8h0M526.2 741.8h0M267.9 918.6h0M360 918.3h0M445.7 839.2h0M342.3 892.4h0M457.7 808.1h0M383 821.8h0M339.8 901.7h0M461.6 793.5h0M298 934h0M407.5 856.7h0M389 915.6h0M306 929.3h0M370.8 873.1h0M558.4 679h0M352.3 842.7h0M377.7 841.2h0M357.3 907.9h0M260 967.2h0M416 811.5h0M329.7 813h0M474.1 808.3h0M544.6 755.8h0M267.3 965h0M307.1 847.1h0M317.3 882.4h0M457.7 735.2h0M268.1 866.2h0M589.7 712.2h0M263.4 924.8h0M436.9 767h0M302.1 914h0M515.1 704.7h0M273.8 919.3h0M334.3 946.4h0M287.2 911.2h0M278.9 916.8h0M422.4 838.7h0M406 837.4h0M330.3 945.8h0M314 934.8h0M298 871h0M245.3 938.4h0M498.1 762h0M381.5 815.4h0M348.4 913.3h0M307.1 959.7h0M288.5 969.4h0M282 926.1h0M315.8 963.1h0M434.1 767.7h0M353.5 865.9h0M295 943h0M460.5 826.6h0M521.4 807.9h0M524.7 706h0M418.4 868.6h0M253.8 924.2h0M339.3 899.8h0M575 723.4h0M272.4 932.7h0M519.6 734.9h0M278 907.4h0M341.3 866.2h0M499.2 720.2h0M421 841.1h0M263.8 980.9h0M244.4 915.7h0M312.9 919.8h0M261.4 924.6h0M347.8 866.9h0M481.3 854.3h0M271.8 941.9h0M323 854.8h0M347.4 840.3h0M283 946.8h0M519 644.5h0M409.9 855h0M516.2 743.2h0M283.3 910.7h0M339.5 907.5h0M243.1 924h0M544.8 725.6h0M310.1 980.1h0M306.3 941.5h0M297.9 913.7h0M466.6 661.8h0M363.3 916.3h0M249.9 950.6h0M288.3 920.3h0M243.3 965.3h0M315.6 888.8h0M295.3 902.1h0M257.8 964.8h0M285.9 890.6h0M327.2 910.5h0M318.3 894h0M302.1 901.7h0M327.1 915.5h0M240.2 953.8h0M270 905.3h0M384 859.4h0M272.2 892.6h0M332.2 855.9h0M373.1 862h0M323.2 843.5h0M294.3 977.2h0M381.4 899h0M366.3 883.7h0M320.9 940.1h0M478.1 758.3h0M402 830.2h0M354.7 846.4h0M262.9 954.7h0M335.2 916.4h0M465.1 766.5h0M476.1 822.6h0M450.6 804.2h0M250.3 934.8h0M286.2 965.7h0M299 825.7h0M297.6 887.8h0M320.2 872.8h0M410.6 824.2h0M285.3 938.5h0M351.1 832.3h0M412.4 933.9h0M265.2 925.9h0M265.8 926.5h0M265.2 899h0M299.6 927.3h0M260.6 929.5h0M446.7 803h0M418.7 800.7h0M243.6 932.5h0M490 853.8h0M358.8 811.1h0M267.4 957.5h0M254.8 948.2h0M245.9 971.9h0M412.5 825.4h0M404.1 879.7h0M271.2 935.6h0M409.1 844.3h0M520.9 688h0M250.7 955h0M362.3 835.1h0M262.4 933.9h0M263.3 930.2h0M338.6 927.8h0M456.4 825.1h0M374 830.9h0M277.8 897.8h0M296.8 913.7h0M247.3 940.9h0M432.2 908h0M238.3 949.5h0M276.7 918.6h0M349.1 849.1h0M334.6 822.5h0M307.9 953.6h0M461.8 727.7h0M321.1 913.8h0M409.5 815.2h0M392.7 802.4h0M257.7 938.8h0M323.8 890.6h0M333.8 835.2h0M401.3 824.3h0M291.2 934.7h0M270.7 948h0M282.9 970.2h0M250.5 956.9h0M261.7 941.4h0M373.7 865.8h0M290.6 924.4h0M360.4 899.2h0M338.6 908.8h0M458.7 806.9h0M348.2 845.5h0M271.5 948.2h0M417.6 814.7h0M427.2 819.8h0M340.8 857.3h0M306.6 941.4h0M364.2 897.5h0M299.9 914.3h0M255.5 940.9h0M271 936h0M315.9 846.4h0M263.3 911.9h0M429.7 919.2h0M304.1 920.2h0M603.8 791.9h0M282 939.2h0M296 924.9h0M274.7 918.9h0M241.4 952h0M620.4 672.9h0M278.7 923.1h0M256.8 930.5h0M349.3 831.3h0M309.8 892.7h0M220.5 959.7h0M232.5 959.1h0M251.6 936.8h0M242.3 946.3h0M249.3 920.6h0M232.7 971.4h0M235.5 936.1h0M244.3 945.3h0M226.5 943.4h0M235.3 970.4h0M232.8 952.8h0M230.5 950.7h0M208.3 981h0M236.3 946h0M208.5 939.4h0M233.3 963.1h0M211 959h0M233 938.2h0M225.2 980h0M221.1 981.4h0M213.5 976h0M232.7 973.3h0M221.4 931.1h0M211.6 939h0M230.7 950.6h0M209.5 967.3h0M243.7 953.7h0M230.4 976.9h0M205.2 963.4h0M216.1 950.4h0M223.7 966.5h0M226.4 954.6h0M243.4 963h0M218 985h0M214.4 911h0M221.9 950.1h0M237 965.6h0M243.5 944.3h0M262.4 914.6h0M208.8 947.4h0M208.8 956.4h0M230.6 919.5h0M244.8 952.7h0M236.7 958.2h0M215.3 954.9h0M222.7 948h0M215.8 984.5h0M226.6 930.6h0M218.5 943h0M239.6 922.5h0M220.2 964.1h0M215.9 954.7h0M217.3 936.9h0M204.9 968.8h0M236.5 933.4h0M230.1 955.1h0M216.3 949.3h0M262.3 915.5h0M210.9 943h0M224.3 943.2h0M239.7 929.1h0M234.1 949.8h0M248.3 904.5h0M236.1 938.6h0M248.6 909.9h0M219.5 948.1h0M241.1 949.7h0M222.1 929.5h0M218 976.7h0M228 963.8h0M216.3 946.4h0M225 930.3h0M202.1 945.6h0M246.1 926.1h0M214.9 979.2h0M234 928.2h0M239.6 938.5h0M241.6 931.4h0M239.5 929.7h0M239.6 950.2h0M259.5 940.1h0M244 932.7h0M193.9 966.2h0M242.8 953.9h0M215.9 922.2h0M221.4 934.2h0M232.7 936.8h0M219.9 969h0M221.3 965.8h0M226.7 933.7h0M222 941.5h0M203.9 952.5h0M229.7 933.7h0M212 963.1h0M208.1 961.7h0M242.9 944.5h0M234.9 991.4h0M245.7 921.3h0M221.7 940.9h0M254.6 937.3h0M239.4 972h0M233.3 922.2h0M234.8 956.4h0M223.6 930.5h0M231.6 961h0M234.3 963.8h0M226.6 931h0M196.7 986.2h0M211.3 971.6h0M244.3 945.6h0M213 995.9h0M195.3 955.7h0M218.9 958.7h0M231 945.5h0M228.4 943.3h0M206.2 1002.5h0M249.3 967.1h0M241.8 936.7h0M229.7 923.9h0M233.1 919h0M200.5 982h0M215 977.8h0M239 940.3h0M228.3 953.5h0M207.1 976.6h0M238.6 951.1h0M217.9 962.6h0M231.8 946.5h0M232.1 912.8h0M228.4 948.7h0M209.5 945.6h0M242.1 927.7h0M236.3 949.3h0M224 986h0M213.1 966.8h0M225.1 941.2h0M220.8 961.7h0M205.4 939.7h0M216 937.1h0M241.6 913.2h0M216.4 931.3h0M239 932.3h0M225.6 975.4h0M214.4 962.6h0M252.4 948.9h0M222.6 942.7h0M229.8 956.1h0M223.5 935.7h0M247.9 945.2h0M236.1 925.9h0M221.9 929.4h0M219.6 965.9h0M215.5 973.1h0M237.6 929.9h0M219.1 982.4h0M251.1 920.9h0M214 962.8h0M255.4 931h0M216.2 942.3h0M241.9 952.5h0M224.3 931.1h0M213.8 956.8h0M218.5 958.9h0M231.5 960.1h0M235.9 933.4h0M220.1 953.8h0M249.9 972.9h0M212.5 972.9h0M225.6 913.8h0M219.9 962.3h0M232.1 970.1h0M227.7 958.9h0M223 947h0" fill="none" stroke="#404040" stroke-width="2.4" stroke-linecap="round" opacity="0.56"/>
<path d="M177.6 1016.6h0M176.5 1007.2h0M205.8 990.7h0M209.4 990.5h0M149.5 1028.8h0M252 920.3h0M150.4 1026.8h0M230 943.7h0M181.1 1010.3h0M283.3 932.8h0M269.7 933.1h0M226 950.1h0M230.1 951.9h0M163.1 1024.4h0M263.5 920.4h0M246.3 909.1h0M168.4 1017.2h0M194.4 1003.3h0M256.2 939.3h0M191.5 996.8h0M161.6 1020.5h0M261.6 931.1h0M228.1 937.6h0M168.3 1016.9h0M216.4 1000.7h0M179.7 1008.9h0M309 851.7h0M148.7 1026h0M239.8 897.2h0M267.1 944.3h0M276.8 926.7h0M172.3 1015.1h0M215.3 989.6h0M238.1 917.8h0M232.8 945.7h0M164.5 1021.9h0M212.3 972.5h0M191.8 1001.8h0M269.8 963.3h0M216.5 952.7h0M236.9 969.2h0M272.5 968.2h0M181.6 1001.1h0M178.7 1012h0M226.3 934.5h0M221.6 989.8h0M221.5 976h0M201 991.3h0M187.1 1004.9h0M212.3 992.7h0M191.1 996.4h0M253.9 923.6h0M176 1011.3h0M206.6 998.9h0M219.7 959.1h0M169.6 1012.3h0M278.5 989.2h0M211.5 977.5h0M196.3 987.9h0M231.2 951.2h0M326.2 926.8h0M160.3 1020.1h0M178.8 1013.8h0M300.1 863.9h0M191.2 990.9h0M221.9 981.7h0M157.3 1021.4h0M179.6 1012.3h0M164.4 1022.7h0M159.2 1023.3h0M233.8 950.6h0M226.3 920.4h0M206.2 992h0M223.8 967.8h0M280.5 957.6h0M325.7 915.8h0M202.2 979h0M220.3 975.3h0M168.3 1021h0M186.3 1007.1h0M213.9 995.8h0M266.8 925.6h0M201.8 985.8h0M189.3 994.3h0M180.6 1017.5h0M211.7 973.4h0M143.2 1030.2h0M239.7 955.2h0M195.3 990.3h0M208.7 981.3h0M183.1 1007.4h0M165.1 1016.9h0M178.9 1002.7h0M272.5 943h0M268.2 949.4h0M207.5 993.4h0M285.7 879.5h0M168.9 1015.5h0M184.4 1011.9h0M196.7 991.4h0M240.1 954.9h0M205.5 989.2h0M188.1 991.1h0M260.5 951.5h0M251.7 956.6h0M201.4 1012.4h0M203.8 978.9h0M272.9 898.7h0M219.3 960.4h0M174.2 1016.5h0M206.8 989.1h0M191.7 1010.7h0M218.6 985h0M192.1 1002.3h0M212.5 987.3h0M229.5 965.9h0M191.9 1008.4h0M196.2 992.7h0M187 1000.9h0M293.2 889.9h0M197.9 1000.5h0M153.6 1026.3h0M219.8 993.3h0M236.5 973.3h0M229.9 957.1h0M203.5 980.3h0M243.3 964h0M204.9 984.2h0M248.3 963h0M214.8 985.8h0M281.1 958.1h0M183.4 999.3h0M161.4 1016.3h0M249.2 1009.7h0M246.3 916.8h0M244.6 979.4h0M212.8 1002.2h0M187.3 1003.9h0M227.6 954.7h0M219.6 993.6h0M192.1 1000.6h0M199.9 1015.3h0M183.6 1007.6h0M171.4 1018.2h0M252.7 940.3h0M192.4 995.2h0M192.9 1009.3h0M275.1 984.5h0M155.6 1023.1h0M199.2 997.1h0M194.8 1008.1h0M221.8 965h0M188.7 1007.6h0M180 1005.6h0M184.5 997.9h0M205 1021.2h0M185.5 1017.2h0M237.3 973.5h0M276.4 877.2h0M181.7 1006.8h0M275.7 937.5h0M184.9 997.4h0M214.4 964.2h0M167.7 1011.7h0M338.7 846h0M176.4 1011.3h0M392.6 814.1h0M207.8 988.5h0M194.4 1017.2h0M203.1 998.7h0M174.8 1018.1h0M251.3 929.2h0M266.1 924h0M231.1 962.7h0M209.7 976.4h0M179.9 1007h0M250.3 942.8h0M209.6 994.7h0M245.8 975.8h0M222.4 947.2h0M203.4 983h0M240 967.2h0M185 1002.6h0M197.3 1002.3h0M213.5 994.2h0M168 1013.9h0M220.4 969.9h0M243.3 944.3h0M220.1 960.8h0M210 985.4h0M210.9 971.1h0M265.4 907.2h0M288.3 901h0M198.4 990.3h0M196.3 1001.4h0M267.2 949h0M232.5 960.8h0M227.8 951.3h0M204.3 990h0M220.6 970.4h0M215.2 984.6h0M294.8 956.2h0M300.5 974h0M215 951h0M209.5 966.1h0M224.9 931.7h0M230.2 971.6h0M166 1018.4h0M213.8 976.5h0M191.5 1005.1h0M188.7 1005.2h0M201.8 991.5h0M213.9 980.1h0M225.6 971.1h0M206.5 996.7h0M310.7 905h0M248.6 978.1h0M248.8 941.6h0M275.7 952.8h0M157.8 1023.4h0M264.1 913h0M217.9 978.5h0M248.4 932.5h0M170.8 1013.9h0M169.5 1008.6h0M193.2 995.8h0M199.1 992.2h0M194.3 1001.5h0M239.9 931h0M195.7 994.7h0M175.5 1015.6h0M163.7 1018.8h0M196.2 1003.5h0M171.2 1015.2h0M325.9 928.8h0M182.9 999h0M205.1 981.5h0M228.1 943.5h0M261.1 906.5h0M203.6 989.2h0M217.2 947.3h0M228 938h0M235.1 946.4h0M226.3 943.6h0M232 945.3h0M302.6 909.6h0M218.5 944.9h0M259.6 933.9h0M204.6 1001.8h0M251.3 945.9h0M229.6 960.5h0M205 986h0M190.2 1006.5h0M221.5 1002.7h0M205.7 990h0M245.3 936h0M190.4 1004.2h0M186.2 1003.8h0M263.2 934.6h0M269 930.9h0M234.2 978.3h0M226.2 956.5h0M264.5 928.3h0M215.5 983.8h0M208.3 987.7h0M209.7 990.1h0M214.3 992h0M209.4 974.8h0M186.8 1007.5h0M236 983.2h0M191.3 995.5h0M337.4 914.8h0M179.6 1013h0M289.1 958.6h0M254.3 995.1h0M189.3 1012.3h0M198.4 999h0M175 1008.5h0M202.6 992.8h0M194.3 989.6h0M311.9 893.9h0M318.5 840.8h0M197.8 996.4h0M215.8 985.6h0M272.5 922.5h0M266 958.9h0M171 1018.6h0M222 959.9h0M185.3 1008.9h0M253.8 926.1h0M207.8 980.8h0M208.5 983.6h0M225.8 931h0M229.6 933.4h0M182.2 1013h0M240.2 915.9h0M185.1 998.8h0M309.2 904.8h0M221.4 952.9h0M250.5 928.5h0M221 971.8h0M177.5 1002h0M247.5 984h0M179.3 1002.7h0M296.3 905.5h0M212.8 979.4h0M222.9 937.7h0M279.6 933.1h0M163.2 1020.3h0M191.2 1000h0M217.7 997.3h0M181.7 1012.4h0M218 973h0M366.9 848.3h0M197.6 1004.3h0M259 961h0M197.3 1001.6h0M185.5 1005.5h0M154.2 1021.3h0M184.8 996.2h0M226.2 959.3h0M203.6 965.1h0M245.8 930.5h0M205 984.5h0M282.6 911.5h0M200.2 1000.9h0M191.1 1011.8h0M149.9 1024.5h0M232.4 962.8h0M230.5 959.8h0M180.6 998h0M194.7 998h0M198.9 1001.3h0M242.8 928.1h0M219.8 933h0M175.9 1015.1h0M161.4 1019.3h0M183.8 1014.3h0M194.1 992.2h0M213.4 951.2h0M185.5 1006.4h0M257.6 972.5h0M172.4 1009.7h0M174.8 1011.9h0M183.8 1000.5h0M208.2 991.6h0M254.6 922.5h0M206.3 971.3h0M220.7 966.9h0M155.1 1027.1h0M188 1008h0M218.1 977.9h0M214.2 979.8h0M224.5 944.8h0M246 934.2h0M198.9 990.3h0M171.9 1015.4h0M211.5 966.2h0M215.7 961.9h0M185.1 1003.2h0M238.1 973.5h0M259.2 901.2h0M207 992.3h0M159.8 1021.2h0M272.9 948.6h0M211.4 971.8h0M203.5 1006.8h0M220.9 964.2h0M364.9 889.2h0M273.8 941.6h0M195.2 988.1h0M234 970.2h0M195 989.8h0M159.4 1024h0M244.3 950.7h0M196 985.4h0M223.5 975.7h0M168.9 1018.7h0M232.6 933.3h0M247.9 951.5h0M252.5 941.1h0M270.1 943.7h0M258.8 905.2h0M247.8 940.2h0M267.1 892.6h0M203.8 987.4h0M219.2 979h0M220.7 1009.5h0M202.9 996h0M248 935.9h0M223.1 957.4h0M205.7 991.1h0M215.8 966h0M238.1 962.4h0M153.2 1021.6h0M197.9 993h0M193.8 1006.5h0M187.9 1015.2h0M199.9 986.2h0M358.5 834.4h0M188.2 994.2h0M221.7 960h0M171.8 1014.8h0M173.3 1008.2h0M210.4 995.2h0M225.7 957.1h0M170.7 1005.8h0M157.9 1019.7h0M268.8 976.1h0M188.1 1002h0M184.2 1007.1h0M211.6 975.8h0M180.4 1010.7h0M231.7 957.7h0M174.6 1004.5h0M220.4 970h0M246.5 918.4h0M233 960.2h0M181.5 1012.4h0M174.6 1012h0M310.3 891.6h0M194.5 988.9h0M256.5 934.9h0M265.6 918.3h0M248 931.6h0M175.4 1018.1h0M222.9 976.7h0M228.8 957.8h0M170.2 1015.8h0M220.8 952h0M216.9 957.9h0M227.4 975.8h0M187.9 1000.2h0M322.7 893.8h0M243.8 956.3h0M251.3 950.2h0M238.8 975.3h0M238.2 941.7h0M171.9 1011.9h0M225 969.1h0M192.7 993.1h0M278 890h0M213.2 990.5h0M206.1 967h0M199.8 988h0M195.7 1006.4h0M182.2 1017.4h0M183.4 1011h0M186 1008.2h0M246.4 947.1h0M213.4 988.8h0M192.9 988.5h0M270.3 920.9h0M189.4 994.6h0M215.3 982h0M241.4 975.6h0M286.5 946.5h0M156.1 1022.9h0M225.7 938.1h0M251.7 937.6h0M195.9 1001.4h0M167.5 1015.8h0M185.2 1009.3h0M192.2 1004.5h0M223 943.5h0M234.4 981.9h0M328.7 804.9h0M182.7 1014.2h0M198.9 993.4h0M264.4 919.2h0M202.7 1003.2h0M248.8 909.8h0M256.2 941h0M184.6 1007.3h0M230.2 951.1h0M239.7 941.5h0M184.5 1014.6h0M266 900.8h0M223.3 966.1h0M207.4 990.5h0M176.5 1004.8h0M262.8 996h0M206.1 999.7h0M193.6 992.7h0M340.3 927.1h0M159.6 1014.6h0M237.6 926h0M211.6 979.7h0M235 975.3h0M176.5 1018.5h0M269.2 922.8h0M278.7 863.5h0M243.1 948.3h0M202.9 996.1h0M188.5 1014.7h0M250.3 916.5h0M266.8 910.2h0M215.5 981.2h0M231.7 972.6h0M214 986.7h0M194.1 1008h0M218.6 976.5h0M218.7 994.6h0M326.6 864.2h0M175.1 1010.7h0M215.2 993.4h0M182.7 1013.2h0M201.5 1001.3h0M205.9 979.6h0M265.4 913.8h0M181.4 1013.7h0M242.5 949.8h0M196.6 1003h0M195.7 1007.6h0M148 1027.2h0M299.5 888h0M203.1 986.5h0M287 886.2h0M157.8 1019.4h0M206.3 990.2h0M193 1008.5h0M187.3 1003.9h0M206.3 995.3h0M157.1 1026.9h0M210.6 991h0M194 997.9h0M221.8 951.7h0M235.9 944h0M200.7 993h0M166.8 1019.5h0M347.9 888.3h0M256.6 932.9h0M220.7 970.6h0M193 1008.5h0M190.7 1010.2h0M257.7 933.2h0M213 971.3h0M248.7 937.3h0M209.5 976.9h0M196 1003.6h0M218.6 976.8h0M278.6 915h0M234.4 917.6h0M183 1013.1h0M201.3 983.3h0M227.4 957.9h0M278.9 900.3h0M183.7 1011.5h0M194.3 996.5h0M197 991.3h0M242.6 918.1h0M227.8 936.5h0M179.2 1014.4h0M219.3 960.1h0M222 975.5h0M212.5 971.1h0M194.6 995.5h0M205.3 980.7h0M211 988.3h0M264.3 868.7h0M203.3 997.5h0M252.6 913.4h0M275.3 948.6h0M229.4 963h0M211.7 987.1h0M185.5 999.7h0M176.1 1010.2h0M159.9 1022.8h0M228.1 988.9h0M274.8 939.4h0M255.8 926.9h0M153 1027.3h0M257.8 957.8h0M247.4 962.6h0M209.5 986.6h0M206.8 991.1h0M216.7 965.4h0M190.8 1004h0M265 973.4h0M170.4 1014.9h0M198.1 990.7h0M183.6 1012.3h0M193.1 998.2h0M191.4 997.7h0M204.8 972.4h0M222.2 977.1h0M262.3 945.7h0M244.6 935.7h0M198.5 998.2h0M268.8 929.2h0M166.3 1015.4h0M199 999.5h0M197.7 1003.6h0M236.2 964.5h0M210.5 980.2h0M234.3 955.8h0M181.2 999.5h0M210.6 973.5h0M240.8 899.1h0M168.8 1021.7h0M221.5 973.8h0M255.4 915.7h0M281.7 944.7h0M286.4 877.9h0M229.3 968.1h0M187.7 1005.5h0M175.2 1016.6h0M256.8 937.8h0M226.2 972.5h0M203.8 974.8h0M212.9 987.5h0M345.1 977.7h0M217 980.4h0M214.5 972.6h0M194.6 1010h0M228.7 971h0M442.5 824.3h0M199.8 994.1h0M198.5 978.1h0M195.7 1003h0M202.1 991.7h0M197.1 997.4h0M181.9 1007.9h0M227.1 968.5h0M219.8 947h0M209.9 989.8h0M175.7 1008.3h0M244.5 949.8h0M189.7 1005.4h0M319.7 914.4h0M216.7 996.3h0M231.4 968.8h0M188.3 998.7h0M156.9 1025.2h0M234.4 967.1h0M214.4 996.7h0M205.6 999h0M151.6 1024.3h0M214.7 979.6h0M249 953.5h0M199.1 990h0M241.1 914.8h0M225.3 975.4h0M161.3 1017.9h0M241.2 937.4h0M214.6 947h0M250.1 964.3h0M199.6 1001h0M174.5 1009.1h0M271.8 941.8h0M212.4 995.3h0M214.9 969.7h0M223 952.2h0M285.2 921.5h0M245.9 914.9h0M181.9 1011.3h0M274.2 916.4h0M256.8 941.6h0M247.1 916.9h0M217.2 967.8h0M205.8 991.9h0M235.5 939.1h0M164.8 1011.5h0M167.5 1023.8h0M261.9 954.4h0M243.4 943.2h0M211.2 993.8h0M218.8 963.1h0M213.9 1001.3h0M275.3 908.8h0M220.4 975.6h0M194.3 1008.2h0M207.9 980h0M168.1 1013h0M212.4 986.1h0M204.3 993h0M168.4 1015.6h0M183.8 1009.1h0M255.4 964.4h0M192.1 1002.3h0M211.1 995.8h0M180.5 1006.2h0M266.4 913.1h0M203.1 993.4h0M191.5 1008.2h0M200.3 1000.2h0M208.9 994.8h0M202.2 987.1h0M201 994.9h0M218.8 968.1h0M197.6 995.9h0M297.7 911.6h0M188.3 1000.6h0M342.1 937.3h0M185.9 1002.4h0M196.7 1005.1h0M254.9 934.7h0M228.6 948.5h0M163.7 1015.8h0M172.2 1006.4h0M197.9 989.9h0M189.8 1009.9h0M254.8 929.9h0M237.6 969.2h0M184.8 1013.8h0M281.2 891.8h0M251.1 924.9h0M188.1 1000.7h0M160.5 1020.9h0M219.3 957h0M248.7 915.7h0M238.5 959.7h0M201.7 991.4h0M196.4 999.2h0M226.9 940.3h0M206.9 978.3h0M207.3 975.4h0M262.2 939.4h0M162.1 1017.4h0M184.9 1007.8h0M191.4 1004.9h0M190.6 1010.3h0M155 1023.9h0M207.7 999.4h0M237.1 958.3h0M183.6 1011.9h0M160.5 1018.8h0M353.5 846.5h0M186 1009.2h0M294.5 923.5h0M297.3 926.5h0M183.1 1006.1h0M224.5 980h0M200.7 976.8h0M291.9 913.7h0M210.4 975.6h0M172.8 1014h0M176.9 1007.9h0M223.1 1001.3h0M166.2 1016.8h0M160.8 1015.6h0M212.4 986.7h0M240.3 941.5h0M148.4 1028h0M189 1000.5h0M293.3 936.2h0M200.1 986.2h0M204 993.9h0M326.2 847h0M198.5 993.3h0M212.3 958.5h0M181.2 1012.3h0M219.1 988.9h0M188 994.9h0M161.4 1020.8h0M231.7 956.5h0M210 992h0M221.5 980.9h0M213.5 968.2h0M306.1 918.4h0M186 1012.3h0M221 960.9h0M307.5 929.9h0M207.5 984.6h0M259.7 965.2h0M232.4 942h0M262.8 952.7h0M208.5 972.2h0M246.2 962.8h0M212.5 979.6h0M231.6 953.6h0M181.6 1012.4h0M255.1 934h0M180 1005.6h0M266.5 936h0M219.6 970.6h0M275.7 971h0M222.6 943.1h0M171.7 1011.4h0M206.9 975.7h0M216 990.2h0M246.3 960.8h0M214.1 973.7h0M174.9 1016.3h0M205.9 1007.5h0M217.4 990.1h0M160.9 1024.4h0M199.3 990.9h0M161.6 1022.9h0M250.5 954.9h0M273.2 884.3h0M183.1 1007h0M241.2 927.3h0M232 982.5h0M176.9 1012.6h0M191.1 1007.5h0M206.8 968.9h0M229.3 991.1h0M187.7 1012.2h0M183.6 1009.3h0M174.7 1009.8h0M241.2 965.5h0M256.2 975.4h0M252.1 926.1h0M222.5 982.3h0M189.6 1002.6h0M193.9 1009.7h0M177.4 1022.6h0M163.3 1012.8h0M221.7 977.2h0M206.1 983.8h0M248 947.7h0M316 996.1h0M278.8 935.2h0M184.9 998.2h0M216.7 979.8h0M211.4 981.1h0M239 951.9h0M188.4 1005.4h0M217.4 961.9h0M198.4 999.9h0M244.8 923.6h0M218.6 945.6h0M220.9 972.6h0M211.2 987.4h0M270.6 946h0M292.5 911.5h0M211.1 958.5h0M262.4 949.7h0M272 966.1h0M189 996.8h0M205.1 1002.6h0M221.7 965.3h0M168.9 1015.7h0M261.7 908.2h0M157.5 1019.5h0M202.6 990.4h0M289.6 913.6h0M267.2 929.8h0M283.8 942.5h0M213.9 973.5h0M166.2 1015.7h0M210.5 968.4h0M232.8 965.5h0M220.1 976.2h0M161.2 1020.6h0M211.7 983h0M294.4 913.3h0M242.5 988.3h0M242.3 952.4h0M235.7 980.8h0M206.6 987.9h0M190.7 998.6h0M213.8 993.2h0M201.6 997.1h0M164.1 1022.9h0M239.5 934.6h0M231.4 965.9h0M222.3 978.6h0M225.3 961h0M188 1005h0M238.7 950.1h0M268.9 977.1h0M171.7 1010.6h0M214.8 989.3h0M206.6 985.7h0M173.1 1017.8h0M215.5 963.5h0M194 1007.2h0M203.8 986.4h0M209.9 975.9h0M303.3 912.6h0M204.5 971.4h0M217.7 950.7h0M193.5 1006.7h0M206.4 964.8h0M211.9 988.2h0M230.3 980.3h0M193.1 999.4h0M233.8 929.3h0M198.1 996.6h0M258 967.6h0M192.1 1002.9h0M230 951.3h0M222.3 971h0M167.7 1013.6h0M252.5 936.6h0M287.2 944.2h0M210.7 993.4h0M257.5 950.8h0M236.5 939.2h0M276.7 891.1h0M217.2 994.4h0M271.1 995.2h0M197.1 986.1h0M281.9 976.3h0M199.3 982.9h0M197.3 991.6h0M245.5 987.6h0M209.5 986.3h0M212.1 956.8h0M171.2 1021.2h0M240.3 961h0M179.9 1002.2h0M204.9 988.2h0M206.4 984.6h0M192.5 1002.6h0M221.2 961.8h0M163.6 1018.2h0M202 988.7h0M163.8 1020.8h0M292.4 931.2h0M214.7 977.2h0M235.2 944.1h0M204.1 989.5h0M232.7 947.1h0M194.4 999.1h0M196.4 993h0M193.6 1011.5h0M196.8 994h0M237.9 942.4h0M236.8 954.3h0M201.5 993h0M180.2 1004h0M169.5 1019.2h0M186.1 993.2h0M270.1 967.4h0M289.9 950.1h0M200.9 1000.1h0M214.9 989.3h0M238.6 927.2h0M219.4 1010.5h0M213.3 977.4h0M183.3 1017h0M240.8 952.5h0M259.1 913.6h0M219.5 994h0M225.2 973.4h0M242 967.1h0M229.4 994.6h0M276.9 900.4h0M200.1 997.9h0M186.6 1002.8h0M198 1001.1h0M244.1 982.7h0M206.7 984.4h0M321.2 911.3h0M191.5 1008.5h0M195.4 1010h0M236.9 904.5h0M266.7 909.9h0M264.9 927.8h0M221.4 949.5h0M185.8 1010.2h0M184 1007h0M208.3 988.8h0M245.7 1016.4h0M305.4 896.9h0M222.1 977.6h0M205 987.2h0M238.4 960.2h0M197.8 1004.9h0M248.1 933.9h0M201.7 983.9h0M188.6 1007.4h0M231 945.6h0M167.5 1015.7h0M225.4 968.7h0M238.2 974.6h0M256.3 920.3h0M251.5 917.4h0M247.5 923.8h0M222.4 981.3h0M219.4 962.3h0M294.4 957.2h0M211.5 985.5h0M212.2 982.8h0M230.3 963.8h0M197.9 993.6h0M219.9 970.8h0M236.6 976.1h0M179.8 1003.4h0M212.8 988h0M169.2 1018.4h0M201.7 976.7h0M240 951.2h0M195.6 993.6h0M179.5 1006.8h0M180 1010.9h0M255.9 914.1h0M334.4 866.9h0M196.8 1004.8h0M208.8 969.7h0M205.6 1003.1h0M187.6 1014.9h0M193.8 1000.2h0M196.4 997.5h0M204.2 1003.6h0M240.9 933.8h0M241.7 941.2h0M435.5 833.4h0M310.8 915.2h0M430.1 901.7h0M375.3 956.3h0M406.7 782.9h0M477.1 872.8h0M429.1 864.1h0M361.6 858.4h0M321.1 866h0M421.6 712.9h0M307.1 979.1h0M289.3 915.9h0M241.5 990.7h0M308.1 814.9h0M322 913.5h0M352.2 907.7h0M407.2 904h0M446.7 761.1h0M250 885.3h0M494.3 738.8h0M391.6 862.6h0M313.4 876.1h0M291.5 946.5h0M248.3 946h0M349.3 862.8h0M445.5 775.4h0M378.2 890.9h0M544.8 765h0M295.3 900.2h0M286.6 916.1h0M266 899.7h0M336.4 900.2h0M258.4 918.7h0M395.5 802h0M401 780.4h0M333.5 880.1h0M426.7 843.5h0M269.4 963.9h0M359 842.7h0M299 906.4h0M393 837.3h0M319.7 957.2h0M245.5 960.5h0M302.1 902.3h0M282 972.1h0M357.1 855.5h0M343.1 852.8h0M250.4 950.9h0M356 864.6h0M460.4 720.3h0M301.1 920.5h0M304 883.9h0M298.6 928.5h0M328.5 881.1h0M397.2 898.1h0M258 952.8h0M337.5 900.2h0M427.2 818.6h0M307.6 927.7h0M352.2 898.3h0M443 862.9h0M321 944.4h0M307 892.4h0M362.3 828h0M392.3 899h0M473.2 826.3h0M376.3 849.4h0M291.7 914.1h0M329.2 846.5h0M442.9 853.6h0M270.5 910.5h0M318.4 865.1h0M269.6 921.4h0M246.6 968.3h0M387.4 827.3h0M331 868.6h0M253.1 929h0M338.8 905h0M243.5 975h0M311.1 895.1h0M336.3 920.2h0M282.3 989.5h0M614.2 680.1h0M279.2 952.1h0M315 899.4h0M336.3 858.8h0M303.4 881.8h0M575.2 874.7h0M311.4 938.4h0M387.4 876.8h0M435.8 761.9h0M438.5 835h0M298.9 928.2h0M400.1 760.7h0M473.6 795.6h0M267.4 1000.7h0M387.9 822.9h0M312.8 901.4h0M242.1 940.3h0M420.6 852.6h0M284.7 913.3h0M532.5 659.8h0M306.6 905.6h0M264.8 958.9h0M283.7 976.3h0M291.3 921.9h0M311.6 851.8h0M290.7 866.4h0M524.5 772.7h0M269.7 956.3h0M441.2 829.4h0M264.5 922.7h0M269.6 947.6h0M374.2 967.8h0M335.9 885.7h0M357.9 899h0M479.9 770h0M282.7 907.6h0M482.3 817h0M322.8 913.3h0M314.3 914h0M317.4 911.5h0M301.4 890.5h0M380.6 761.8h0M380 824.2h0M376.7 887.9h0M257.6 947.4h0M497.1 736.7h0M287.4 911.3h0M287.9 890.9h0M366.7 916.8h0M262.5 929.9h0M326.4 912.6h0M316.3 870.4h0M420 807.3h0M424.8 774.8h0M239.6 972.7h0M329 902.6h0M361.1 937.3h0M591.7 772.4h0M407.5 910.9h0M385.4 881.5h0M324.9 864.1h0M371.2 823.4h0M350.9 872.6h0M485 763.5h0M419.2 869h0M352.8 868.9h0M425.1 923.1h0M350.2 850.6h0M381.9 883.6h0M247.1 986.7h0M580.6 687.2h0M298.8 994.6h0M338.8 891.6h0M507.2 707.2h0M400.7 895.6h0M590.1 755.7h0M272.1 890.8h0M248.7 906.7h0M294.4 839.9h0M349.8 925.4h0M271.1 942.4h0M283.8 923.1h0M288.6 894.5h0M349 903.6h0M315.5 842.5h0M299.5 972.9h0M313.4 931h0M404.2 844.8h0M272.5 953.9h0M334.1 922.8h0M366.7 819.1h0M281.3 997.5h0M387.8 948.4h0M344.2 926.4h0M390.7 869.5h0M359.6 869.7h0M333 914.1h0M439.8 832.2h0M332.7 898.9h0M262.4 924.3h0M595.9 735.6h0M298.5 908.9h0M324.2 848.9h0M278.7 962.9h0M614 699.2h0M289.3 959.8h0M469.5 754.2h0M345.4 971.6h0M327.3 900.7h0M462.9 812.8h0M309.4 878.6h0M243.2 956.9h0M323.7 887.1h0M494.1 728.2h0M351.9 899.2h0M254.1 964.9h0M492.6 789.8h0M318.4 964.4h0M281.8 938.6h0M608 771.3h0M409.7 861.7h0M357.7 920.8h0M257.2 969.8h0M278.4 955.8h0M459.7 748.7h0M285.4 898.2h0M284.5 945h0M357.2 874.1h0M293.8 943.2h0M350.6 894.1h0M352.6 853.9h0M277.1 934h0M425.1 813.1h0M281.1 924h0M311.2 879.1h0M246.5 953.3h0M373.9 875.6h0M491.5 749.6h0M340.8 876.8h0M353.6 837.7h0M290.2 909.9h0M308.1 928h0M402 718.3h0M433.3 760.8h0M258.7 912.1h0M285.2 924.8h0M329.4 858.6h0M382 925.7h0M296 939.7h0M255.1 949.6h0M300.5 877.3h0M494.3 834.7h0M569.5 643h0M356.7 832.4h0M288 915.7h0M338.6 922h0M564.3 774.6h0M278.1 937.9h0M351.7 844.6h0M324.7 870.7h0M272.6 961h0M270.4 976h0M359.1 820.4h0M343.1 887.9h0M376.2 836h0M237.1 928h0M227 938.4h0M224.8 953.9h0M198.4 925.5h0M208.3 974.6h0M218.6 970.2h0M219.8 905h0M203.5 974.8h0M214.9 930.3h0M230.4 937.1h0M251.5 926.9h0M230.3 949.2h0M241.5 929.7h0M251.5 939h0M238.1 981.6h0M218.5 953.3h0M222.6 942.7h0M209.5 955.6h0M265.7 926.1h0M211.3 969.7h0M233.1 947.7h0M214.1 951.3h0M222.8 957.7h0M219.2 956.2h0M217.8 921.7h0M223.6 959.1h0M229.1 981.2h0M212.2 939.6h0M230.6 949.7h0M237.8 973.6h0M211.2 943.2h0M206.9 957.4h0M208.1 947.8h0M221.7 966.5h0M215.4 948.8h0M251.7 943.2h0M205.1 941.3h0M228.5 950.1h0M222.1 954.5h0M218.7 968.8h0M230.5 923.9h0M222.9 914.4h0M215.7 959.1h0M222.4 960.5h0M199.1 961.3h0M201.1 987.4h0M217.8 937.1h0M209.8 962h0M229.9 918.1h0M250.3 931.4h0M205.4 976.2h0M240.9 959.1h0M221.4 954.3h0M228.4 934.6h0M264.9 943.1h0M215.3 960.5h0M235.1 904.1h0M223.5 942.7h0M214.3 944h0M212.7 982h0M230 903.3h0M239.4 924.7h0M231.2 948.2h0M230.1 938.3h0M236.1 945.1h0M230.2 948.1h0M223.6 979.8h0M194.5 983.4h0M232.9 972.4h0M210.2 961.1h0M244.5 939.7h0M222.9 926.7h0M236.7 939.6h0M215.7 907.9h0M245.8 940.1h0M230.1 943h0M217.8 935.5h0M197 950h0M236.8 915.7h0M226.9 975.7h0M209.6 954.2h0M226.6 939.4h0M242.4 947h0M244.9 944.2h0M244.9 923.9h0M234.9 956.4h0M244.9 945.4h0M206.1 918.9h0M218.1 942.3h0M234.1 947.5h0M225.6 929.8h0M226.4 924.5h0M230.1 942.8h0M203.6 958.6h0M233.1 894.4h0M220.9 954.1h0M244.9 927h0M206.4 954.8h0M225.5 985.6h0M237.2 962.8h0M234.9 945.4h0M226.5 949.2h0M250.8 993.4h0M246.2 936.2h0M214.1 961.2h0M230.4 933.9h0M215.4 973.2h0M228.9 941.7h0M231 941.8h0M243.7 950.3h0M220.4 928.5h0M244.2 953.2h0M226.3 936h0M238.9 916.4h0M231.6 975.6h0M256.5 929.1h0M211.7 935.8h0M235.8 941.1h0M242.8 926.4h0M226.5 974.8h0M229.5 971.5h0M267 915.1h0M208.1 937.8h0M229.7 941.4h0M213.3 962.4h0M216.6 968.3h0M222.2 924.2h0M200 958.8h0M209.8 977.6h0M235.2 942.9h0M229.4 951.9h0M237.4 925.8h0M244.9 937.9h0M227.3 949.5h0M214.1 975.6h0M234.1 930.1h0M237.6 932.5h0M218.8 953.5h0M247.8 960.5h0M253 917h0M240.8 914.3h0M226 942.1h0M217.6 953h0M214.3 984.5h0M219.3 951.8h0M211.6 931.1h0M235.4 969h0M237.6 941.2h0M243.7 927.1h0M240.3 928.7h0M210.5 918.3h0M252.5 976.5h0M219.7 975.4h0M217.8 970.3h0M230.5 963.6h0M220.1 949.1h0M212 962.2h0M223.5 934.8h0M264.4 899.8h0M258.7 922h0M223 912.4h0M235.6 939.8h0M214.9 940.8h0M263.2 941.2h0M243.3 948.7h0M196.3 927.6h0M223.3 946.2h0M225.5 936.1h0M217.4 963h0M234.2 926.7h0M230.1 938h0M244.7 932.4h0M239.5 930.2h0M243.3 918.9h0" fill="none" stroke="#404040" stroke-width="2.4" stroke-linecap="round" opacity="0.56"/>
<path d="M155.5 1025.3h0M206.7 983.7h0M189.1 1010.3h0M189.3 1004h0M228.2 937.7h0M174.2 1012.5h0M184.7 1012.8h0M191 998h0M247.1 961.8h0M178.5 1011.9h0M218.2 982.7h0M194.6 994.1h0M246.7 948.9h0M231.5 946.1h0M238.1 918.8h0M244.2 963.5h0M256.1 980.8h0M244.7 916.2h0M287.5 938.1h0M240.5 941.7h0M257.7 923.5h0M171.8 1011.7h0M231.4 954h0M237.9 936.1h0M230.8 948.1h0M266.1 992.5h0M227.6 962h0M224.8 930.4h0M241 978h0M281.7 940.1h0M295 953.8h0M174.4 1015.6h0M182.6 1000.2h0M167.5 1013.2h0M329.7 858h0M282.7 879.2h0M193.1 987.9h0M199.9 998.6h0M246.7 936.9h0M197.6 994.6h0M206.5 980.5h0M184.3 1006.8h0M170 1011.2h0M181 1009.4h0M190.4 1002.2h0M233.7 939.9h0M231.7 978h0M231.9 990.8h0M337.9 957.2h0M255.5 917.6h0M207.4 1002.9h0M204.4 993.1h0M177.2 1011.4h0M233.9 938.2h0M180.2 1013h0M218.6 960.8h0M197 986.7h0M169 1016.2h0M239.6 930.4h0M240.2 902.9h0M222.5 949.6h0M245.9 903h0M184.8 1000.8h0M203.9 988.4h0M206.9 1003.5h0M221.7 954.3h0M185.7 999.4h0M162.8 1019.7h0M238.1 941.7h0M232.8 931.9h0M278.5 926.8h0M226.6 976.4h0M271.9 919.8h0M303.3 856.9h0M227.4 951.5h0M290.6 879h0M211.5 970.9h0M273.4 908.3h0M231.1 922.5h0M175.6 1013.2h0M293.5 948.8h0M293 977.2h0M224.6 967.5h0M265.6 866.3h0M181.9 996.3h0M235.1 940.7h0M181.3 1010.1h0M242.7 913.9h0M166.7 1021.3h0M230.9 971.7h0M166.6 1010.3h0M172.6 1015h0M232 947.7h0M242.7 986.7h0M228 957.8h0M202.1 994.1h0M222.7 969h0M169.7 1016.5h0M205.4 988.8h0M214.4 970.4h0M186.1 1011.4h0M295.7 964.6h0M227.7 955.2h0M189.3 996h0M307 961.8h0M266 926.4h0M266.8 937.5h0M180.5 1015.1h0M237.4 998.6h0M214.6 984.9h0M247.5 929.5h0M277.5 999.5h0M226.4 979h0M249.3 983.2h0M184.1 994h0M198.7 992.3h0M255.2 897.1h0M207.6 966.5h0M185.9 1010.6h0M186 994.1h0M188.8 1008.1h0M171.6 1008.4h0M225.5 981.1h0M203.4 981.7h0M261.5 946.4h0M197.9 992.8h0M286 966.3h0M238.5 930.4h0M198.3 1002.4h0M178.3 1014.9h0M178.1 1007h0M265.8 923.4h0M228.9 937.9h0M261.2 943.8h0M194.6 999h0M184.1 1004.4h0M179.7 1008.1h0M256.2 889.6h0M284.1 877.2h0M203.2 1017.5h0M210.8 997.2h0M181.5 1016h0M221 962.7h0M181 1011.7h0M186.7 999.6h0M227.3 955.7h0M203.2 981.9h0M218.7 955h0M193.7 1009.2h0M162.9 1024.4h0M239.8 917h0M290.1 889.1h0M217.8 993h0M239 896h0M234.3 931.9h0M252.9 940h0M201.5 985.9h0M289.8 933.7h0M283.9 898h0M207.7 1005h0M194.1 1001.1h0M195.4 990.8h0M181.1 1007.6h0M252.3 919.9h0M303.9 909.8h0M176.6 1018.4h0M204.6 1004.2h0M189.2 996.1h0M175.9 1008.4h0M199.9 993.9h0M260.8 944.1h0M191.8 999.9h0M228.7 984.5h0M200.3 1002h0M171.2 1018.6h0M186.4 1004h0M230.8 963.9h0M203.5 990h0M212.7 983.7h0M297 900.8h0M180.3 1016.9h0M206.4 968.1h0M220.5 940h0M235.1 954.3h0M241.1 964.2h0M202.8 1001h0M263.2 928h0M211.9 955.9h0M257 955h0M194.9 998.1h0M206.1 1005.7h0M186.1 1006.7h0M306.1 875h0M249 968.4h0M185.2 1016.6h0M209.2 989h0M253.7 921.9h0M173.3 1015.5h0M197.5 991.2h0M375.6 831.9h0M210.2 979.1h0M252.7 946.3h0M170.3 1012.7h0M173 1014.2h0M275.8 888h0M191.2 1004.2h0M238.7 967.3h0M187.5 994.5h0M244.1 996h0M231.6 967.9h0M191.9 1008.4h0M219.3 982.5h0M210.5 972.2h0M218.2 969.1h0M189 1005.8h0M197.4 984.8h0M251.2 946h0M185.7 1003.3h0M211.5 969.5h0M189.6 1004.8h0M205.4 991h0M207.8 992.7h0M153.9 1021.4h0M241.4 963.3h0M235.9 929.2h0M288.6 914.4h0M218.1 970.2h0M293.8 930.7h0M198.2 1000.2h0M179.4 1018.6h0M215.5 987.9h0M235.1 983.9h0M180.3 1012.5h0M180.2 1008.4h0M258.9 948.1h0M269.5 987.3h0M380.8 849.4h0M184.8 1012.3h0M229.8 936.1h0M245.5 929.6h0M203.1 1008.5h0M240.6 971.1h0M238.2 912h0M232.7 957.4h0M208.7 967.2h0M153.6 1024.5h0M202.8 998.4h0M289.6 904.4h0M175.3 1002.3h0M192 1006.2h0M177.7 1012.4h0M245.7 949h0M209.4 977h0M246.6 929.3h0M238.4 934.6h0M214.1 997.8h0M245 918.6h0M194 993.4h0M214.1 971.1h0M283.1 936.2h0M219.9 964.8h0M201.6 1012.5h0M212.9 989.7h0M167.6 1021.6h0M264 948.2h0M221.2 962.8h0M181.4 1002.1h0M237.8 929.7h0M188.6 1009.6h0M214.7 979.9h0M222.7 955.2h0M185.6 994.2h0M177.1 1002.9h0M245 932.4h0M207.8 989.7h0M174.5 1013h0M198.1 1004.9h0M218.7 982.1h0M204.1 998.4h0M220.7 988.8h0M240.7 941.1h0M252.9 877.7h0M195.3 992.7h0M293.5 898.5h0M235.4 938.2h0M223.5 968h0M209.8 976.8h0M214.6 981.2h0M196.8 986.3h0M204.9 999.8h0M169.4 1024.1h0M186.3 987h0M187.6 1004.1h0M183.6 1003.5h0M234.4 980.5h0M164 1013.7h0M218.5 970.1h0M225.6 992.3h0M286.7 944.7h0M214.2 959.4h0M236.8 958.8h0M186.8 1011.3h0M219.2 970.2h0M174.5 1020.4h0M199.4 991.9h0M242.4 933.8h0M209.2 961.3h0M174.6 1017.3h0M189.1 1020.8h0M179.2 1009.4h0M169.8 1012.9h0M315.3 959.2h0M203.7 970.3h0M220.9 979.2h0M189.9 997.6h0M186 1004.4h0M189.1 1009.3h0M181.3 1006h0M196.6 997h0M172.9 1018.2h0M249.8 964.6h0M237.4 968.9h0M177.6 1009.6h0M225.6 937.5h0M189 1003.7h0M188.8 999.5h0M236.4 929.1h0M210.3 969.5h0M243.7 960.9h0M161 1018.5h0M164.5 1022.1h0M221.3 937.6h0M227.2 964.3h0M192.2 999.5h0M271 902.5h0M263.5 945.7h0M280.7 940.7h0M275.6 915.3h0M200.2 996.8h0M211.6 977.2h0M214.1 983.7h0M196.9 1000.8h0M279.6 941h0M161 1022.2h0M233.1 971.5h0M176.9 1010.7h0M236.1 906.4h0M227.5 931.6h0M212.4 976.9h0M221.4 979.8h0M222.2 960.1h0M163.5 1011.3h0M198.2 987.9h0M168 1019h0M224 995.4h0M218.3 979.1h0M213.7 970.5h0M257.8 922.9h0M207.5 989.6h0M322.3 849.5h0M244.7 914h0M238.5 965.7h0M203.8 1000.7h0M205.6 995.3h0M230.4 941.3h0M214.5 981.7h0M263.6 971.3h0M223.1 968.8h0M236.3 955.9h0M219.5 979.2h0M166.4 1020.6h0M203.3 981.1h0M200.6 995.7h0M193.5 998.7h0M297.3 900.4h0M276.7 907h0M226.5 989.3h0M271 908.9h0M192.3 1007h0M166.7 1012h0M187 995.7h0M242.3 907.8h0M201.4 994.6h0M245.6 937.2h0M285.5 989.2h0M203.3 1004.1h0M331.9 898h0M182.5 1012.3h0M282.6 946.6h0M227.9 979.2h0M199.7 1004.2h0M277.9 988.2h0M230.6 947.8h0M392.7 868.8h0M265.5 920.6h0M189.3 1006.1h0M268.5 960.1h0M221.6 988.5h0M175.4 1010.7h0M200.7 996.9h0M286 927.9h0M239.9 929.2h0M251.4 931.7h0M204.3 992h0M190.7 1005h0M203.8 977h0M200.6 994.7h0M207 992.3h0M248.5 930.2h0M231.2 919.7h0M333 883.6h0M169.4 1007.1h0M223.2 965.5h0M273 981h0M186.8 1004.9h0M232.2 968.5h0M202.2 993.4h0M308.9 930.8h0M206.4 998.2h0M193.9 1003.2h0M183.3 1007.6h0M179 1012.4h0M269.1 920h0M231 934h0M193.1 994.1h0M178.3 1010h0M185.6 993.3h0M277.2 919.8h0M289.7 939.8h0M234.5 945h0M262.2 930.8h0M211.2 954.9h0M188 1000.1h0M167.8 1009h0M188.1 997.3h0M171.2 1016.5h0M219.2 976.6h0M212.5 968.2h0M179.7 1010.5h0M249.2 887.6h0M403.7 798.7h0M175.8 1011.1h0M180.5 1006.1h0M197.1 985.8h0M228 941h0M181.4 1006.4h0M171.1 1011.9h0M232.1 934.7h0M238.4 945.8h0M160.3 1019.3h0M186.4 1001.9h0M213.5 984.1h0M258.5 919.1h0M174.3 1009.9h0M224.9 943.5h0M186.3 997.9h0M191.3 999.3h0M252.8 902.1h0M238.5 938.2h0M246.8 947.9h0M209.8 967.9h0M232.4 955.1h0M235.1 943.1h0M235.3 973.7h0M263.4 952.7h0M162.8 1024.4h0M302.4 932.6h0M238.5 907.6h0M221 960.5h0M210.7 995.6h0M278.8 898.8h0M238.3 934.9h0M268.9 912.2h0M220 925.1h0M175.5 1013.7h0M267.8 925.3h0M307.5 886.1h0M207.6 995.7h0M233 960.3h0M151.2 1022.6h0M303.6 886.3h0M266.8 913.7h0M211.8 972.3h0M189.3 1005h0M226.1 962.4h0M159.3 1021.4h0M203.5 997.5h0M207.2 984.2h0M214 981.3h0M205.8 981.9h0M266.6 897.2h0M177.9 1012.8h0M177.6 1007.2h0M252.2 969.5h0M245.6 926.2h0M205.4 990.6h0M230.5 941.5h0M164.4 1015.5h0M165.2 1018h0M198.6 985h0M339.3 918h0M183.2 1004.7h0M190 1003.7h0M202.7 991.2h0M319 872.7h0M216.6 957.2h0M231.6 949.5h0M181.6 1007.5h0M193.9 1000.8h0M227.1 956.9h0M160 1023.5h0M195.1 1001.2h0M208.6 969.5h0M218.9 971.7h0M251.8 931.5h0M297.2 895.3h0M239.5 900h0M292.3 877.4h0M254.4 914.9h0M193.3 1006.2h0M150.8 1024.8h0M248.2 941.9h0M168.1 1018.8h0M232 950.8h0M207.7 988.2h0M222.4 956.3h0M160.4 1019.1h0M225.1 972.6h0M194.3 990.3h0M233 955h0M242.3 966.8h0M250.5 973.1h0M238.9 948.4h0M196.4 994.9h0M230.8 940.3h0M252.3 960.1h0M197.9 988.2h0M275.1 935.1h0M183.8 1017.8h0M241.6 983.9h0M219 979.2h0M187.9 1007.3h0M258.7 931.7h0M294.7 938h0M200.9 999.5h0M197.1 993.1h0M221.3 986.2h0M231.4 955.9h0M204.5 989.7h0M287 908.5h0M227.5 944.1h0M202.5 984.4h0M223.4 979.8h0M212.4 974.5h0M198.3 1006.7h0M228 947.2h0M193.5 994.9h0M183.2 1001.3h0M205.8 998.1h0M270.9 923.7h0M216.5 985.7h0M242 974.3h0M216.8 1010.4h0M222 964.6h0M216 972.2h0M186.4 999.1h0M246.7 946.2h0M218.8 992.8h0M259.6 934.6h0M181.5 1022.8h0M225.8 999.3h0M205.2 963h0M189.2 1011.3h0M202.7 997.2h0M185.6 1013.2h0M180.6 1002.2h0M186.4 996.9h0M207.1 1001.5h0M295.6 934.9h0M178.9 1004.8h0M191.5 1002h0M165.9 1012.2h0M225.4 958.8h0M273.3 943.1h0M239.1 955.3h0M221.6 964.5h0M222.4 966.7h0M233.2 939.4h0M252.6 971.7h0M212.5 966.4h0M210.4 983.8h0M192.9 1020.5h0M220.3 962.8h0M190.9 1005.5h0M239.1 928.9h0M317.1 838.7h0M282.3 916h0M208.2 975.5h0M190.5 995.3h0M204.9 997.9h0M242.4 931.4h0M177.1 1013.4h0M180 1012h0M215.5 1014.1h0M195.8 1003.4h0M213.7 987.8h0M202.4 993.4h0M420.5 777.3h0M232.5 924.9h0M230.4 982.1h0M173.1 1011.2h0M205.7 984.7h0M176.2 1006.4h0M252.9 960.6h0M210.5 969.3h0M201.9 989.8h0M197.2 995.5h0M169.6 1014.1h0M197.3 991.3h0M167.9 1018.7h0M198.4 994h0M226.1 968.7h0M178.3 1007h0M160.7 1016.9h0M219 1005.4h0M215.7 953h0M228.6 955.7h0M156.7 1022.1h0M226.4 976.2h0M194.6 1007.1h0M214.1 986.7h0M182 999.8h0M231.3 966.4h0M175.8 1008.6h0M238 930.9h0M192.4 1000.1h0M191.1 998.6h0M291.5 942.8h0M344.5 871.2h0M228.1 972.5h0M214.8 995.2h0M244.5 911.9h0M235.9 959h0M165 1019.6h0M226.1 986.1h0M235.4 970h0M184.4 1007.4h0M219.6 960.7h0M286.2 981.2h0M215.5 976.5h0M278.8 909.2h0M255.8 936h0M227.1 936.3h0M198 1013.4h0M213.9 993.8h0M280.7 943.1h0M228.5 974.4h0M203.2 983.4h0M224 955.5h0M269.7 960.3h0M228.7 970.2h0M309.3 921.3h0M226.6 969.9h0M185.4 1006.5h0M218.4 998h0M188.1 1013.3h0M211 979.9h0M243.8 928.9h0M209.2 984.1h0M212.8 974.4h0M174.6 1013.7h0M264.2 950.8h0M151.8 1025.8h0M256.6 921h0M241 924.9h0M189.7 998.9h0M278.8 928.3h0M311 895.9h0M145.4 1025.2h0M192 1007.7h0M192 998.4h0M240.9 982.5h0M171.5 1014.1h0M225.1 936.7h0M202.7 1009.5h0M214.6 965.1h0M262.9 900.3h0M192.6 1008.2h0M174 1015.4h0M234 983.1h0M262.1 977.8h0M315 831h0M199.1 983.2h0M176.2 1016.1h0M174.7 1010.8h0M229.3 976.7h0M286.6 917.2h0M193.5 999.2h0M326.2 961h0M222.2 979.3h0M214.8 984.3h0M228.4 981.8h0M237.9 966.8h0M281.8 879.7h0M173.3 1018.5h0M294.8 928.2h0M198.4 1003.2h0M237.7 934.8h0M172.2 1018.5h0M249.7 942.7h0M200.6 998.6h0M171.1 1010.7h0M186.3 1002.9h0M214 969.8h0M203.6 986.2h0M217.7 973.1h0M174.6 1005.5h0M189.4 1005.9h0M181.9 1005.2h0M209.7 1000.1h0M264.4 974.3h0M198.8 1006h0M273 953.2h0M231.7 978.1h0M211.2 985.6h0M302.8 879.7h0M205.6 994.5h0M307.3 878.5h0M238 955.6h0M220.8 979.9h0M212.4 985.6h0M229.6 920.2h0M207.8 987.7h0M231.2 968.4h0M248.9 938.5h0M218.6 968.9h0M170.1 1007.9h0M282.7 927.1h0M251.6 952.5h0M217.4 992.6h0M217.7 954.3h0M209.6 990.9h0M271.5 902.1h0M255.7 942.4h0M255.3 948.7h0M169.5 1014.3h0M231.7 919.1h0M179.1 1002.5h0M211.7 977.8h0M274.2 955.2h0M195.5 1006.5h0M186.1 1004.3h0M213.9 959.1h0M263.8 949.2h0M246.5 967.5h0M341.1 911h0M189.3 996.7h0M211.1 970.1h0M267.2 906.6h0M152.2 1030.8h0M197.8 987.3h0M176.1 1016.5h0M279.4 948.3h0M257.7 960.9h0M263.6 907.8h0M220.2 980.1h0M210.6 980.5h0M196 998.2h0M194.5 1012.9h0M184.2 1003.8h0M245.3 940.9h0M216.8 969.4h0M177.2 1004.9h0M188.3 1001.9h0M206.5 989.1h0M192.1 1001.1h0M287.8 942.7h0M221.4 988.2h0M225.9 973.7h0M211.2 992.5h0M222.8 957.1h0M278.7 980.2h0M206.1 1004.9h0M214.9 984.1h0M226.2 923.1h0M229.2 940h0M193.4 995.5h0M230.1 977.4h0M197.8 1006.2h0M235.2 958.7h0M220.5 997h0M254.2 978.2h0M159.4 1027.7h0M243.5 936.2h0M216.9 963h0M193.2 1006.1h0M176.1 1004.1h0M227.6 962.4h0M210 987.8h0M181.3 1010.6h0M292.6 891.1h0M189.4 1002.8h0M233.5 957.5h0M180.1 1005.9h0M287.3 916.9h0M308 901.7h0M182.2 1008.5h0M213.6 978.3h0M175.5 1015.4h0M210.8 994.2h0M242.9 973.4h0M222.3 967.6h0M173 1011.8h0M187.6 1004.2h0M211.5 975.8h0M153.7 1023.1h0M201 1000.6h0M199 990.1h0M208.9 983h0M269.1 946.6h0M258.2 931h0M375.2 832.7h0M218.8 951.4h0M189.1 1010.9h0M176.9 1009.1h0M246 916.9h0M194.3 994.5h0M238.5 955.8h0M202.5 986.3h0M227 952.2h0M195.2 998.7h0M247.8 975h0M199.7 995.6h0M219.3 976h0M181.4 1018.1h0M251.3 919.4h0M196.4 989.4h0M267.1 890.4h0M168.5 1014.8h0M176.5 1007.5h0M175.4 1019.2h0M262.8 929.6h0M269.6 946.9h0M227.6 937.8h0M197.2 980.8h0M239 942h0M204.6 999.2h0M200.2 984.6h0M187.5 1010.4h0M205.3 982.5h0M152.8 1019.4h0M210.6 981.4h0M201.8 1000.3h0M189 1008.2h0M302.6 926.8h0M170.3 1016.2h0M195.6 1000.6h0M162.6 1019.9h0M224.4 981h0M248.8 948.1h0M179.2 1000.3h0M219.7 986.4h0M194 1001h0M204.5 1003h0M282.4 931.9h0M165.5 1020.2h0M195.4 1003.9h0M222.7 973.6h0M181.4 1006.6h0M251.5 955.7h0M231.4 997.4h0M181.5 999.6h0M208 971.7h0M161.4 1022.3h0M217.5 972.5h0M197.6 988h0M249.1 968.6h0M191.1 997.1h0M191.2 1004.4h0M242.5 961.8h0M181.2 1010.9h0M168.4 1011.7h0M269.7 939.6h0M219.8 949.5h0M190 1004.7h0M198.1 989.6h0M219.1 962.8h0M242 943.1h0M220 966.7h0M234.6 917.8h0M201.6 986.3h0M234.6 931h0M197.8 1002.5h0M202.6 983.1h0M220.7 976.8h0M192.3 1006.7h0M235.7 961.1h0M193.5 1007.3h0M237.6 897.9h0M267.7 951.1h0M211.8 996.6h0M238.2 932.7h0M463.3 847.5h0M186.5 1000.1h0M237.6 920h0M161.8 1017.8h0M223.5 974.9h0M312.7 920.2h0M163.5 1017h0M335.3 924.8h0M205.9 978.6h0M309.1 832.4h0M202.3 994.4h0M218.1 960.6h0M181.3 1001.7h0M243.1 936.6h0M205.8 989.3h0M206.2 971.4h0M291.1 898.4h0M192.6 996.8h0M248 959.6h0M232.7 962.6h0M220.1 949h0M250.8 940.6h0M166.8 1013.3h0M226.1 970.7h0M204.9 988.7h0M246.1 970.2h0M196.1 1005.9h0M210.7 1001.3h0M255.8 975.8h0M166.7 1017.6h0M160.8 1017.6h0M213.8 975.8h0M309.3 935.3h0M178.9 1005.9h0M213.4 990.4h0M239.7 926.1h0M291.2 907.2h0M213.5 984.6h0M257.2 991h0M244.9 952.1h0M192.4 1000.9h0M206.6 963.8h0M250.8 953.5h0M218.4 983.1h0M209.3 980.3h0M194.5 999.8h0M173.1 1017.8h0M275.2 879.9h0M304.4 902.6h0M273.9 934.7h0M259.5 953.9h0M294.5 863.7h0M189.3 998.3h0M216.8 974.8h0M283.7 988.8h0M202.9 1012.4h0M212.8 1007.3h0M196.7 993.9h0M279.3 895.1h0M260.8 944.1h0M249 948.6h0M182.9 1009h0M171.1 1012.3h0M217.3 980.9h0M329.4 933.2h0M218.1 974.6h0M207.2 972.7h0M210.4 968.4h0M200.1 988.5h0M154.8 1024.9h0M241.5 944.6h0M188.3 1000.9h0M204.3 1011.2h0M280.2 970.2h0M189.8 1001.2h0M185 1002.8h0M249.2 944.7h0M250.2 986.1h0M216 948.6h0M180.1 1002.2h0M208.9 973.3h0M233.9 969.5h0M169.5 1014.2h0M202.1 1006.9h0M244.3 974.7h0M165.9 1014.8h0M178.6 1005.2h0M231.6 958.6h0M188.3 1005.5h0M184.4 1003.8h0M189.4 1005.5h0M194.8 990.8h0M224.3 998h0M333.5 909.8h0M219.9 955h0M260.6 901.4h0M200.5 1000.3h0M282.6 959.4h0M309.9 848.7h0M491 736.8h0M286.9 896.4h0M315.5 924.9h0M261.3 937.9h0M355.1 900h0M288.3 946.1h0M431 802h0M341.9 935.9h0M327.7 864.3h0M252.7 893.6h0M365.1 739.7h0M246.3 925.2h0M396.5 877h0M341.8 887.3h0M547.5 742.7h0M388.9 862.4h0M336.8 839.7h0M357.3 912.9h0M287 896.3h0M343.3 914.2h0M420.7 871.2h0M260.6 917.3h0M251.1 966.6h0M293.5 971.5h0M460.2 755.1h0M455 867.4h0M282.8 948.7h0M475.6 904.8h0M433.8 827.5h0M358.2 846.6h0M372.2 834.1h0M286.8 888.9h0M268.5 914.1h0M287.4 952.5h0M320.7 950.1h0M472 837h0M387.6 903.4h0M250.2 908.9h0M581.8 736.8h0M503.8 784.7h0M326.6 948.7h0M392.2 795.5h0M299.2 873.7h0M331.2 885.3h0M355.9 899.4h0M257.4 999.9h0M264.3 956h0M317.4 964.1h0M453.4 779.9h0M373.2 812.8h0M353.5 914.3h0M286.4 939.7h0M297.3 886.7h0M422.7 802.3h0M367.6 906.5h0M335.2 938.4h0M259.4 900.1h0M282.3 916.4h0M590.6 713.8h0M388.2 909.7h0M320.2 975.5h0M373.4 846.8h0M334.8 909.7h0M259.3 919.9h0M238.7 975.4h0M380.4 814.7h0M308 912.9h0M255.1 942h0M376.4 884.7h0M385.3 795.9h0M302.7 962.4h0M378.7 890.1h0M562.1 676h0M346.6 889.7h0M312 929.4h0M311 949.7h0M363.5 851.3h0M406.1 825.9h0M567 770.5h0M548 811.3h0M548 781.4h0M307.5 885.3h0M337.6 927.3h0M249.6 998.2h0M278.6 910.7h0M524.4 790.5h0M245.4 953.7h0M258.8 937.2h0M279.6 904.4h0M260.5 925.9h0M306.8 896.7h0M332.2 796.7h0M338.3 944.4h0M334.9 911.9h0M354.3 891.1h0M302.7 900.9h0M273.2 943.2h0M328.3 909.3h0M263.4 929.6h0M445 881.2h0M314.7 906.7h0M457.8 872.2h0M295.3 904h0M292.9 922.4h0M320.8 869.2h0M358.2 946.2h0M271.3 947h0M317.6 963h0M259.1 937h0M305.1 942.2h0M348.9 881.4h0M245.5 919h0M266.3 937.8h0M333.5 834.7h0M270.3 982.3h0M292.6 964.9h0M395.6 797.4h0M317.5 886.2h0M437.3 846.6h0M392.5 881.7h0M410.4 811h0M276.3 849.2h0M255 931.1h0M253.2 903.3h0M406.5 820.3h0M477.7 779.7h0M401.5 827h0M277.4 901.9h0M359.1 878h0M464.3 696.3h0M342.4 943.6h0M348.6 884.6h0M316.6 922.1h0M428 792.2h0M435.7 883.9h0M332.2 905.2h0M271.4 887.7h0M434.7 881.1h0M459.5 723.5h0M280.4 961h0M579.3 796.8h0M255.5 958.8h0M449.4 793.8h0M326.3 836.2h0M238.4 987.5h0M362.7 887.1h0M544.2 790.8h0M437.3 731.9h0M353.3 869.5h0M262.9 948.2h0M437.8 794.5h0M305.8 957.1h0M312.4 893.5h0M439.4 762.4h0M311 881.9h0M417.2 850h0M402.8 838.3h0M252.2 937.8h0M281.9 940.2h0M302.3 866.1h0M351.3 875.4h0M317.8 876.5h0M285.5 970.2h0M374.4 901.7h0M573.5 723.8h0M392.5 811.1h0M265.8 961.5h0M513.2 716.7h0M527.8 731.4h0M486.7 807.1h0M410.8 815.9h0M545 779.8h0M400.8 872.4h0M241.6 972.9h0M398.8 913.5h0M266.2 902.2h0M407.1 858.9h0M304.4 920.3h0M315.7 840.2h0M449.9 722.1h0M418.1 766.9h0M338.4 967.6h0M297.5 890.6h0M396.5 825h0M342.5 881.8h0M374.4 809h0M261.8 936h0M390 834.6h0M328.6 904.1h0M468.7 894.7h0M322.5 942.8h0M267.5 931.3h0M257.3 887.1h0M264.6 954.3h0M295.4 921.4h0M312.4 903.8h0M251.1 988.6h0M255 911.1h0M324 907.4h0M443.2 854.5h0M351 845h0M308.3 909.2h0M283 970.1h0M430.6 874.6h0M256.6 914h0M365 834.8h0M388.9 859.5h0M295.1 934.4h0M385.8 832.4h0M259.5 899h0M465.4 753.1h0M567.7 806.9h0M273.9 950h0M262.9 927.3h0M415.3 912.2h0M353.6 823.4h0M248.8 941.8h0M454.1 834.1h0M484.4 812.2h0M331.5 887.7h0M316.5 944.3h0M281.2 925h0M428.8 797h0M249 971.4h0M247.7 933.8h0M423.6 767.5h0M297.2 960.1h0M267.5 916.1h0M260 918.5h0M316 843.3h0M414.8 784h0M273.7 875h0M350.9 867.9h0M336.4 829h0M376.7 889.9h0M346.2 901.2h0M378.9 818.5h0M504 714.9h0M466.6 773.6h0M310.2 867.3h0M385.8 850h0M338.4 826.2h0M333.4 868.5h0M334.9 862h0M420.6 853.4h0M250.5 923.3h0M223.2 978.2h0M231.9 968.1h0M229 957.8h0M211.7 954.1h0M249.8 914.5h0M225.3 948.2h0M242.8 946.2h0M209.6 955.9h0M230.3 927.6h0M221.2 929h0M229.7 946h0M231.9 957.4h0M220.1 956.4h0M229.4 938.5h0M244.7 967.8h0M231.5 950.7h0M240.1 922.5h0M216.6 942.3h0M225.2 928.2h0M250.9 952.2h0M250 918.4h0M236.6 932.4h0M240.3 958.5h0M211.9 949.6h0M241 946h0M221.8 963.6h0M232.1 974h0M249.1 951.2h0M229 938.8h0M234.7 962.4h0M233.1 959.5h0M222.2 951.2h0M231.5 943.7h0M228.7 949.7h0M243.8 955h0M221.1 963.8h0M218.7 948.3h0M233.4 960.2h0M232 955.2h0M244.3 951h0M243.3 948.5h0M204.1 966.4h0M233.9 940.5h0M215.9 935.5h0M222.8 938.1h0M239.5 925.4h0M224.5 979.9h0M225.2 962.5h0M228.5 955h0M234.5 941.1h0M220.5 939.5h0M220.7 944.1h0M209 947.4h0M241.2 975.7h0M227.6 953.8h0M227.7 932.9h0M221.5 969.1h0M234.4 947.2h0M215.5 964.8h0M243.4 944.6h0M252.5 917.6h0M230.2 938.5h0M241.3 946h0M230.4 942.5h0M247.6 945.6h0M228.5 947h0M242.1 964.6h0M230.3 972.1h0M243.7 929.3h0M231.1 966.1h0M222.2 978.5h0M212.9 939.2h0M222.1 924.8h0M240.9 968.6h0M228.3 946.2h0M240.8 928.8h0M237 978.2h0M213.6 930.7h0M233.1 940.4h0M224.6 954.2h0M217.8 930.4h0M245.7 957.6h0M235.4 957.5h0M235.9 952.9h0M267.3 920.8h0M267.5 931.3h0M240.1 967.5h0M228.8 960h0M218.7 958.7h0M208.1 954.6h0M212 969.4h0M219.4 901.8h0M224 934.3h0M243.3 947.8h0M223 974.1h0M251.8 939.4h0M232.4 941.1h0M247.8 915.6h0M229.3 922.5h0M240.7 926.7h0M232.5 939h0M228.6 968.5h0M249.6 944.4h0M235.1 934.9h0M237 938.2h0M223.9 922.7h0M237.5 945.3h0M231.1 973.9h0M262.3 896.6h0M219.2 970.5h0M221.4 958.2h0M234.6 967.9h0M222.5 962.7h0M224 931.9h0M234.6 941.1h0M202.8 987.9h0M225.8 899.2h0M234.8 936.4h0M219.8 949.2h0M232.6 951.8h0M238.4 936.6h0M244.6 944.3h0M250.2 970.8h0M225.5 952.6h0M208.5 959.8h0M210.5 944h0M238 938.6h0M220.6 976h0M210 940.1h0M218 960h0M239.2 936.1h0M237 933.2h0M217.7 981.7h0M249.6 945.3h0M223.9 932.8h0M214.8 949.2h0M220.7 933.1h0M231.7 944.3h0M222.4 929.7h0M225 962h0M226.8 965.1h0M219.7 962.4h0M221 949.3h0M254.6 959.6h0M238.3 964.5h0M235.8 931.5h0M243.2 945.5h0M214.6 953.9h0M240.4 951.8h0M232.5 962.4h0M227.5 955.5h0M208.7 936.6h0M214.8 982.7h0M228.1 932.4h0M220.9 970.5h0M244.9 928.5h0M216.9 991.4h0M220 968.1h0M238.9 935.5h0M208.2 947.7h0M233 957.7h0M251.3 930.4h0M219 955.8h0M239.3 939.8h0M206 970h0M230.7 974.6h0M208.7 952.8h0M259.5 916h0M255.8 897.1h0M214.4 965.5h0M217.5 948.4h0M222.2 933.4h0M238.1 926.6h0" fill="none" stroke="#404040" stroke-width="2.4" stroke-linecap="round" opacity="0.56"/>
<path d="M107 1053.3L651.5 654.8" fill="none" stroke="#1a1a1a" stroke-width="2.0" stroke-dasharray="17.2 17.4"/>
<rect x="168.6" y="1000.9" width="14" height="14" fill="#000" fill-opacity="0.28"/>
<rect x="174.1" y="995.7" width="14" height="14" fill="#000" fill-opacity="0.28"/>
<rect x="178.4" y="996.6" width="14" height="14" fill="#000" fill-opacity="0.28"/>
<rect x="183.9" y="994.9" width="14" height="14" fill="#000" fill-opacity="0.28"/>
<rect x="189.3" y="991.5" width="14" height="14" fill="#000" fill-opacity="0.28"/>
<rect x="223.1" y="940.9" width="14" height="14" fill="#000" fill-opacity="0.28"/>
<rect x="226.3" y="936.6" width="14" height="14" fill="#000" fill-opacity="0.28"/>
<rect x="229.6" y="933.2" width="14" height="14" fill="#000" fill-opacity="0.28"/>
<rect x="232.9" y="938.3" width="14" height="14" fill="#000" fill-opacity="0.28"/>
<rect x="236.1" y="929.7" width="14" height="14" fill="#000" fill-opacity="0.28"/>
<path d="M150.1 1015.4h14v14h-14zM163.2 1006h14v14h-14zM168.6 1000.9h14v14h-14zM174.1 995.7h14v14h-14zM178.4 996.6h14v14h-14zM183.9 994.9h14v14h-14zM189.3 991.5h14v14h-14zM198 990.6h14v14h-14zM208.9 970h14v14h-14zM219.8 967.5h14v14h-14zM228.5 964h14v14h-14zM223.1 940.9h14v14h-14zM226.3 936.6h14v14h-14zM229.6 933.2h14v14h-14zM232.9 938.3h14v14h-14zM236.1 929.7h14v14h-14zM239.4 917.8h14v14h-14zM242.7 948.6h14v14h-14zM247 945.2h14v14h-14zM252.5 921.2h14v14h-14zM273.2 926.3h14v14h-14zM301.5 898h14v14h-14zM322.2 865.5h14v14h-14zM388.6 841.5h14v14h-14zM430 794.3h14v14h-14zM519.3 736.1h14v14h-14zM519.3 776.3h14v14h-14z" fill="none" stroke="#181818" stroke-width="2.2"/>
</g>
<path d="M215.9 1053.3v-5.5M215.9 624.8v5.5M324.8 1053.3v-5.5M324.8 624.8v5.5M433.7 1053.3v-5.5M433.7 624.8v5.5M542.6 1053.3v-5.5M542.6 624.8v5.5M107 967.6h5.5M651.5 967.6h-5.5M107 881.9h5.5M651.5 881.9h-5.5M107 796.2h5.5M651.5 796.2h-5.5M107 710.5h5.5M651.5 710.5h-5.5" fill="none" stroke="#444" stroke-width="2.0"/>
<path d="M107 624.8V1053.3" stroke="#4a4a4a" stroke-width="2.2" stroke-linecap="square"/>
<path d="M107 624.8H651.5" stroke="#333" stroke-width="2.0" stroke-linecap="square"/>
<path d="M651.5 624.8V1053.3" stroke="#383838" stroke-width="2.1" stroke-linecap="square"/>
<path d="M107 1053.3H651.5" stroke="#444" stroke-width="2.2" stroke-linecap="square"/>
<text transform="translate(107 1089.2) scale(1.04 1.035)" text-anchor="middle">0</text>
<text transform="translate(215.9 1089.2) scale(1.04 1.035)" text-anchor="middle">0.1</text>
<text transform="translate(324.8 1089.2) scale(1.04 1.035)" text-anchor="middle">0.2</text>
<text transform="translate(433.7 1089.2) scale(1.04 1.035)" text-anchor="middle">0.3</text>
<text transform="translate(542.6 1089.2) scale(1.04 1.035)" text-anchor="middle">0.4</text>
<text transform="translate(651.5 1089.2) scale(1.04 1.035)" text-anchor="middle">0.5</text>
<text transform="translate(99.2 1064.4) scale(1.04 1.035)" text-anchor="end">0</text>
<text transform="translate(99.2 978.7) scale(1.04 1.035)" text-anchor="end">10</text>
<text transform="translate(99.2 893) scale(1.04 1.035)" text-anchor="end">20</text>
<text transform="translate(99.2 807.3) scale(1.04 1.035)" text-anchor="end">30</text>
<text transform="translate(99.2 721.6) scale(1.04 1.035)" text-anchor="end">40</text>
<text transform="translate(99.2 635.9) scale(1.04 1.035)" text-anchor="end">50</text>
<clipPath id="cD"><rect x="853.3" y="624.6" width="544.7" height="428.5"/></clipPath>
<g clip-path="url(#cD)">
<path d="M959.4 942.9h0M966.2 940.3h0M936.8 962.1h0M967.3 959.2h0M947.9 970.8h0M1033.3 938.2h0M970.7 959.1h0M971.2 864.4h0M998.9 935.8h0M964.9 963h0M1005.8 944.4h0M959.4 947.4h0M992.6 947.4h0M927.4 970.6h0M922.7 971.2h0M943.4 960.7h0M1018.2 959.4h0M1007.1 955.9h0M933 964.5h0M912.4 978.2h0M1010.2 949.7h0M948.8 958.2h0M925.3 965.4h0M961.5 950.5h0M973 951h0M1009.9 933.3h0M966.9 943h0M977.4 952.3h0M994.2 944.5h0M919.7 974.2h0M943.5 971.5h0M955.8 958.9h0M1087.1 921.4h0M921.9 974.8h0M957.7 952.6h0M953.2 964.1h0M1011.4 923.9h0M959.5 946.5h0M956.6 961h0M1036.3 937.1h0M1000.9 927.7h0M944.8 964.3h0M941.5 965.3h0M959.7 939h0M1013.5 947.6h0M943.2 967.3h0M979.6 940.4h0M912.8 985h0M943.5 950.2h0M954.1 961.3h0M941.6 973.7h0M924.6 973.3h0M925.8 967.6h0M973.5 959.8h0M950.7 953h0M949.1 956.7h0M915.5 980.2h0M924 970.6h0M937.1 963.7h0M890.5 1002.6h0M944.6 955.7h0M992.3 941.8h0M959.8 943.3h0M962.8 957.8h0M1008.9 919.4h0M959.7 956.1h0M1041.3 936.4h0M940.6 962.2h0M1023.3 922.1h0M943.5 966.8h0M968.5 955.8h0M997.5 935.6h0M986.9 965.9h0M942.7 949h0M978 937.4h0M951.8 956.4h0M932.4 981.7h0M1003.3 930.6h0M967.8 947.9h0M955.3 958h0M910.4 982.1h0M978.8 935.4h0M961.5 958.7h0M920 985.6h0M893.9 995.4h0M978.2 948.8h0M945.2 954.7h0M956.6 947.3h0M1014.5 946.7h0M897.3 990.5h0M925.1 975h0M992.5 931.8h0M983.7 954.6h0M927.8 975.5h0M934.9 962.1h0M920.5 1003.1h0M994.2 943.9h0M909.3 981.8h0M908.1 977.4h0M1079.1 913.3h0M1064.3 905.1h0M1040 936.1h0M989.4 960.8h0M946.8 951.3h0M991.3 942.3h0M908.1 990.2h0M1027.3 935.4h0M928.9 960.2h0M981.9 954.8h0M969.9 951h0M943.2 946.3h0M990.3 941.5h0M943 957.7h0M963 953.3h0M949.2 959.2h0M927.2 972.2h0M936.3 968.9h0M972.6 947.1h0M896.7 989.1h0M933.3 969.6h0M949.3 940.8h0M991.8 949h0M977.1 945.5h0M911.8 978.4h0M923.5 961.3h0M985.1 964.8h0M916.2 981.5h0M916.6 985.8h0M1081.3 934h0M940.6 960.7h0M950.7 971.5h0M945.8 960.4h0M944.7 964.6h0M1027.6 939.5h0M916.4 972.7h0M993.6 937.9h0M948.1 961.3h0M881.6 1009.7h0M937.9 969.9h0M976.6 964.7h0M958.7 959.9h0M918.2 965.1h0M946.2 959.7h0M910.6 980.6h0M924.1 977.5h0M926.7 964.5h0M972.4 955.8h0M993.7 930.6h0M904.5 982.5h0M900.8 983.4h0M975.8 956.7h0M1078 922h0M918.4 975.1h0M968.2 956.4h0M901.6 992.4h0M905.6 990.6h0M952.4 954.8h0M916.4 980.6h0M1047.2 941.5h0M953.3 964h0M1012.7 951.4h0M967.9 941.1h0M989.7 952.9h0M961 957h0M981.1 961h0M912.5 977.9h0M950.8 950.4h0M975.3 954.2h0M970.6 949.8h0M960.3 966.5h0M948.2 956.5h0M903.2 1003h0M994.8 947.5h0M1067.4 942.8h0M932 961.1h0M939.7 961.5h0M956.9 954.5h0M955.1 960.2h0M929.9 973.6h0M977.3 960.2h0M913 968.6h0M971.1 957.2h0M951.3 947.1h0M993.5 942.7h0M956.4 970.5h0M922.1 970h0M1000.1 943.1h0M995.8 963.5h0M941 953.7h0M976.2 959.7h0M947.2 950.2h0M926 969.2h0M952.4 954.2h0M924.8 977h0M918.4 974h0M971.3 947.9h0M1021.8 931.2h0M933.6 966.8h0M943.5 972.8h0M918.4 989.1h0M972.5 933.1h0M977.2 941.4h0M1022.6 872h0M1018.6 925.6h0M1000.6 941.5h0M981.2 965.6h0M968.9 948.7h0M910.1 979.3h0M928.7 976.1h0M935.2 950.9h0M932.5 973h0M1016.2 943.7h0M970.1 950.4h0M1088.5 911.8h0M926.4 976.8h0M984.9 942.7h0M1097.1 916.7h0M915.1 984.2h0M957 936.5h0M933 966.6h0M947.5 956.6h0M924.2 983h0M909.7 972h0M913.7 982.8h0M914.5 981.8h0M920.3 986h0M945.3 966.6h0M946.1 957.1h0M963.8 958.4h0M995.8 947.1h0M963.6 947.7h0M945.3 954.6h0M1025.3 930.7h0M927 970.2h0M963.7 947.4h0M1007.6 946.1h0M999.8 937.3h0M928.6 968.6h0M994.4 954.5h0M924.5 981.3h0M1008.6 946.9h0M942.9 944.6h0M1046.9 928.7h0M956.1 943.7h0M964.2 952.6h0M905.3 993.4h0M956 944.4h0M959.3 957.4h0M999.1 939.2h0M947.4 968.5h0M990 945.1h0M913.6 993.4h0M946.5 964.3h0M995.5 941h0M959.7 940.2h0M951.2 959.7h0M915.2 963h0M898.1 997.8h0M927.2 971.8h0M989.5 954.1h0M912.4 980.1h0M914.9 980.3h0M949.2 961h0M907.7 983.6h0M919.4 977.2h0M910.4 987.8h0M1112.5 917.8h0M1001.2 954.4h0M977.6 940.2h0M908 992.2h0M948 957.2h0M1002.3 942.2h0M917.8 977.9h0M1039 935.2h0M962.8 948.4h0M965.5 942.1h0M1007.4 935.5h0M933.7 963.4h0M911.7 981.4h0M964.5 946.8h0M902.6 991h0M956.2 959h0M892.7 998.2h0M943.5 955.2h0M1060 917.3h0M941.3 942.3h0M939.4 961.4h0M945.6 957h0M944.2 959.8h0M917.1 964.8h0M977.5 953.6h0M944.6 961.6h0M1048.8 936.6h0M929.9 973.7h0M988.2 955h0M948.1 960.6h0M914.2 960.8h0M923.3 973.4h0M917.1 983.5h0M974 961.1h0M948.4 966.2h0M937.7 962.4h0M966 954.2h0M922.8 968h0M939.6 967h0M914.5 969.5h0M1085.2 940.2h0M945.3 956.4h0M962.5 960.9h0M975.4 950.8h0M913.9 988.4h0M981.4 969.7h0M893.3 991.9h0M918.9 978.5h0M951.6 964.5h0M940 971.3h0M1023.3 933h0M967.3 966.6h0M943 966.9h0M966.9 954.3h0M982.3 943.3h0M938.1 972.2h0M926.5 960.4h0M989.7 936.6h0M975.6 949.4h0M963.4 963.4h0M937.7 976.2h0M942.7 959.4h0M972.7 957.7h0M940.4 959.5h0M1004.5 948.5h0M923.4 987h0M988.9 935.8h0M983.1 964.2h0M954.5 956.7h0M999.4 938.1h0M959.5 964.8h0M942.4 969.1h0M958.4 960.4h0M916.8 969.2h0M940.9 959.1h0M954.8 958.7h0M951.3 956h0M905.1 999.9h0M1013.4 938.3h0M979.8 940.3h0M897.4 989.5h0M932.3 976.9h0M992.2 928.9h0M945.4 963.3h0M923.4 962.9h0M930.6 965.6h0M925.1 982.9h0M955 961h0M918.3 979.6h0M1077.7 927.8h0M911.1 986.7h0M997.8 948.4h0M891.5 1003h0M930.5 958.7h0M949.9 986.3h0M950.6 958.6h0M926.4 962.3h0M1013.5 930.5h0M973.2 971.4h0M903.9 981.1h0M949.7 975.9h0M973.1 950.6h0M936.3 966.3h0M930.2 976h0M977.6 946.4h0M1004.1 931.6h0M933.5 978h0M930.3 972.9h0M1010.7 929.3h0M953.2 964.5h0M922.7 969.9h0M988.1 951.2h0M943.8 956.3h0M923.9 990.1h0M978.1 947.8h0M965.1 965.4h0M948.9 972.2h0M920 981.5h0M975.8 958.5h0M942.9 961.7h0M900.5 992.7h0M919.3 978.9h0M926.3 989.4h0M999.1 958.4h0M1030.3 889.3h0M981.5 956.8h0M939.7 972.5h0M914.2 982.4h0M936.2 961.8h0M991.3 939.9h0M927.4 978.3h0M979.1 947.5h0M980.1 937.6h0M961.9 969.9h0M928.2 968.6h0M1114.6 907.6h0M919.7 978.9h0M946 964.6h0M939.3 964.2h0M926.4 979.5h0M985.5 957.9h0M972.1 952.8h0M918.8 971.6h0M922.1 975.6h0M920.7 971.9h0M944.7 963.5h0M903.3 1000.9h0M951.2 957.8h0M983.2 939.1h0M984.4 937.2h0M949 985.4h0M950.3 967.2h0M971.9 935h0M1009.4 940.1h0M1015.1 929.1h0M969 937h0M961.1 954.8h0M943.1 960.6h0M941.6 979.3h0M910.1 978.5h0M932.5 976.9h0M929.3 972.4h0M940.9 948.5h0M970.2 955.2h0M918.5 976.3h0M966.4 956.6h0M973.8 946.8h0M954.6 967.6h0M914.1 984.8h0M970.7 956.2h0M921.5 967.2h0M917.6 969.2h0M983.2 955.4h0M930.4 973.3h0M913.4 983.1h0M943.1 963.2h0M910 985.1h0M1081.7 926.7h0M963.8 962.1h0M964.6 948h0M921.8 980.3h0M936.2 968.3h0M967.1 969h0M943.9 969.3h0M940 960.2h0M1002.7 944.6h0M910.4 987.1h0M1051.3 931.7h0M949 951.4h0M965.5 952.6h0M960.4 957.2h0M982.9 939.7h0M964.8 977.9h0M914.6 984.4h0M976.5 936.7h0M960.8 966.4h0M928 981.8h0M951.6 961.8h0M924.2 902.3h0M1026.7 951.2h0M1005.6 946.7h0M903.2 991.3h0M958.5 945h0M999.5 950.7h0M952 947.2h0M924.1 966.4h0M943.7 971.1h0M915.2 989.8h0M956.4 969.2h0M913.9 980.6h0M938.4 959.7h0M949.9 967.2h0M1063.2 926.4h0M966.5 961.6h0M950.2 967.5h0M948.5 945.6h0M943.9 958.1h0M926.9 974.9h0M949.4 964.3h0M1038.6 939.9h0M917.7 974.2h0M934.8 956h0M943.4 960.5h0M934.7 973.9h0M938.9 971h0M909.9 978.2h0M956.3 969.5h0M995.6 958.2h0M882 1014.8h0M940.8 955.9h0M952.6 952.2h0M958.3 950.9h0M978.2 943.8h0M961.1 962.8h0M945.9 962.2h0M911.1 981.7h0M1087.7 934.7h0M946.2 958h0M985.8 941.1h0M1000.4 964.9h0M941.2 958.4h0M966.4 946h0M912.9 989.7h0M943.5 955.3h0M928.9 967.2h0M1248.1 906h0M918.2 963h0M972.2 943.6h0M961.5 955.8h0M899.8 988.2h0M917.3 981.5h0M943.9 963.8h0M1085.2 929.8h0M955.2 952.9h0M965.4 942.2h0M934.5 966.5h0M931.5 987.7h0M1066.4 937.6h0M890.5 1002.1h0M933.8 961.1h0M910.6 987.9h0M1016.1 919.2h0M952.1 955.5h0M970 963.5h0M939 980.6h0M972.2 944.6h0M915.6 978.1h0M925.9 985.6h0M941.2 964h0M917.9 972.6h0M968.8 955.1h0M933.3 963.2h0M947 974.7h0M970.1 936.9h0M923.7 974.7h0M1020.1 932.7h0M907.3 987.7h0M919 970.9h0M960.5 953.4h0M922 974.9h0M913.8 972h0M1003.7 936.7h0M924.9 967.7h0M976.7 951.1h0M975 950h0M1135.4 908.8h0M949.7 960.6h0M950.9 952.6h0M942.7 954.2h0M954.4 974.3h0M929.3 971.7h0M937.7 956.8h0M1003.5 936.6h0M941.2 974.3h0M907.4 986.1h0M999.9 952.1h0M983.3 931.8h0M931.6 974.4h0M1038.1 941.3h0M946 965.9h0M968.7 977.6h0M919.3 970.2h0M1044 941.1h0M1028.3 946.4h0M978.6 933.1h0M1049.6 947.6h0M1061.3 926h0M962.8 952h0M951.1 944.5h0M915.5 972.9h0M941.2 969.6h0M946.3 972.4h0M946.2 966h0M929.5 970h0M986.5 967.5h0M918.8 969.3h0M1124.4 904.1h0M959.2 951.1h0M947.1 962.7h0M946.8 948h0M916.2 972.1h0M934.8 987.5h0M909.1 983.2h0M975.4 964.9h0M1001.4 960h0M921.6 974h0M912.2 983.1h0M928.5 968h0M937.1 976h0M1039.8 924.2h0M908.9 987.2h0M994.5 949.8h0M938.9 964.4h0M975 962.7h0M936.9 948.5h0M944.2 968.2h0M1037.7 934.8h0M961.8 951.1h0M920.7 970.9h0M945.8 957.4h0M948.8 957.6h0M916.4 985.4h0M922.1 972.2h0M918.4 974.6h0M1053.6 942.6h0M955.7 951.4h0M1029 951.4h0M919.4 982.8h0M932.7 971.7h0M1074.8 901.2h0M960.8 950h0M967.9 938.8h0M956.2 962.6h0M952 967h0M951.3 952h0M965.8 957.6h0M1049.2 956h0M998.9 947.2h0M933.3 979.1h0M925.9 970.6h0M968.8 943.2h0M978.3 945h0M949 950.6h0M916.8 975.1h0M909.3 990.3h0M940.6 959.7h0M949.8 962.3h0M932.6 975.4h0M911.5 986.3h0M939.1 972.3h0M949.2 956.9h0M997.6 933h0M989 948.5h0M933.3 965.1h0M920.2 968.1h0M934.9 971.6h0M992 951.2h0M976.3 946.2h0M957.8 946.5h0M927.4 992h0M958 951.6h0M922.8 977.5h0M904.1 994.9h0M971.5 942h0M994.9 954.9h0M953.2 965h0M1012.9 946.7h0M946.1 975.8h0M924.9 979.6h0M896 1010.7h0M1006.8 941.7h0M941.3 980.1h0M946.1 965.8h0M930.5 971.3h0M921.4 969.2h0M939.2 961.9h0M938 958.8h0M890 992.6h0M931.2 958.8h0M938.8 971h0M960 952h0M911.3 992.5h0M919.6 979.2h0M954.9 942.2h0M964.5 945.3h0M933.1 969.6h0M943.4 972.7h0M944.3 965.8h0M993.6 947.4h0M999.7 932.1h0M910.9 980.7h0M956.3 957.1h0M944.2 966.1h0M900.4 983.8h0M994.2 936.2h0M1052.4 935.2h0M909.7 991.2h0M938.4 958.5h0M1044.9 937.9h0M945 959.7h0M1047.7 924.7h0M929.4 959.9h0M982.9 965.8h0M965.6 943.3h0M950.8 953.5h0M944.3 980.6h0M1035.4 933.5h0M1013 939.9h0M972.6 950.2h0M933 981.5h0M962.4 949h0M981.9 937.9h0M907.7 991h0M954.5 966.9h0M976.1 942.6h0M924.2 981.9h0M904.3 983.4h0M972.6 967.1h0M942.6 954.5h0M921 977.9h0M948.5 966h0M911 976.4h0M1034.1 935.6h0M924 972.4h0M939.6 950.9h0M964.5 946.2h0M1059.1 932.9h0M939.5 977.4h0M915 982.3h0M1052.5 941.2h0M967 955h0M976.8 957.3h0M939 968.1h0M948.9 953.6h0M950.3 943.9h0M928 974.9h0M963.3 952.1h0M929.2 975.5h0M1024.6 935.8h0M985.9 951.5h0M909.6 993.8h0M927.8 970.2h0M967.2 957.2h0M918 983.3h0M968.5 968.5h0M967.1 935.8h0M936.1 962h0M983.2 946.9h0M928.7 981.3h0M1001 945h0M939.8 979h0M990 951.4h0M943.5 967.5h0M939.8 957.6h0M984.3 951.9h0M967 946.9h0M916.8 980.4h0M954.3 964.9h0M982.5 940h0M998.4 946h0M953.7 955.6h0M962.5 966.4h0M911.4 979.6h0M1009 931.3h0M944.6 955h0M995.4 940.3h0M983.7 960h0M927.3 961.3h0M956.5 955.9h0M936.2 981.5h0M950.4 965.7h0M970.4 944.7h0M915.7 968.9h0M954.8 952.2h0M921.2 987.8h0M967.5 956.7h0M947.3 950.8h0M971.2 946.2h0M943.3 971.8h0M931.8 967.5h0M902 984.7h0M932.5 966.4h0M961 952.2h0M998.8 947.1h0M949.6 970.7h0M926.5 973.1h0M1036.2 942h0M928 963.3h0M956 949.4h0M1035.4 930.2h0M966.5 958.8h0M939.2 957.1h0M947.2 963.2h0M943.3 946.7h0M918.5 981h0M980.9 958.8h0M918.9 979h0M960.5 943.6h0M963.9 952.1h0M927.1 978.1h0M958.8 976.8h0M905.6 985.3h0M904 988.2h0M993.7 930.3h0M1042.7 936.4h0M998.1 943.1h0M976.6 943.9h0M937.6 965.7h0M939.4 970.5h0M943.8 963.1h0M973.5 938.3h0M916 981h0M1035.3 934.7h0M954.8 975.9h0M958.3 976.1h0M931.1 977.5h0M912.9 975.8h0M1096.3 913.2h0M910.1 985.3h0M1068.5 915.3h0M951.1 959.9h0M934.5 967.6h0M1022.4 953h0M945.3 957.5h0M928.8 971.5h0M903.7 992.5h0M923.4 964.6h0M993.2 942.9h0M934.7 976.5h0M972.9 951.2h0M979.3 950.2h0M892.2 1003h0M1001.6 939.3h0M933.9 967.3h0M936.9 965h0M967 958.1h0M942.3 972.6h0M994.9 963.8h0M1020 931.3h0M954.5 945.6h0M918.4 980.7h0M932.7 973.2h0M949.5 973.9h0M919.9 979.6h0M963 942.2h0M916.9 975h0M888.7 993.7h0M970 960.5h0M965.1 952.6h0M919.9 982.2h0M991.9 943.5h0M901.5 992.9h0M908.8 984.3h0M961.5 947.8h0M954.8 970.1h0M910 997.3h0M1010.5 924.8h0M927.1 968.7h0M894.9 989.9h0M930.2 977.3h0M920.5 967.1h0M933 968.2h0M954.6 938.1h0M998.3 941.4h0M916.4 975.4h0M898.3 994.7h0M951.4 943.3h0M920.7 973.6h0M1006.9 923.7h0M914.7 981.5h0M1108.3 917.8h0M929.1 977.8h0M956.7 956.5h0M939.2 961.6h0M947.8 974.9h0M953.1 966.3h0M944.5 957h0M949.9 952.3h0M962.4 939.9h0M914.6 973.5h0M922.5 987.6h0M914.2 981.7h0M961 942.4h0M935.6 964.9h0M957.6 957.4h0M907.9 975.9h0M938.1 971.3h0M916 987h0M968.8 941h0M965.5 967.6h0M972.8 957.3h0M1016.4 948.6h0M962 952.4h0M912.7 985.2h0M971.2 943.9h0M917.1 972h0M1036.4 940.6h0M994.7 949.5h0M1023.3 947.4h0M893.6 1001.5h0M949.3 952.3h0M950.1 971h0M904.5 982.3h0M960.8 941.3h0M988.4 938.4h0M924.7 976.9h0M1050.2 916.6h0M935.6 973h0M1008.4 939.4h0M1030.9 924.5h0M908.3 985.6h0M985.3 944.8h0M925.2 976.4h0M989.2 948.9h0M953.9 960.7h0M953.4 969.9h0M982 962.4h0M983.8 945h0M976.8 962.5h0M937.4 968h0M1031.5 945h0M901 987.7h0M940 949.3h0M927 967.2h0M971.9 950.9h0M1039 938.4h0M957.6 946.2h0M909 980.5h0M1016.4 961.7h0M936.5 970.8h0M967.2 934.9h0M931.2 971.8h0M1005.4 944.8h0M1005.7 936.1h0M920.6 991.1h0M945.8 965.2h0M931.4 981.3h0M906.3 996.4h0M909.4 985.3h0M903.3 986.6h0M944.8 967.6h0M923.1 973.3h0M981.7 895.3h0M924.9 972.8h0M972.3 959.5h0M993.3 943.9h0M897.1 989h0M898.3 986.2h0M919.4 978.6h0M937.1 960h0M945.6 965.1h0M935 977.5h0M959.3 948.4h0M940.6 951.2h0M988 929h0M961.1 971.6h0M895.4 995h0M1013 940.4h0M974.7 962.7h0M969.1 949.1h0M911.9 973.9h0M908.8 983.7h0M931.9 967.2h0M963 957h0M897.5 993.8h0M919.3 966.4h0M930.2 960.1h0M894.1 993.5h0M889.9 995.5h0M1058.3 925.6h0M919.9 970h0M911.5 974.6h0M945.6 941.7h0M931.8 968.7h0M919 972.3h0M986 942.7h0M944.1 954.8h0M929.7 968.1h0M944.8 970.3h0M950.1 955.2h0M967.3 939.3h0M976.8 950.1h0M1046.8 938.2h0M995.1 939.8h0M1088.3 944h0M1145.9 917.9h0M1047.2 929.7h0M1053.9 919h0M1100.9 920.7h0M1139.5 908.5h0M1143.1 908.7h0M1004.6 948.7h0M1233.7 899.7h0M1034.6 940.8h0M1066.2 932.5h0M1266.1 893.8h0M1056.6 914.1h0M1253 881.4h0M1131.2 897.2h0M991.3 953.6h0M1043.1 935.3h0M1003.4 947.4h0M1146.8 921.4h0M1125.6 923.1h0M1108.8 903.6h0M982.5 937.8h0M1195.8 906.1h0M1334.6 877.1h0M1320.5 907.7h0M1188 901.5h0M1331.7 897.4h0M1031 948.3h0M1194.1 887.9h0M1142.2 898.3h0M1104.6 897.7h0M1022 946.6h0M1048.1 929.4h0M1135.2 908.8h0M1094.1 923.8h0M970.9 961.4h0M1052 930.9h0M1244.2 871.6h0M964.7 955h0M1174.9 914.4h0M1036.3 942.5h0M1084.7 910.9h0M1002.8 939.4h0M1047.9 954.3h0M1042.6 942.2h0M993 879.8h0M1089 915.9h0M1056.3 931.8h0M1158.9 908.5h0M996.2 943.7h0M1129.4 928.8h0M1246.9 907.6h0M1063.2 932.3h0M1034.1 929.9h0M1017.7 931.4h0M1024.3 939.7h0M1332.8 876.7h0M1017 949h0M1147.3 903.8h0M1102.1 928.3h0M1157.7 904.2h0M1101.5 915.3h0M1219.7 900.9h0M1160.5 899.9h0M1117.3 884.7h0M1279 896.9h0M1260.3 904.7h0M1044.4 919.7h0M1022.2 929.7h0M1000.8 934.7h0M1209.6 922.4h0M1000.3 933.8h0M1200.8 913.9h0M1126.9 895.2h0M1029.5 947.6h0M1168.2 927h0M1104.5 903.1h0M1121.3 918.6h0M1014.3 930.8h0M1070 919.7h0M1109.6 913.7h0M997.1 926.2h0M1127.5 901.6h0M976.6 965.2h0M1007 961h0M1188.7 909.4h0M1147.6 909.2h0M1136.3 909.4h0M1033.1 933.1h0M1144.9 903.9h0M1053.9 924.2h0M1184.4 910.5h0M1190.9 890.5h0M1138.8 927.2h0M1034.3 930h0M1139.4 909.9h0M1052.3 939.5h0M1029.5 938.3h0M1332.4 893.2h0M1116 897.3h0M1068.9 907.4h0M1051.1 936.9h0M1025 942.5h0M1179.6 908h0M1250.9 898.6h0M1065.5 928h0M1060.2 920.3h0M1195.3 884.4h0M1073.9 913.6h0M1095.9 930.9h0M1128.3 929.6h0M1153.3 913.8h0M1067.6 926.4h0M1012.8 942.4h0M1085.3 929.6h0M1120.6 907.7h0M1122 885.8h0M1036.1 921.1h0M980.5 945.7h0M1063 924.7h0M1243.7 905h0M981.1 948.9h0M1167.1 921h0M1025.6 937.7h0M1089.8 913.3h0M1100 913.7h0M1188.7 913.9h0M969.1 959.3h0M1272.4 888.3h0M1058.9 943h0M1171.3 890.9h0M1274 894.5h0M1108 933.2h0M1232 868.1h0M1062.3 903.7h0M1047.5 918.9h0M1019.2 968.1h0M976.5 959.6h0M1058.1 911.5h0M1073.7 923.9h0M1134 899.9h0M1028.3 946.1h0M978.5 947.3h0M1116.4 884.7h0M1009 943h0M1199.4 898.7h0M1041.1 940.5h0M963.2 954.9h0M1046.4 943.7h0M1008.4 924.5h0M1096.7 915.2h0M1010.5 932.1h0M972 963h0M1157.1 922.6h0M1237.4 909.8h0M1124.5 900.7h0M1011.7 943.8h0M1017.5 939.1h0M1001 922.7h0M1267.6 922.5h0M1277.2 902.7h0M1092.5 934.6h0M1156.6 888.8h0M996.4 938.2h0M1160.2 903.1h0M1082.5 927.5h0M991.8 949.6h0M1015 926.2h0M998.5 940h0M1035.8 924.4h0M1026.7 928.6h0M1190.4 902.9h0M1093.8 923.8h0M1174 897.8h0M1010.8 925.5h0M1246.2 916.7h0" fill="none" stroke="#404040" stroke-width="2.4" stroke-linecap="round" opacity="0.56"/>
<path d="M957.9 959.6h0M958.8 954.4h0M902.9 993.5h0M911.1 985.7h0M997.8 937.9h0M943.8 958.3h0M996.8 954.9h0M937.7 971.8h0M1027.7 949.4h0M960.5 961.8h0M942.7 962.9h0M1045.8 935.2h0M938.9 978.3h0M965.8 940h0M981.2 952.2h0M980.9 944.5h0M960.2 960.7h0M926.6 969.2h0M932.7 974.9h0M981.5 952.3h0M891.6 993.2h0M940.4 958.2h0M937.8 983h0M972.4 942.7h0M949.8 968.7h0M931.9 963.4h0M992 945.8h0M946.8 964.8h0M926.1 977.3h0M950 956.9h0M945 959.8h0M1003 940.6h0M962.5 958h0M1025.1 930.8h0M926.2 975.7h0M1043.9 930.5h0M985.7 931.2h0M998.4 950.2h0M923 928.1h0M1055.7 928.3h0M960.9 944.2h0M924 982.8h0M978.9 946.1h0M950.4 955.2h0M950.4 964h0M956.6 956.2h0M919.7 988.7h0M949.6 963.7h0M941 978.9h0M933.1 963.2h0M904.7 979.7h0M966.8 969.2h0M978.9 937.6h0M921.4 978.7h0M914.1 977.6h0M951.4 957.1h0M931.8 974.3h0M911.8 983.8h0M917.1 966.8h0M938.6 962.9h0M916 964h0M930.5 961.2h0M911.8 986.1h0M1007.1 953.3h0M920.4 963.8h0M952.8 937.5h0M979.7 942.1h0M951 963.3h0M904.6 988.6h0M991.6 941.8h0M931.9 978h0M945.2 958.8h0M956.1 956.8h0M941.5 954.5h0M958.3 955.3h0M967.8 950.9h0M941.1 966.3h0M957.7 948.6h0M976.6 958.9h0M980 934.6h0M1027.5 953.6h0M925 978.5h0M932.1 956.2h0M909.1 986h0M937.6 965.3h0M972 951.3h0M938 974.3h0M939.5 956h0M1026.7 947.4h0M981.9 935.8h0M994.1 973.6h0M1077.8 926.7h0M994.6 941.6h0M893.9 993.7h0M942.3 962h0M979.5 937.4h0M949.4 951.8h0M1006.4 954.4h0M962.9 938.6h0M967.9 957.8h0M917.4 978h0M954.5 968.9h0M963.1 952.8h0M950.6 946h0M905.4 992.9h0M958.4 960.9h0M911.8 974.4h0M960.5 953.6h0M984.6 939.6h0M955.7 959.3h0M975.5 945.2h0M942.1 964.4h0M974.7 953.7h0M933.8 964.9h0M922.2 964.2h0M1027.1 954.5h0M1025.7 937.7h0M975 924.7h0M958.6 959.1h0M942.4 956h0M1018.2 948.2h0M901.8 986.8h0M948.8 957.6h0M943.5 968.9h0M1003.8 937.5h0M895.8 989.2h0M931.1 978.3h0M895.5 994.5h0M1033.7 925h0M920.4 973.2h0M912.7 976h0M953.4 943.2h0M970.8 964.7h0M985.3 934.9h0M988.3 945.9h0M921.9 969h0M1026.4 932.7h0M986.4 946h0M955.7 957.2h0M915.7 967.3h0M967.4 952.4h0M929.5 964.8h0M1076.5 925.8h0M1023.2 934.7h0M968.2 949.5h0M960.2 958.2h0M944.3 971.4h0M997 937.2h0M981.3 938.7h0M1010.5 954.3h0M967.7 952.5h0M1013.8 923.9h0M987.8 957h0M911 975.2h0M924.2 962.1h0M906.1 982.9h0M935.8 978h0M923.8 971.5h0M1015.7 937.5h0M986.1 945.2h0M929.5 978.8h0M1028 954.3h0M903.9 994.9h0M911.8 986h0M945.4 952.4h0M1100.2 923.6h0M906.7 981.8h0M928.8 973.9h0M962.7 938.5h0M958.3 943.8h0M930.4 962.2h0M1002.5 939.5h0M1025.7 933.4h0M923.2 972.4h0M926.4 988.8h0M929.3 980.8h0M968.5 971h0M952.6 951.8h0M909.5 981.3h0M958.8 956.1h0M983.8 977.3h0M990.4 946.7h0M907.4 989.9h0M920.5 976.2h0M987.7 932.5h0M953.5 954.8h0M1005.4 946.7h0M914.5 978.4h0M964.8 972.6h0M938 968.5h0M982.1 951.2h0M957.4 966.1h0M912.2 983.5h0M930.9 965.4h0M912.3 973.5h0M954.7 951h0M1028.4 942.9h0M902.4 989.7h0M997.6 939.3h0M932.7 969.7h0M1003.9 934.2h0M932.3 968.7h0M929 972.3h0M1002.5 958.3h0M1015.3 949.3h0M1018 929.7h0M927.6 980.8h0M928.9 971.7h0M981 971.7h0M965 961.2h0M901.2 940.5h0M932 967.8h0M948.9 952.7h0M949.3 965.1h0M934.3 969.3h0M1027.5 920.8h0M941.7 960.7h0M941.1 982.8h0M988.5 925.6h0M932.1 971.1h0M986.6 949.1h0M980.7 955h0M1027.9 959h0M948.9 959.3h0M975.4 962.6h0M907.5 977.3h0M971 955.4h0M924.6 967.8h0M942.9 963.8h0M927.4 972.7h0M923.4 979h0M923.6 990.5h0M974.9 957.5h0M1055.2 935.2h0M939.2 980.9h0M961.6 949.1h0M897.2 994.6h0M881.3 1009.1h0M1024 918.9h0M968.1 966.4h0M951 962.4h0M924.7 967.6h0M1034.4 938.2h0M947.6 955.6h0M968 954.1h0M909.1 982h0M940.8 953h0M998.4 952.8h0M959.1 956.7h0M917.8 970.6h0M1041.1 944h0M903.9 980h0M981.3 948.6h0M920.8 973.7h0M935.6 981.7h0M964.5 945.2h0M997.6 960.8h0M959.2 949.6h0M924 973h0M958.5 960.7h0M997.9 953.2h0M915.7 977.1h0M938.6 969.8h0M1012 946.8h0M1003.6 949h0M923 978h0M923 981.1h0M945.9 964.8h0M980.4 935.3h0M933.9 974.6h0M950.5 961.3h0M934.1 968.9h0M922.6 974.9h0M982.3 948.7h0M918.8 985.4h0M969.4 950.2h0M927.9 974.3h0M932.6 971.5h0M986.1 948.4h0M934.5 979.9h0M961.6 957.4h0M923.4 971.4h0M950.6 946.9h0M929.8 976.4h0M940.7 964.5h0M912.1 970.9h0M939.4 971.9h0M969 949.7h0M975.7 956.1h0M1021.9 959.9h0M921.9 969.9h0M984.9 950.9h0M949.4 965.7h0M957.9 957.6h0M999.8 944.8h0M1024.6 943.9h0M982.5 945.6h0M1017.3 939.5h0M948.8 968.4h0M902.1 988.3h0M917.2 984.5h0M947.6 987.4h0M1004.5 953.7h0M964.9 935.9h0M982.6 951.7h0M1002.7 914.8h0M971.2 956.7h0M943.6 956.5h0M896.1 995.2h0M997.5 954h0M918.2 978.5h0M924.4 971.5h0M895.8 992.4h0M933.4 967.9h0M927.4 988.8h0M933.6 976h0M911.7 985.4h0M947.2 961.9h0M936.1 966.8h0M941.7 975.2h0M953.2 962.8h0M1008.4 941h0M961.1 962h0M906.4 983.7h0M934.8 971.8h0M1016 943.7h0M1002.8 962.2h0M935.8 959.4h0M966 964h0M1017.3 922.1h0M959.4 943.3h0M912.8 985.1h0M902.9 991.7h0M913.8 967.7h0M1024.7 945.5h0M942.8 969h0M998.2 922.1h0M938.8 964.3h0M1031.6 933.6h0M897.5 995.5h0M1102.9 915.9h0M934.8 984.7h0M939.8 964.9h0M934.3 966.9h0M936.2 982.3h0M960.9 953.5h0M915.9 974.3h0M992.6 959.6h0M1024.6 913.3h0M978.2 941.8h0M999.5 935.2h0M1047.4 930.7h0M976.3 955.1h0M967 947.7h0M935.6 966.9h0M928.1 982.9h0M964.2 949.9h0M939.4 977.1h0M916.6 975.8h0M950.4 959.1h0M908.6 982.9h0M947.2 967.2h0M946 962.5h0M965.1 943.1h0M949.6 958.8h0M1002.5 942.5h0M943.4 964.7h0M977.1 934.3h0M942.3 964.8h0M973.6 948h0M919.7 969.7h0M987.1 957.8h0M980.2 945.3h0M914.2 991h0M936.8 973.2h0M975.1 955.1h0M913.7 980.9h0M929.6 959h0M943.8 958.7h0M944 960.9h0M998.5 936.4h0M941.2 974.5h0M929.9 965.6h0M925 970.2h0M954.3 960h0M917.5 965.5h0M911.3 935.7h0M912.6 977.4h0M991 951h0M972.9 966.3h0M951 966h0M1084.7 935.8h0M1025.7 943.1h0M935.9 965.9h0M927.6 965.2h0M1027.2 935.6h0M951.7 976.4h0M939.4 949.2h0M917.8 984.7h0M1008.5 942h0M901.9 995.6h0M993.4 948.8h0M936.1 968.7h0M999.1 938.6h0M911.6 978h0M943.5 981.8h0M947.6 960.4h0M910.2 971.8h0M935.2 966.2h0M929.1 986.6h0M993 965.9h0M914.1 975.8h0M905 978.6h0M958.1 961.8h0M943.4 950.7h0M980 958.2h0M965.3 947.8h0M926.5 981.1h0M997.6 941.5h0M956.3 959.8h0M931.4 966.9h0M916.6 995.5h0M944.6 942h0M913.1 979.5h0M948.3 950.8h0M961.1 941.9h0M1008.6 944.1h0M1013.2 928.7h0M915.8 973.3h0M940.9 965.8h0M947.3 960.6h0M1009.7 947.5h0M983.9 955.8h0M910.3 979.2h0M950.9 943h0M973.9 951h0M930.6 977h0M965 957.2h0M964.2 968.1h0M910.5 973.8h0M942.4 966h0M950.7 962.8h0M1003.2 935.2h0M945.4 946.5h0M975.4 951.7h0M1092.5 916.4h0M931.2 963.7h0M948.5 949.9h0M927.4 973.4h0M931.9 972h0M1049.5 933.5h0M932.8 979.9h0M1023.8 927h0M940.3 979.9h0M1035.7 939h0M959.7 956.2h0M987.6 948.9h0M932.3 967h0M922.1 980.7h0M1053.3 934.6h0M974.3 959.3h0M925.3 984.8h0M910.8 979.2h0M991.6 941.5h0M953.4 962.9h0M955.3 961.8h0M943.7 958.8h0M919 981.7h0M956.4 950.7h0M959.3 956h0M929.3 976.7h0M977.5 955.6h0M986.1 944.9h0M917.6 984.8h0M954.8 981.1h0M946.6 970.5h0M957 955.8h0M1032.2 949.8h0M916.3 980.5h0M926.6 960.7h0M963.7 959.4h0M1026.1 940h0M895 1003.1h0M953.5 963.1h0M998.2 940.6h0M940.2 983.5h0M960.2 952.3h0M934.7 968.1h0M911.6 974.9h0M933.7 975.4h0M909.8 974h0M1002.7 962.4h0M972.9 945.4h0M956.8 975.5h0M940.7 967.4h0M987.3 941.4h0M941.9 961.1h0M922.6 980.6h0M936.7 967.8h0M916.9 971.2h0M943.3 969.4h0M923.3 975.8h0M950.6 958.7h0M927.4 977.5h0M969.2 954.1h0M941.2 953.6h0M1054.3 929.8h0M1010.3 938.4h0M968.5 953.9h0M953.1 956h0M954.3 963.9h0M966.1 968.8h0M925.1 979.1h0M963.8 955.3h0M935.6 973.2h0M1016.4 950.1h0M972 969.3h0M985.5 945.6h0M992.5 941.4h0M1005.8 936.7h0M908.2 983.5h0M941.2 969h0M990.7 944.9h0M1001.6 934.2h0M985.5 964h0M1045.1 930.3h0M965.7 960.7h0M900.6 987.6h0M974 943.7h0M985.6 948.3h0M967.4 954.9h0M1025.7 937.8h0M926.2 976.2h0M1127.7 906.3h0M931 965.5h0M978.5 942.9h0M967 957.5h0M1009.8 957.1h0M1012.8 942.9h0M932.2 973.1h0M945.5 960.1h0M925.7 978h0M1011.5 943.1h0M981.5 952.7h0M947.8 957.1h0M961.4 955.8h0M1015.9 941.3h0M968.3 956.1h0M969.5 954.3h0M961.9 956.2h0M967.5 946.7h0M912.3 978.9h0M937.5 995.3h0M974 946.3h0M987.9 935.3h0M931.1 974.1h0M1007.1 935.2h0M929 957.3h0M929.5 976.4h0M930.4 961h0M1019.6 928.7h0M949.8 979.7h0M900.2 997.2h0M959 943.3h0M933.5 971.9h0M904.7 979.6h0M1027.4 935.3h0M904 955.4h0M929.8 975.1h0M938.3 958.7h0M952.1 957.8h0M913.7 971.6h0M1034.6 896.3h0M920.3 977.3h0M918.2 974.7h0M982 966.6h0M1036.1 918.6h0M1005.8 949.1h0M948.5 951.8h0M977.9 964h0M1034.4 954.2h0M956.6 947.9h0M954.3 970.4h0M971.9 959.1h0M917 966.5h0M938.8 966.4h0M914.6 992.7h0M993.4 950.2h0M945.8 956.1h0M965.6 964.9h0M928.3 974.3h0M1148.1 900.5h0M981.6 930.6h0M906 978.7h0M911.9 979.1h0M918.7 960.5h0M1005.3 929.9h0M978.4 963.3h0M939.5 942.9h0M949.2 962.9h0M957.2 957.8h0M949.5 960.9h0M1034.4 953.1h0M943.5 958.6h0M1002.7 952.1h0M957.9 964.1h0M897.2 991.3h0M1087.2 913.2h0M960 947.2h0M961.4 955.6h0M967.5 959.4h0M983.5 959.1h0M951.8 941.1h0M985.1 946.3h0M1081.7 920.9h0M977.9 941.1h0M929 975.5h0M921.4 984h0M1073.9 917.3h0M1020.8 955.5h0M973.5 943.6h0M974.6 958.9h0M1001 937.6h0M933.2 952.6h0M918.1 969.5h0M987.6 931.7h0M963.7 942.6h0M933.7 984.1h0M903 983.3h0M945.2 962.9h0M947 964.7h0M937 958.6h0M957 959.9h0M947.7 965.3h0M1065.6 912.6h0M991.3 943.9h0M961.4 956h0M911 978.9h0M923.2 985.9h0M949.8 956h0M951.1 950.3h0M932.4 984.5h0M931.1 974.4h0M999.2 951.3h0M969.2 936.8h0M946.5 967.3h0M940.2 974.1h0M1058.4 935.4h0M983.8 961.2h0M904.6 989.3h0M984.5 938.7h0M994.1 947.8h0M926.8 971.7h0M960.2 955.2h0M943.3 952.6h0M928.3 971.7h0M913 979.9h0M957.2 973.2h0M927.4 965.8h0M902 977.4h0M992.5 952.7h0M937.9 985.5h0M917.6 973.3h0M967.8 954.4h0M942.1 970.6h0M952.6 967.7h0M948.3 971.5h0M920.1 978h0M921.5 976.3h0M923.5 973h0M1038.4 934.2h0M952.6 955.1h0M979.2 939.4h0M988 960h0M995.4 948.9h0M921.8 983.1h0M1019.2 949.9h0M957.9 957.8h0M957.3 964.6h0M919.1 988h0M1008 946h0M968 967h0M963.1 952.7h0M937.1 967.6h0M945.6 966.8h0M942.3 966.8h0M1012.7 935.2h0M961.2 939.2h0M968 960.7h0M1022.2 927h0M904.3 990.8h0M916.9 983.3h0M932.3 973.1h0M977.6 942.2h0M928.3 972.6h0M980.8 951.9h0M924.4 977.3h0M958.8 958.7h0M1002.2 949.1h0M897.1 989.2h0M988.6 956.1h0M931.7 959.6h0M945.5 960.4h0M910.4 993.4h0M948.2 977.5h0M958.9 948h0M951.3 973.4h0M997.8 952.1h0M924.8 984.2h0M938.7 949.1h0M960 934.9h0M974.1 953h0M899 981.9h0M1023.6 966.8h0M962.5 956.4h0M981.8 962.6h0M948.3 959.7h0M928.8 965.6h0M1024.1 938.6h0M930.7 975.9h0M974.3 956.9h0M933.2 973.8h0M1060.4 915.4h0M922.3 974.3h0M905.8 990.2h0M930.4 976h0M1031.5 930.8h0M1052.2 939h0M965.4 955.8h0M998.2 946.3h0M936.5 967.5h0M991 936.6h0M1026.7 958.5h0M994.5 955.6h0M943.8 959h0M909.3 972.5h0M942.2 967.6h0M956.8 965.5h0M938.2 972.2h0M974 950.7h0M958.9 954.1h0M1028.8 917.5h0M1013.9 933.5h0M994.9 947.7h0M915.6 975.3h0M925.3 985.8h0M907 989.9h0M1121.7 905.1h0M968.7 946.1h0M932.2 962.1h0M950.7 959.6h0M970.5 952.6h0M990.1 933.9h0M945.1 969.1h0M950.2 948.9h0M949.9 956h0M928 966.8h0M946.9 964.9h0M921.9 975.4h0M959.4 955.6h0M916.9 990.7h0M1055.5 922.2h0M947.6 959.6h0M990.8 936.9h0M993.1 942h0M976.9 962.7h0M940.4 971.8h0M1000.7 945.7h0M912.8 987.3h0M991.8 933.7h0M930.1 958.9h0M927.2 982h0M948.3 977.7h0M906.1 992.7h0M924.5 967.8h0M1017.4 929.4h0M956.2 942.7h0M955.2 950.2h0M955.2 984.2h0M942.3 969.2h0M913.8 986.2h0M957 941.7h0M1007.5 925.6h0M1062.6 922.4h0M910.7 988.5h0M891.7 999.4h0M940.5 968.3h0M922.3 979.2h0M989.7 947.4h0M948.4 958.2h0M1019 930.5h0M946.3 964.6h0M947.4 958.6h0M952 949.8h0M917.5 978.4h0M1006.8 936.6h0M923 971.9h0M925.4 962.2h0M930.5 955.6h0M986.4 954.1h0M969.8 948.3h0M944.5 973.7h0M1015.5 940.2h0M954.5 951.1h0M927.8 975.6h0M947.7 946.9h0M911.4 994.6h0M922.2 965.6h0M933.9 971.3h0M949.3 956.6h0M972.8 946.1h0M941.9 977.9h0M944.5 970.6h0M949.6 950.7h0M944.4 958.2h0M919.4 967.4h0M953.9 944.8h0M1051.2 940.7h0M919.5 990.9h0M940.3 965.1h0M1006.8 942.6h0M970.9 941.2h0M937 968.8h0M912.1 981.2h0M962.1 940.6h0M1026.3 924.2h0M978.8 962.3h0M974.1 958.8h0M944.5 964.9h0M986.3 957.1h0M923.8 984.9h0M938.4 966.6h0M1012.2 941.8h0M918.8 967h0M912.4 979.4h0M912.5 986.5h0M912.8 976.9h0M1010.2 946.4h0M977.1 950.6h0M915.6 972.4h0M910 989.6h0M904.8 981.1h0M1019 923.9h0M953.4 971.2h0M1012.7 929.5h0M903.7 989.2h0M908.7 978.2h0M892.6 1003.1h0M911.4 983.9h0M1010.9 948h0M983.4 951.4h0M937.1 961.9h0M912 969.9h0M928.4 981.6h0M920.4 979.3h0M972.9 945.6h0M945.9 960h0M950.8 952h0M896.3 990.9h0M927.2 974.6h0M972.7 944.5h0M1032 947.5h0M976.2 952.5h0M914.6 980.6h0M923.5 970.6h0M934.7 979.4h0M967 947.9h0M1074.3 911.3h0M1009.7 935.8h0M935.6 975.2h0M923.7 959.5h0M965.5 951.5h0M933.8 974.3h0M922.3 975.8h0M944.3 978.7h0M919.6 983.4h0M943.2 971.8h0M1003.8 940h0M935.4 966.8h0M1010.4 938.3h0M915.3 941.1h0M960.4 952.5h0M956.9 957.5h0M958.1 959.9h0M903 988.1h0M933.9 967.6h0M1030.6 950.1h0M967.1 956.3h0M967.9 956.2h0M943.9 978.3h0M928.8 961.4h0M939.1 952.2h0M950.3 957.3h0M1067.4 934h0M982.1 935.5h0M976.4 941.6h0M920.9 980.5h0M895.9 998.4h0M968.4 961.8h0M943 969.4h0M916.7 987.8h0M891.7 997.7h0M1041 930.3h0M944.3 937h0M961.9 933.1h0M1071.3 912.3h0M966.8 957.3h0M941.8 970.2h0M963.8 952.2h0M1013 957.8h0M968.3 940.8h0M1030.8 897.2h0M932.9 967.1h0M925.8 986.4h0M990.6 944h0M947.7 955.7h0M955.2 966.3h0M932.1 963.6h0M983.1 946.3h0M1004.1 915.3h0M989.8 928.7h0M915.9 982.2h0M998.9 925.1h0M941 964.6h0M932.7 971.7h0M1016.4 938.2h0M946.4 977.6h0M952.5 953.2h0M963.1 944.5h0M1005.5 933.3h0M1048.9 908.9h0M995.3 948.1h0M912.3 981.9h0M902.1 996.5h0M958.3 939.7h0M955.8 950h0M956.3 962.2h0M917.1 979.8h0M917.2 981.9h0M959.9 958.5h0M920.6 983.2h0M935.9 970.8h0M1047.9 955.2h0M941.9 968.3h0M1011.2 953.6h0M907.7 986.6h0M948.5 979h0M1014.9 943.7h0M923 970.8h0M989.2 938.1h0M898 992.4h0M956.2 952.3h0M892.7 1006.8h0M925.2 976.3h0M955.1 949.6h0M935 953.9h0M1008.2 954.6h0M934.6 969.5h0M1035.1 954.2h0M1000 950.4h0M1026.5 918h0M951.8 911.2h0M956.8 959.4h0M1049.8 937.7h0M987.6 936.7h0M965.3 959.1h0M1017.6 934h0M1070.9 917.3h0M1233.1 888.8h0M1036.9 946.9h0M1088 918h0M1258.1 879.7h0M1044.2 946h0M1151.5 919h0M1132.5 913.5h0M1101.4 932h0M1141.9 904.2h0M1180.2 905.4h0M1105 933.9h0M1012.5 944.7h0M1188.5 906.1h0M1031.2 952.6h0M1307.3 847.9h0M1098.3 908.2h0M1131.9 922.4h0M1165.2 898.2h0M1146.6 904h0M1069.7 932.5h0M1018.7 937.8h0M988.3 930.9h0M992.6 934.3h0M1135.8 923.4h0M1313.6 911.1h0M1007.5 958.2h0M1107.4 911.9h0M1026.6 948.9h0M991 957.6h0M1012.1 944.4h0M1268.4 909.1h0M1076.1 908.2h0M1182.1 892.7h0M973.3 930h0M979.9 958.4h0M1044.4 940.2h0M1285.4 876h0M1093.4 939.7h0M1169.5 922.6h0M1082 918.1h0M1159.3 897.5h0M1123.4 922.9h0M1095.3 903.4h0M965.6 962.9h0M1074.3 921.4h0M1186.5 900.4h0M974.5 952.3h0M1158.1 907h0M1067.8 915.4h0M973 953h0M1049.4 941.3h0M1085.1 919.6h0M1152.7 911.4h0M1267.5 900.2h0M1063.1 931.5h0M1000.5 944.6h0M996.6 939.4h0M1031.4 950.6h0M1160.6 899.3h0M1163.4 910.7h0M1165.1 907.3h0M1056.5 938.8h0M1049.3 920.3h0M1167.1 912.2h0M1088.9 951.4h0M1171.2 894.5h0M1048.7 929h0M1048.3 919.3h0M1209.4 904h0M1188.5 897.8h0M1018.3 940.2h0M1160.8 919h0M1335.1 904.3h0M1020.2 953.4h0M1061 929.6h0M1009.5 952.9h0M1271.5 891h0M988.3 948h0M1162.1 900.3h0M1096.2 935.7h0M1036.7 950.4h0M1168.5 887.8h0M999.6 932.5h0M1031.9 925.9h0M1211.2 898.2h0M1168.8 909.2h0M1063.9 925.5h0M1116 896.8h0M1089.2 920.6h0M1036.2 930.1h0M984 954.3h0M979.4 954.7h0M1277.9 872.7h0M1105.3 918h0M1177.7 891.7h0M999.2 960.2h0M1090.5 923.8h0M1084.7 933.8h0M1180.5 893h0M1064.4 937.9h0M1100.1 910.9h0M1095.9 895.9h0M1317.6 893h0M990.7 936.5h0M1240.4 916.3h0M973.9 952.8h0M1116.3 913.8h0M1044.2 930.2h0M1196.6 897.2h0M1057.8 918.6h0M958.6 956.8h0M1008.4 963.8h0M1039.8 922.4h0M1136 915.2h0M1034.9 942.5h0M1035.4 934.6h0M984.7 938.7h0M1010.9 951.4h0M1093.9 940h0M1144.1 927.1h0M1072.9 942h0M1177 914.6h0M984.6 952.9h0M1035.4 927h0M997.4 944h0M1314 891.1h0M1113.2 917.2h0M1243.6 902.1h0M1107.5 903.5h0M1052.8 932.6h0M1110.4 927.3h0M1281.3 896.4h0M1108.1 907.3h0M1325 901.3h0M1116.2 921.8h0M995.3 951.8h0M1057.3 935.3h0M1267.5 919.4h0M1087.1 919.4h0M1078.2 935.2h0M1045.3 923.7h0M1296.7 900.6h0M999.1 938h0M964.1 969.7h0M997.6 943h0M1021 950.2h0M1024 920h0M1084.2 935.2h0M1065.9 926.3h0M1198.7 905.9h0M982.5 948.7h0M1046.5 937.5h0M1189.8 894.2h0M1061.3 914.8h0M1122.8 920.3h0M1024.6 941.6h0M1149.3 888.5h0M1306 914.3h0M1124.1 916.4h0M1163.7 913.9h0M978 952.8h0M1008.5 935.8h0M985.2 957.4h0M1058.9 918.1h0M974.6 960.2h0M1001.9 951.4h0M1155.1 904.2h0M1025.5 927.8h0M1218.1 911.7h0M1118.7 923.6h0M1332.8 887.7h0M989.8 941.1h0M1046.2 919.1h0M1224.5 894.6h0M1085 922.4h0M1000.4 945.6h0M1154.5 934.3h0M1072.4 920.3h0" fill="none" stroke="#404040" stroke-width="2.4" stroke-linecap="round" opacity="0.56"/>
<path d="M1020.5 955.9h0M947.2 956.4h0M977.2 949.7h0M908.6 975.5h0M923.8 975h0M1035.2 942.5h0M932.8 966.6h0M956.8 959.3h0M916.2 979.9h0M1001.8 951.2h0M921.6 979.7h0M973.3 957.1h0M1065.9 938.6h0M946.6 943.7h0M984.4 946.8h0M946.8 947.6h0M910.5 982.8h0M926.8 979.2h0M966.5 976.4h0M913.5 982.3h0M928.4 968.5h0M909.5 997.5h0M960.6 952.6h0M983.4 937.3h0M1034.1 923.4h0M917.1 986.4h0M890.9 996.2h0M953.9 953.8h0M947.7 961.3h0M911.1 983.6h0M993.1 953.3h0M930.7 968h0M918.4 968.4h0M1034.3 942.6h0M925.1 968.9h0M924 974.8h0M919.6 973.7h0M961.8 975.6h0M1232.1 897.8h0M949.8 962.7h0M922.6 968.9h0M915 981.3h0M985.1 943.9h0M914.7 979.8h0M961.8 958.8h0M923.7 983.7h0M914.4 972h0M956.4 954h0M940.6 976.3h0M963.2 952.2h0M1004.6 932.3h0M897.7 993.3h0M1234.8 884h0M963 961.9h0M1015.1 936.1h0M911.9 990.7h0M911.5 981.1h0M959.5 971h0M1078.5 928.4h0M940.5 961.5h0M946.1 959.6h0M958.8 953.3h0M931.1 980.9h0M949.8 956.5h0M906.2 982.6h0M941.1 969.4h0M947.6 963.7h0M961.9 947.2h0M971.4 960.1h0M982.2 932.2h0M906.1 988.9h0M962.1 951.4h0M931.3 980.3h0M916.6 971h0M922.3 976h0M928.9 978.5h0M1003.6 939.9h0M975.3 932.3h0M916 971.9h0M889.7 996.7h0M950.5 940.5h0M985.3 953.7h0M957.2 977.1h0M908.5 993.9h0M922.3 976.6h0M933.7 969.9h0M891.5 1006.3h0M979.4 929.4h0M989.1 942.3h0M959.9 948.1h0M933.3 970.6h0M930.9 969.7h0M993.8 938.5h0M1046.9 952.9h0M928.7 970.4h0M1009.1 951.5h0M972.4 932.8h0M929.1 967.1h0M930.7 966h0M992.1 937.1h0M928.5 964.6h0M965 957.6h0M953.2 958.1h0M986.3 945.7h0M925 960.8h0M956.5 959.1h0M930.3 973.1h0M975.7 952.5h0M988 943.5h0M980 946.8h0M973.8 943.2h0M900.3 990h0M961.8 956.8h0M989.4 962.2h0M957.6 951.2h0M1062.2 936.9h0M999.1 947.2h0M929 959.7h0M1034.2 942.1h0M964.7 952.3h0M923.5 983.7h0M915 983.6h0M987.3 960.3h0M989.2 939.4h0M960.5 970.5h0M960.3 953.5h0M960.9 939.6h0M939 962.5h0M1000.1 940.6h0M966.1 956.8h0M996.2 939.8h0M948.3 954.8h0M917.7 980.1h0M960.4 944.8h0M904.3 993.1h0M988 954.9h0M918.6 979h0M916.4 975.2h0M961.4 966h0M913.3 982.2h0M977.3 945.5h0M919.3 968.5h0M896 994.6h0M986.2 944.9h0M1085.3 927.9h0M984 946.4h0M914 974.1h0M951.5 960.8h0M915.5 988.8h0M974.7 958.7h0M970.3 956.3h0M925.9 980.7h0M966.4 936.3h0M896.1 994.5h0M901.9 992.9h0M938.1 964.8h0M910.2 976h0M972.5 964.7h0M916.8 989.8h0M970.2 966.4h0M952.6 962h0M993.9 942.2h0M1022.9 949.1h0M952.7 970.4h0M976.6 935.8h0M926.7 969.9h0M907.7 975.1h0M922.5 976.5h0M943.4 959h0M919.7 975.1h0M944.8 956h0M927.5 974.1h0M936.9 958.7h0M943.5 966.4h0M941.5 965.2h0M944.8 964.2h0M958.3 934.8h0M1058.1 937.1h0M960.6 976.5h0M991.1 939.1h0M1020.2 942.7h0M1024.7 943.5h0M980.4 940.5h0M1082.6 916.1h0M931.9 971.8h0M927.8 965.1h0M888.4 1008.5h0M1096.4 919.2h0M935 966.1h0M950.1 953.7h0M930.7 972.9h0M956.1 956.3h0M957.2 954.3h0M1007.4 943.8h0M935 974.2h0M938.9 958.5h0M895.3 984.8h0M955.1 950.6h0M892 996.2h0M993.8 937.1h0M971.7 953.8h0M918.2 969.3h0M932.6 968.2h0M929.6 976.4h0M940.8 965.3h0M921 975.1h0M942.3 957.4h0M993.6 939.2h0M1001 948.4h0M935.7 969.3h0M973.9 948h0M928.2 972.2h0M943.2 965.8h0M928.4 959.2h0M1033.6 930.3h0M921.3 985.7h0M986.7 944.7h0M911 996.2h0M904.1 996.5h0M942.7 958.5h0M958.6 948.6h0M948.8 953.9h0M945.3 961.6h0M923.9 963.7h0M911.9 981.5h0M934.6 975.9h0M1045.7 927.8h0M932.1 968.5h0M982 940.2h0M955.1 955.6h0M921.1 975.3h0M960.8 946.3h0M953 963.6h0M926 962.1h0M963.8 939.7h0M967.4 969.9h0M933.4 968.4h0M918.9 987.2h0M900 1000.1h0M943.4 962.4h0M955.2 972.9h0M998.1 949h0M950.3 965.2h0M982.2 955.5h0M944.3 964h0M967.4 961h0M917.2 972.4h0M963.5 965.5h0M907 985.4h0M1003.5 963.6h0M963.4 952.9h0M916.8 993.5h0M969.4 944.8h0M965.1 953.6h0M915.5 969.9h0M920.5 980.3h0M976.6 941h0M968.4 944.3h0M944.8 966.4h0M952.6 959.1h0M962 943.6h0M920 975.3h0M980.9 946.3h0M898.4 986.3h0M1015.7 938.2h0M968.2 954.4h0M920.3 964.1h0M925.7 963.7h0M1010.9 934.3h0M903.5 981.3h0M941.1 978.9h0M1013.4 941.1h0M928.9 965.9h0M948.2 968.1h0M921.5 969h0M928.1 974.7h0M900.1 989.9h0M998.7 933h0M934.2 986.3h0M948.8 960h0M933.8 984h0M942 968h0M946.1 977.7h0M897 994.7h0M1020 944.1h0M932.6 964.4h0M921.5 976.2h0M937.8 965.7h0M964.9 951.8h0M950.2 968.1h0M930.4 972.7h0M983.3 932.6h0M942.4 961.8h0M921.7 988.7h0M908.7 990.8h0M919.2 972.2h0M913.5 973.7h0M953.9 960.4h0M935.2 964.5h0M930.7 960.9h0M913.1 980.1h0M952.3 976.7h0M1078.8 924.5h0M924.7 976.4h0M1071.8 903.1h0M919.9 983.9h0M919.2 991.5h0M958 951.8h0M973.7 942.8h0M974 952h0M952.6 937.7h0M907.6 984.1h0M964.5 958.7h0M940.9 977h0M938.6 970.1h0M983.1 949.1h0M952.9 942.4h0M1049.1 911.2h0M937.9 954.4h0M1147.8 910.7h0M967.4 960.6h0M904.7 990.6h0M936 966h0M925.2 987.5h0M927.4 973.9h0M904.5 986.9h0M995.6 942h0M964.2 954.5h0M977.9 941.6h0M909.4 987.7h0M1001.9 957.9h0M984.5 940.8h0M1000.2 947.2h0M1028.6 916.8h0M1112.3 906.9h0M1038.5 949.5h0M952 970.2h0M971.2 956h0M1174.3 903.4h0M898.6 990.3h0M924.6 976.1h0M992.1 942.5h0M947.8 948.2h0M950 967.7h0M911.7 985.8h0M946.1 962.3h0M999.9 942.1h0M931.5 960.6h0M941.4 957.2h0M927.2 973h0M920.9 994.5h0M966.7 970.1h0M927.4 970h0M968.3 972.2h0M987.2 942.1h0M959.8 945.8h0M977.9 958.1h0M941.9 973.7h0M982.2 936.1h0M931.6 970.2h0M944 964.4h0M1067.8 920.6h0M944.7 947.1h0M909.6 981.1h0M1028.8 938h0M921.1 974.7h0M961.2 950.2h0M944.7 964.9h0M945.6 960.9h0M904.7 987.3h0M967 952.3h0M1010.1 935.3h0M968.5 953h0M919.6 971.8h0M992.5 946.7h0M920.6 964.5h0M931 973.2h0M929.9 963.8h0M955.9 947.4h0M894.1 1001.3h0M926.7 977.6h0M919.3 959.7h0M926.9 958.8h0M1033.9 964h0M941 970.9h0M904.7 986.5h0M926.2 967.5h0M979.9 946.8h0M914.6 991.1h0M983.6 958.9h0M927.8 962.9h0M940.9 977.9h0M957.8 944.5h0M979.4 962.4h0M992.4 941.8h0M907.6 979.6h0M1043.6 944.4h0M939.8 959.9h0M969.3 958.3h0M950.8 955.8h0M942.8 966.4h0M931.9 963.9h0M938.8 960.5h0M1050.6 931.4h0M955.5 959.5h0M898.9 995.4h0M1061.1 919.7h0M917.7 979.2h0M994.7 944.2h0M1047.4 940.9h0M956.9 954.2h0M962.9 954.9h0M994.8 949.2h0M1077.1 925.3h0M922.1 971.4h0M1033.3 940.5h0M974.2 949.9h0M970.7 957.9h0M992.2 930.6h0M984.3 951.9h0M972.2 954h0M950 956.6h0M909.8 988.9h0M915.5 978.4h0M930.1 965.8h0M959.6 943.8h0M969.4 941.9h0M979.5 956.5h0M927.8 966.7h0M937.9 967.2h0M928.8 970.4h0M1022.9 939.5h0M940.1 890.9h0M944.2 946.6h0M960.7 944h0M946.6 959h0M955 956h0M955.6 958.3h0M923.3 982.6h0M938.6 951.9h0M981 946.9h0M1076 919.1h0M962.1 963.7h0M884.2 1004.8h0M939 961.8h0M978 935.5h0M947.7 964.9h0M937.6 964.9h0M1028.5 926.3h0M924 976.7h0M966.2 964.3h0M965.5 942.5h0M947.8 945.8h0M964.5 948.8h0M970.8 955.5h0M957.3 955.4h0M898.4 994.2h0M956.3 965h0M945 955.3h0M925.8 974.9h0M994.5 960.5h0M975.2 943h0M933.3 968.6h0M909.3 992.8h0M943.7 964.9h0M913.7 987.2h0M930.3 966.9h0M932.8 962.9h0M1038.9 948.8h0M980.1 945.4h0M966.7 952.9h0M939.6 958.5h0M947.2 965.4h0M1021 936h0M943.9 964.7h0M980.5 925.7h0M934.1 978.9h0M966 962h0M890.7 996.3h0M930.6 976.1h0M934 970.9h0M1068.2 938h0M896.6 982.4h0M915.4 987.3h0M959.1 949.5h0M951.2 954.9h0M981.2 957.7h0M967.2 954.3h0M1052.2 916.7h0M929 977.4h0M908.2 982.7h0M961.8 934.4h0M939.3 955.2h0M913.2 979.4h0M943.8 965.6h0M924.3 973.7h0M971.1 947.3h0M927.3 980.9h0M904.9 992.8h0M910.9 993.6h0M991.1 961.7h0M991.9 953.3h0M944.7 962.1h0M926.3 968.9h0M909.3 989.5h0M911.8 977.4h0M944.1 963.3h0M948.1 952.3h0M969.4 961.2h0M913 982.7h0M893.5 994.5h0M928.1 973.7h0M929.8 982.9h0M987.2 954h0M941.2 956h0M956 935.7h0M1059.9 915h0M1002.5 953.4h0M1017 920.2h0M946.7 971.5h0M964.7 956h0M945.1 971.9h0M921.9 971.1h0M912 986.6h0M925.5 970.3h0M984.3 956.7h0M913.1 969.5h0M901.4 991.2h0M907.1 974.6h0M955.7 958.4h0M920.4 987h0M972.6 947.4h0M921.8 988h0M972.7 924.5h0M918.2 972.6h0M912.8 976.5h0M910.1 979.1h0M938.7 945.5h0M981.7 958.8h0M896.6 991.5h0M903.3 986.4h0M914.6 974.7h0M977 954.3h0M943.9 969.1h0M950.5 954.8h0M965.5 967.2h0M964.4 961.6h0M926.5 972h0M952.5 966.8h0M957.6 971.4h0M878.1 1015.5h0M931.6 965.6h0M902.1 987.5h0M998 963.5h0M989.6 966.7h0M1169.9 902.6h0M1098 912.2h0M964.7 958.9h0M973.5 951h0M954.9 957.8h0M911.6 982.6h0M951.6 968.4h0M938.7 956.4h0M937.7 964.1h0M924.2 971.5h0M926.2 963.9h0M967.6 949h0M953.4 952.7h0M930.4 974.8h0M1018.5 928.9h0M1002.4 950.2h0M907.3 981.2h0M931.1 967h0M950.5 968.2h0M990.1 941.2h0M1055.6 935.9h0M996.7 950.4h0M1007.7 943.1h0M938.4 953.4h0M921.4 969.4h0M955.2 956.1h0M1052.6 934.4h0M958.1 966.8h0M924.4 981.2h0M950.1 953.7h0M913.6 981.7h0M1063.4 923.2h0M936.5 964.3h0M929.1 968h0M945.3 938.7h0M918.2 979.5h0M921.7 988.9h0M978.3 935.3h0M892.9 990h0M936.1 976.8h0M897.5 990.9h0M947.7 972.8h0M1041 922.8h0M891.1 990.4h0M909.9 986h0M957.1 968.4h0M924.4 978.2h0M903.3 982.3h0M913.7 969.6h0M996.8 945.5h0M949.2 956.7h0M991.6 953.6h0M908.8 992.3h0M989.2 957.9h0M939.9 958.4h0M957.3 960.2h0M936.1 974.1h0M902.6 993.6h0M910.9 986.1h0M935.4 967.8h0M976.2 951.5h0M924.8 976.8h0M964.8 958h0M972.4 953.3h0M989.9 954.6h0M1059.7 928.7h0M916.2 974.4h0M916.2 967.2h0M926.6 981.1h0M917.6 974.6h0M934.3 959.3h0M949.6 960.4h0M963.3 963.9h0M970.7 961.9h0M958.7 966.9h0M1030 959.6h0M1018.1 939.3h0M955.1 972.2h0M994.2 936.7h0M955.7 958.1h0M919.1 982.2h0M954.2 945.4h0M943 952.1h0M940.3 969.6h0M932.4 972.3h0M953.4 959.6h0M938 959.2h0M978.8 959.3h0M961.1 954.5h0M998.1 940.7h0M909.8 986.7h0M989.3 924.9h0M1066.3 930.6h0M924.2 975.7h0M939 964.1h0M934.4 962.6h0M1060.3 922.9h0M931.8 965.4h0M902.5 986.3h0M925.9 974.4h0M988.3 939.3h0M962.3 950.7h0M1030.5 949.6h0M938.4 962.2h0M971.1 954.3h0M1002.4 950.9h0M938 959.8h0M923.7 977.6h0M997.6 938.9h0M957.8 960.4h0M911.4 970.1h0M956 964.9h0M988.7 955.6h0M976.2 946.6h0M960.7 958.3h0M1001.5 950.3h0M916.7 986.1h0M936.4 935.6h0M1128.8 893.1h0M950.1 967.5h0M932.4 959.6h0M956.4 953.4h0M952.5 966.5h0M914.3 990.5h0M931.5 968.6h0M947.5 963.2h0M940 958.2h0M980.2 951.3h0M930.6 964.7h0M951.4 952.8h0M947.6 966h0M1013.9 931.8h0M907.4 980.4h0M1044.6 954.2h0M940 953.1h0M933.2 965.3h0M967.1 941.5h0M929.5 978.7h0M932.6 960.3h0M899.6 994h0M965.4 965.3h0M915.3 985.7h0M1057.5 926.7h0M986.2 945.4h0M893.4 990.9h0M975.3 940.3h0M949.2 962.3h0M950.5 965.7h0M991.7 931.7h0M915.1 976.5h0M918.7 990h0M931.8 983.1h0M1029.3 927.1h0M936 966.5h0M937.3 965.1h0M937.7 962.1h0M892.2 998.5h0M930.9 966.4h0M902.8 994h0M902 996.7h0M898.3 986.4h0M910.4 982.8h0M977.5 951.9h0M980.3 953.2h0M914.6 975.2h0M960.5 965.7h0M967.7 941.7h0M899 988.5h0M961.3 943.8h0M934.5 911.5h0M976.7 933.7h0M982.2 956h0M1079.4 916.7h0M944.9 953.1h0M944.9 956.4h0M945.2 967.1h0M971.4 954.6h0M974.8 966.3h0M986 948.6h0M915.5 982.7h0M962.6 961.9h0M936.1 950h0M938.4 969.9h0M1058.1 933.4h0M951.5 959.7h0M925.5 981.8h0M1020.5 931.5h0M996.9 948.3h0M930.2 969.8h0M978.6 941.8h0M919.4 983.8h0M974.3 947.2h0M948.8 971.9h0M948.5 962.1h0M952 961.3h0M936.3 967.3h0M931.4 986.9h0M934.1 955.1h0M980 969.4h0M905.8 986.4h0M978.5 950.3h0M932 979h0M882.2 1012.7h0M971.8 967h0M948.5 953.2h0M957.9 961.3h0M933.6 965.2h0M1093.7 919.2h0M945 956.3h0M894.4 994.2h0M952 943.3h0M951.3 962.2h0M934 973.2h0M956.6 967.2h0M907 980.3h0M935.7 964h0M956.1 975.8h0M1055.4 936.1h0M932.5 959.3h0M913.4 983.7h0M998.5 943.9h0M929.5 971.2h0M918.6 980.2h0M937.3 971.9h0M1008.9 947.7h0M929.2 970.5h0M904.9 989.8h0M896.8 999.3h0M902 997.3h0M936.4 971.3h0M929.7 967.8h0M1044.5 933h0M897.9 1001.2h0M1009.4 938h0M949.3 948.8h0M935.9 969.1h0M1038.3 939h0M914.6 983.2h0M948.3 951.1h0M940.9 963.6h0M952.2 958.2h0M922.5 980.1h0M969.5 966.7h0M1084.7 912.4h0M902.5 978.4h0M1015.3 927.4h0M942.8 964.4h0M962.1 953.3h0M986 954.7h0M928.2 968.3h0M910.4 985.9h0M1039.9 948.6h0M933.2 960.8h0M1008.9 924.5h0M997.1 939.6h0M931 966.2h0M932.4 968.7h0M937.7 966.1h0M911.7 980.3h0M978.3 955.9h0M1023 933.5h0M932.2 967h0M1011.9 934.5h0M914.6 996.1h0M908.7 997.9h0M894.4 1004.8h0M930.9 972.3h0M945.5 946.9h0M1142.8 902.3h0M975.8 967.7h0M1034.1 933.2h0M1011.2 952.6h0M961.7 949.9h0M1000.8 933.2h0M995 922.4h0M910.9 979.2h0M970.8 953.4h0M919.5 976.4h0M924 971.3h0M1049.5 936.6h0M978.1 927.4h0M965.7 947.7h0M930 967.4h0M947.4 949.1h0M1003.5 942.3h0M937.3 949.1h0M1000.5 927.9h0M897.5 998.8h0M893.5 994.1h0M938.4 973.7h0M1043.9 945.2h0M1036.9 932.5h0M963 944h0M941.9 969h0M978.2 952.8h0M960 949.6h0M915.2 988.2h0M1003.9 946.2h0M920.6 978.3h0M895.1 1005.5h0M963.6 960.1h0M949.6 960.4h0M947.5 954.2h0M1007.8 917.6h0M921.3 969.2h0M988.8 959.1h0M894.8 992.9h0M970.5 944h0M926.7 960.2h0M973.4 940h0M901.9 986.8h0M937.7 961.2h0M927.3 980.2h0M913.2 983.4h0M972.9 947h0M911.5 989.2h0M987.4 961.2h0M985 978h0M1056 924.1h0M889.6 1002.7h0M980.6 944.8h0M969.7 954.5h0M939.8 947.3h0M945.1 957.6h0M947.5 965.8h0M894.8 1000h0M968.8 948.4h0M945.9 957.9h0M976.5 944.3h0M999.3 940.6h0M929.1 964.4h0M940.4 971.8h0M916.3 987.1h0M968.1 956.5h0M918.1 974.5h0M1013.4 936.1h0M934 970.4h0M1013.7 930.1h0M973 976.1h0M923.4 977.7h0M1074.2 919.4h0M1001.4 940.7h0M931.1 966.8h0M1004.5 948.5h0M955.8 950.4h0M981.7 971.3h0M951.9 973.4h0M959.9 944.1h0M974.9 970h0M937.5 974.4h0M1014.4 946.4h0M983.4 947.4h0M979.2 885.6h0M909.6 988.6h0M892.2 998h0M975.5 942.7h0M949.8 950.6h0M925.5 975.3h0M1016.5 960.6h0M970.5 944.8h0M909.6 984.6h0M959.1 957.9h0M931.2 973.6h0M942.7 965.6h0M1026.6 942.1h0M966.3 954h0M942.7 967h0M1091.3 899.2h0M970 959.6h0M985.9 946.9h0M987 934.9h0M939.6 959.3h0M981.6 957h0M909 989.2h0M965.1 957.4h0M913.4 982.8h0M916.9 982.8h0M945.2 969.7h0M938 971.8h0M918.4 970.6h0M920.2 972.8h0M967.2 970.2h0M925.8 974.6h0M945.2 976.5h0M977.9 969.7h0M943.1 956.6h0M953.5 962.5h0M946 954.2h0M980.5 953.8h0M920.7 977.4h0M920.5 979.7h0M1040.1 963.1h0M955.2 968.1h0M992.3 938.3h0M939.1 961.8h0M966.3 969.2h0M930.3 977.2h0M1005 931h0M972.9 963h0M992.4 952.1h0M970.6 966.8h0M949.6 954.1h0M970.1 943.8h0M940 949.2h0M942.6 966.5h0M934.6 964.1h0M1310.5 912.2h0M955.4 980.5h0M952 966.9h0M898.4 997.3h0M1035.4 949.9h0M1177.8 885.9h0M1006.3 921.6h0M1003.7 942.4h0M1091.4 924.8h0M1159.6 902.9h0M1192.6 896.9h0M1106.8 916.9h0M1077.2 934.1h0M998.7 939.7h0M998.5 938.4h0M1002.2 957.4h0M1310.2 892.5h0M1134 895.3h0M1148.2 892.9h0M1025.2 932.8h0M1167.7 907.5h0M1180.3 914.5h0M1016.8 936.2h0M1060.6 930.8h0M1166.2 891.2h0M1125 899h0M1095.9 951.9h0M1016.2 947.9h0M1145.8 904.4h0M960.3 951.1h0M1104.3 902.3h0M1265.2 927.8h0M1163.3 893.1h0M1305.6 880.1h0M982.8 949.7h0M1270.4 901.8h0M957.2 950.6h0M973.7 951.9h0M968.2 946h0M985.9 960.2h0M1081.7 925.6h0M1085.3 926.4h0M1073.9 895.2h0M1015.4 951.5h0M1076.7 928.5h0M1184.9 917.3h0M1082.6 920.9h0M1180 916.9h0M1100.8 933.6h0M1055.4 930.4h0M1043.5 919.6h0M1058.7 938.7h0M1209.8 910h0M1117.5 923h0M1053.9 934.2h0M1033.2 946.3h0M1052.6 919.8h0M1293.4 891.2h0M1160.5 907.2h0M1099.6 923.5h0M1314.4 908.3h0M960.8 946.5h0M1061.7 920h0M1061.3 924.1h0M1020.3 940.5h0M975 950.3h0M999.9 953.6h0M1291.2 869.2h0M1005.3 930.2h0M1070.4 925.5h0M1017.8 968.9h0M994 935.7h0M1047.2 912.3h0M1051.1 930.7h0M1274.4 925.7h0M1067.6 930.8h0M1181.7 896.8h0M1011.9 944.5h0M1188.6 903.6h0M1029.7 932.6h0M1126 907h0M956.8 960.2h0M1149.7 911.7h0M1121.7 910.7h0M1006.4 956.7h0M978 955.5h0M1071.1 932.3h0M1002.2 948.8h0M961.9 946.8h0M1307.3 901.4h0M1216.3 892.6h0M1032.9 934.4h0M1242.4 911.4h0M1157.7 916.6h0M1113.7 905.1h0M1052.3 934.9h0M1077.3 933.1h0M983.9 952.4h0M1065.9 923.1h0M1043.6 931.2h0M1000.2 946.9h0M1115 926.5h0M1139.3 886.3h0M1057.9 922.2h0M1047.6 955.7h0M978.2 942.3h0M1014.1 918.1h0M1037.5 935.7h0M994.4 951.6h0M1073.1 926.3h0M1007.2 941.6h0M978.5 939.7h0M1009.6 934.7h0M1201.5 891.9h0M1042.9 922.1h0M1136.3 904.4h0M1008.5 948.4h0M1209.6 913.5h0M1264.8 902.7h0M986.3 949.7h0M1044.8 938.4h0M965.7 952.1h0M1029.6 956.2h0M1044.9 916.6h0M1032.6 942.8h0M1067.8 922.5h0M1029.8 945.7h0M1081.8 931.4h0M1303.2 885.8h0M1041.9 952.4h0M1061.3 925h0M1083.5 931.3h0M1011.1 947.3h0M979.4 949.4h0M1159.6 897.6h0M1111.9 925.1h0M1035.4 921.9h0M967.9 965.3h0M1063.4 936.7h0M1063.5 930.1h0M975.8 953.6h0M1287.6 903.5h0M977.7 955.4h0M1146.5 886.5h0M1053.2 934.5h0M1056.8 934.4h0M1015.3 919.1h0M1151.6 905.5h0M1017.7 938.5h0M1022 940.3h0M1033.5 926.2h0M973.8 944h0M1144.9 909.5h0M1315.5 901.2h0M1072.8 917.9h0M994.4 940.3h0M1026.6 927.4h0M1125.5 924.9h0M1063.7 938.7h0M1116.5 917h0M1080.3 933.6h0M976.8 954.8h0M1172 918.2h0M1011.3 939.5h0M1024.4 957.3h0M1133.2 924.7h0M1068.4 928.1h0M1256.8 895.9h0M1014.6 952.3h0M974 964.1h0M1057.3 912h0M1084.9 936h0M1129.4 901.1h0M1007.8 950.2h0M1219.2 913.7h0M1146.9 923.3h0M1168.9 906h0M1086.1 921.3h0M1022.4 941.9h0M1029.6 927h0M1236.8 884.9h0M993.9 959.5h0M1172.4 917h0M1007.1 953.7h0M991.7 958h0" fill="none" stroke="#404040" stroke-width="2.4" stroke-linecap="round" opacity="0.56"/>
<polyline points="853.3 1053.1 853.7 1047.8 854.1 1045.6 854.4 1043.9 854.8 1042.5 855.2 1041.2 855.6 1040.1 855.9 1039.1 856.3 1038.1 856.7 1037.2 857.1 1036.3 857.4 1035.5 857.8 1034.7 858.2 1034 858.6 1033.3 858.9 1032.6 859.3 1031.9 859.7 1031.2 860.1 1030.6 860.4 1030 860.8 1029.4 861.2 1028.8 861.6 1028.2 861.9 1027.7 862.3 1027.1 862.7 1026.6 863.1 1026.1 863.4 1025.5 863.8 1025 864.2 1024.5 868.7 1019.2 873.2 1014.5 877.7 1010.4 882.1 1006.6 886.6 1003.1 891.1 999.9 895.6 996.8 900.1 993.9 904.6 991.1 909.1 988.5 913.5 985.9 918 983.5 922.5 981.1 927 978.8 931.5 976.6 936 974.4 940.5 972.3 944.9 970.2 949.4 968.2 953.9 966.3 958.4 964.4 962.9 962.5 967.4 960.7 971.9 958.9 976.3 957.1 980.8 955.4 985.3 953.7 989.8 952 994.3 950.3 998.8 948.7 1003.3 947.1 1007.7 945.5 1012.2 944 1016.7 942.5 1021.2 941 1025.7 939.5 1030.2 938 1034.7 936.5 1039.1 935.1 1043.6 933.7 1048.1 932.3 1052.6 930.9 1057.1 929.5 1061.6 928.2 1066.1 926.9 1070.5 925.5 1075 924.2 1079.5 922.9 1084 921.6 1088.5 920.4 1093 919.1 1097.5 917.9 1101.9 916.6 1106.4 915.4 1110.9 914.2 1115.4 913 1119.9 911.8 1124.4 910.6 1128.9 909.4 1133.3 908.3 1137.8 907.1 1142.3 906 1146.8 904.8 1151.3 903.7 1155.8 902.6 1160.3 901.5 1164.7 900.4 1169.2 899.3 1173.7 898.2 1178.2 897.1 1182.7 896 1187.2 895 1191.7 893.9 1196.1 892.8 1200.6 891.8 1205.1 890.8 1209.6 889.7 1214.1 888.7 1218.6 887.7 1223.1 886.7 1227.5 885.7 1232 884.7 1236.5 883.7 1241 882.7 1245.5 881.7 1250 880.7 1254.5 879.8 1258.9 878.8 1263.4 877.8 1267.9 876.9 1272.4 875.9 1276.9 875 1281.4 874 1285.9 873.1 1290.3 872.2 1294.8 871.2 1299.3 870.3 1303.8 869.4 1308.3 868.5 1312.8 867.6 1317.3 866.7 1321.7 865.8 1326.2 864.9 1330.7 864 1335.2 863.1 1339.7 862.2 1344.2 861.3 1348.7 860.5 1353.1 859.6 1357.6 858.7 1362.1 857.9 1366.6 857 1371.1 856.2 1375.6 855.3 1380.1 854.5 1384.5 853.6 1389 852.8 1393.5 851.9 1398 851.1" fill="none" stroke="#1a1a1a" stroke-width="1.9"/>
<rect x="904" y="976.1" width="14" height="14" fill="#000" fill-opacity="0.28"/>
<rect x="909.5" y="973.3" width="14" height="14" fill="#000" fill-opacity="0.28"/>
<rect x="911.7" y="967.5" width="14" height="14" fill="#000" fill-opacity="0.28"/>
<rect x="916" y="963.3" width="14" height="14" fill="#000" fill-opacity="0.28"/>
<rect x="917.1" y="967.5" width="14" height="14" fill="#000" fill-opacity="0.28"/>
<rect x="970.5" y="943.3" width="14" height="14" fill="#000" fill-opacity="0.28"/>
<rect x="974.8" y="941.8" width="14" height="14" fill="#000" fill-opacity="0.28"/>
<rect x="980.3" y="941.8" width="14" height="14" fill="#000" fill-opacity="0.28"/>
<rect x="983.6" y="940.4" width="14" height="14" fill="#000" fill-opacity="0.28"/>
<rect x="985.7" y="940.4" width="14" height="14" fill="#000" fill-opacity="0.28"/>
<rect x="990.1" y="939" width="14" height="14" fill="#000" fill-opacity="0.28"/>
<rect x="994.5" y="937.5" width="14" height="14" fill="#000" fill-opacity="0.28"/>
<rect x="998.8" y="927.5" width="14" height="14" fill="#000" fill-opacity="0.28"/>
<rect x="1005.4" y="933.3" width="14" height="14" fill="#000" fill-opacity="0.28"/>
<path d="M885.5 989h14v14h-14zM897.5 977.5h14v14h-14zM904 976.1h14v14h-14zM910.6 979h14v14h-14zM909.5 973.3h14v14h-14zM911.7 967.5h14v14h-14zM916 963.3h14v14h-14zM917.1 967.5h14v14h-14zM943.3 951.8h14v14h-14zM946.5 947.5h14v14h-14zM950.9 940.4h14v14h-14zM960.7 944.7h14v14h-14zM970.5 943.3h14v14h-14zM974.8 941.8h14v14h-14zM980.3 941.8h14v14h-14zM983.6 940.4h14v14h-14zM985.7 940.4h14v14h-14zM990.1 939h14v14h-14zM994.5 937.5h14v14h-14zM998.8 927.5h14v14h-14zM1005.4 933.3h14v14h-14zM1009.7 937.5h14v14h-14zM1034.8 921.8h14v14h-14zM1076.2 916.1h14v14h-14zM1106.7 906.1h14v14h-14zM1166.6 896.1h14v14h-14zM1189.5 890.4h14v14h-14zM1240.7 896.1h14v14h-14z" fill="none" stroke="#181818" stroke-width="2.2"/>
</g>
<path d="M962.2 1053.1v-5.5M962.2 624.6v5.5M1071.2 1053.1v-5.5M1071.2 624.6v5.5M1180.1 1053.1v-5.5M1180.1 624.6v5.5M1289.1 1053.1v-5.5M1289.1 624.6v5.5M853.3 981.7h5.5M1398 981.7h-5.5M853.3 910.3h5.5M1398 910.3h-5.5M853.3 838.8h5.5M1398 838.8h-5.5M853.3 767.4h5.5M1398 767.4h-5.5M853.3 696h5.5M1398 696h-5.5" fill="none" stroke="#444" stroke-width="2.0"/>
<path d="M853.3 624.6V1053.1" stroke="#4a4a4a" stroke-width="2.2" stroke-linecap="square"/>
<path d="M853.3 624.6H1398" stroke="#333" stroke-width="2.0" stroke-linecap="square"/>
<path d="M1398 624.6V1053.1" stroke="#383838" stroke-width="2.1" stroke-linecap="square"/>
<path d="M853.3 1053.1H1398" stroke="#444" stroke-width="2.2" stroke-linecap="square"/>
<text transform="translate(853.3 1089) scale(1.04 1.035)" text-anchor="middle">0</text>
<text transform="translate(962.2 1089) scale(1.04 1.035)" text-anchor="middle">10</text>
<text transform="translate(1071.2 1089) scale(1.04 1.035)" text-anchor="middle">20</text>
<text transform="translate(1180.1 1089) scale(1.04 1.035)" text-anchor="middle">30</text>
<text transform="translate(1289.1 1089) scale(1.04 1.035)" text-anchor="middle">40</text>
<text transform="translate(1398 1089) scale(1.04 1.035)" text-anchor="middle">50</text>
<text transform="translate(845.5 1064.2) scale(1.04 1.035)" text-anchor="end">0</text>
<text transform="translate(845.5 992.8) scale(1.04 1.035)" text-anchor="end">0.05</text>
<text transform="translate(845.5 921.4) scale(1.04 1.035)" text-anchor="end">0.1</text>
<text transform="translate(845.5 849.9) scale(1.04 1.035)" text-anchor="end">0.15</text>
<text transform="translate(845.5 778.5) scale(1.04 1.035)" text-anchor="end">0.2</text>
<text transform="translate(845.5 707.1) scale(1.04 1.035)" text-anchor="end">0.25</text>
<text transform="translate(379.8 535.1) scale(1.012 1.035)" text-anchor="middle">Strain Rate (1/days)</text>
<text transform="translate(1126.5 535.1) scale(1.012 1.035)" text-anchor="middle">Strain Rate (1/days)</text>
<text transform="translate(380.1 1123.2) scale(1.012 1.035)" text-anchor="middle">Strain Rate (1/days)</text>
<g transform="translate(1126.5 1131.4)"><text transform="translate(-90.3 0) scale(1.012 1.035)">EKE</text><text transform="translate(-31.1 -14.2) scale(1.012 0.95)" font-size="21.5">1/2</text><text transform="translate(7.9 0) scale(1.012 1.035)">(cm/s)</text></g>
<text transform="translate(22.5 250.5) rotate(-90) scale(1.012 1.02)" text-anchor="middle">5−day FTLE (1/days)</text>
<text transform="translate(768.5 250) rotate(-90) scale(1.008 1.02)" text-anchor="middle">15−day FTLE (1/days)</text>
<g transform="translate(46 841.2) rotate(-90)"><text transform="translate(-87 0) scale(1.02)">EKE</text><text transform="translate(-29.8 -13.8) scale(1.02)" font-size="23.5">1/2</text><text transform="translate(11.6 0) scale(0.985 1.02)">(cm/s)</text></g>
<text transform="translate(768.5 839.2) rotate(-90) scale(1.008 1.02)" text-anchor="middle">15−day FTLE (1/days)</text>
<text x="-0.3" y="23.8" font-weight="bold" font-size="29.6" fill="#000">A</text>
<text x="748" y="23.8" font-weight="bold" font-size="29.6" fill="#000">B</text>
<text x="0" y="603.3" font-weight="bold" font-size="29.6" fill="#000">C</text>
<text x="750.8" y="603.3" font-weight="bold" font-size="29.6" fill="#000">D</text>
</g>
</svg>
</body></html>
